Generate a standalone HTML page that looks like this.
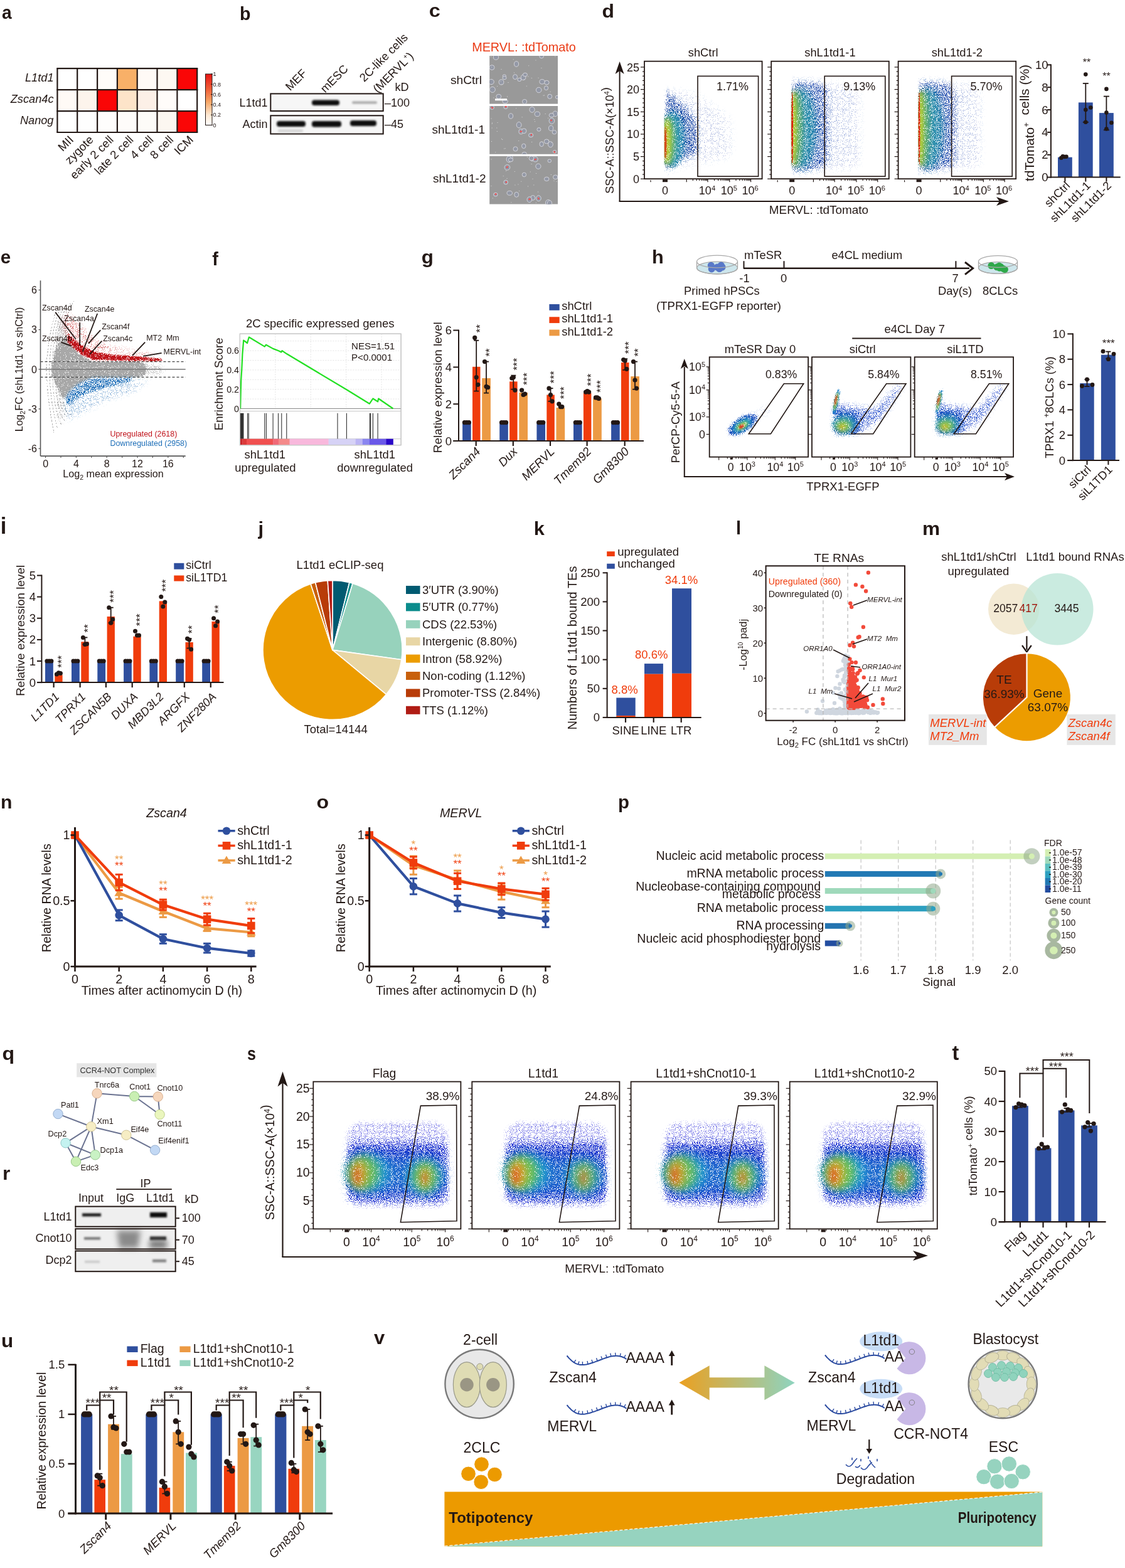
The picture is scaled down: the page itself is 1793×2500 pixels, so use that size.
<!DOCTYPE html>
<html><head><meta charset="utf-8"><title>Figure</title>
<style>html,body{margin:0;padding:0;background:#fff;}svg{display:block;}
text{font-family:'Liberation Sans', Arial, sans-serif;}</style></head>
<body><svg width="1793" height="2500" viewBox="0 0 1793 2500" fill="#231815" font-family="'Liberation Sans', Arial, sans-serif">
<rect width="1793" height="2500" fill="#fff"/>
<text x="0" y="0" font-size="29.4" font-weight="bold" transform="translate(3.1 29.7) scale(0.96 1)">a</text>
<rect x="91.4" y="109.2" width="31.8" height="33.9" fill="#ffffff" />
<rect x="123.2" y="109.2" width="31.8" height="33.9" fill="#ffffff" />
<rect x="155.1" y="109.2" width="31.8" height="33.9" fill="#fffcf9" />
<rect x="186.9" y="109.2" width="31.8" height="33.9" fill="#f8b068" />
<rect x="218.7" y="109.2" width="31.8" height="33.9" fill="#fffaf6" />
<rect x="250.5" y="109.2" width="31.8" height="33.9" fill="#fdf8f2" />
<rect x="282.4" y="109.2" width="31.8" height="33.9" fill="#fa0606" />
<rect x="91.4" y="143.1" width="31.8" height="33.9" fill="#fffaf6" />
<rect x="123.2" y="143.1" width="31.8" height="33.9" fill="#fdf4ec" />
<rect x="155.1" y="143.1" width="31.8" height="33.9" fill="#fa0606" />
<rect x="186.9" y="143.1" width="31.8" height="33.9" fill="#fde4c9" />
<rect x="218.7" y="143.1" width="31.8" height="33.9" fill="#fcf0e7" />
<rect x="250.5" y="143.1" width="31.8" height="33.9" fill="#fffcfa" />
<rect x="282.4" y="143.1" width="31.8" height="33.9" fill="#ffffff" />
<rect x="91.4" y="177.1" width="31.8" height="33.9" fill="#ffffff" />
<rect x="123.2" y="177.1" width="31.8" height="33.9" fill="#fefefe" />
<rect x="155.1" y="177.1" width="31.8" height="33.9" fill="#fefdfc" />
<rect x="186.9" y="177.1" width="31.8" height="33.9" fill="#fefcfa" />
<rect x="218.7" y="177.1" width="31.8" height="33.9" fill="#fdfbf8" />
<rect x="250.5" y="177.1" width="31.8" height="33.9" fill="#fcf7f1" />
<rect x="282.4" y="177.1" width="31.8" height="33.9" fill="#fa0606" />
<line x1="91.4" y1="109.2" x2="91.4" y2="211.0" stroke="#231815" stroke-width="2.2" />
<line x1="123.2" y1="109.2" x2="123.2" y2="211.0" stroke="#231815" stroke-width="2.2" />
<line x1="155.1" y1="109.2" x2="155.1" y2="211.0" stroke="#231815" stroke-width="2.2" />
<line x1="186.9" y1="109.2" x2="186.9" y2="211.0" stroke="#231815" stroke-width="2.2" />
<line x1="218.7" y1="109.2" x2="218.7" y2="211.0" stroke="#231815" stroke-width="2.2" />
<line x1="250.5" y1="109.2" x2="250.5" y2="211.0" stroke="#231815" stroke-width="2.2" />
<line x1="282.4" y1="109.2" x2="282.4" y2="211.0" stroke="#231815" stroke-width="2.2" />
<line x1="314.2" y1="109.2" x2="314.2" y2="211.0" stroke="#231815" stroke-width="2.2" />
<line x1="90.3" y1="109.2" x2="315.3" y2="109.2" stroke="#231815" stroke-width="2.2" />
<line x1="90.3" y1="143.1" x2="315.3" y2="143.1" stroke="#231815" stroke-width="2.2" />
<line x1="90.3" y1="177.1" x2="315.3" y2="177.1" stroke="#231815" stroke-width="2.2" />
<line x1="90.3" y1="211.0" x2="315.3" y2="211.0" stroke="#231815" stroke-width="2.2" />
<text x="85.5" y="130.4" font-size="18.2" text-anchor="end" font-style="italic">L1td1</text>
<text x="85.5" y="164.3" font-size="18.2" text-anchor="end" font-style="italic">Zscan4c</text>
<text x="85.5" y="198.2" font-size="18.2" text-anchor="end" font-style="italic">Nanog</text>
<text x="118.3" y="224.0" font-size="18.6" text-anchor="end" transform="rotate(-45 118.3 224.0)">MII</text>
<text x="150.1" y="224.0" font-size="18.6" text-anchor="end" transform="rotate(-45 150.1 224.0)">zygote</text>
<text x="182.0" y="224.0" font-size="18.6" text-anchor="end" transform="rotate(-45 182.0 224.0)">early 2 cell</text>
<text x="213.8" y="224.0" font-size="18.6" text-anchor="end" transform="rotate(-45 213.8 224.0)">late 2 cell</text>
<text x="245.6" y="224.0" font-size="18.6" text-anchor="end" transform="rotate(-45 245.6 224.0)">4 cell</text>
<text x="277.5" y="224.0" font-size="18.6" text-anchor="end" transform="rotate(-45 277.5 224.0)">8 cell</text>
<text x="309.3" y="224.0" font-size="18.6" text-anchor="end" transform="rotate(-45 309.3 224.0)">ICM</text>
<defs><linearGradient id="cbar" x1="0" y1="1" x2="0" y2="0"><stop offset="0" stop-color="#ffffff"/><stop offset="0.2" stop-color="#fde8d2"/><stop offset="0.45" stop-color="#f7a868"/><stop offset="0.7" stop-color="#f06038"/><stop offset="1" stop-color="#e81414"/></linearGradient></defs>
<rect x="327.5" y="118.0" width="10.5" height="81.5" fill="url(#cbar)" stroke="#231815" stroke-width="1" />
<line x1="336.0" y1="199.5" x2="339.0" y2="199.5" stroke="#231815" stroke-width="1" />
<text x="339.5" y="202.7" font-size="9">0</text>
<line x1="336.0" y1="183.2" x2="339.0" y2="183.2" stroke="#231815" stroke-width="1" />
<text x="339.5" y="186.4" font-size="9">0.2</text>
<line x1="336.0" y1="166.9" x2="339.0" y2="166.9" stroke="#231815" stroke-width="1" />
<text x="339.5" y="170.1" font-size="9">0.4</text>
<line x1="336.0" y1="150.6" x2="339.0" y2="150.6" stroke="#231815" stroke-width="1" />
<text x="339.5" y="153.8" font-size="9">0.6</text>
<line x1="336.0" y1="134.3" x2="339.0" y2="134.3" stroke="#231815" stroke-width="1" />
<text x="339.5" y="137.5" font-size="9">0.8</text>
<line x1="336.0" y1="118.0" x2="339.0" y2="118.0" stroke="#231815" stroke-width="1" />
<text x="339.5" y="121.2" font-size="9">1</text>
<text x="0" y="0" font-size="28.6" font-weight="bold" transform="translate(382.1 31.7) scale(1.0 1)">b</text>
<defs><filter id="blr1" x="-20%" y="-100%" width="140%" height="300%"><feGaussianBlur stdDeviation="1.6"/></filter><linearGradient id="blotbg" x1="0" y1="0" x2="1" y2="0"><stop offset="0" stop-color="#f0f0f0"/><stop offset="1" stop-color="#e6e6e6"/></linearGradient></defs>
<rect x="431.3" y="149.4" width="179.4" height="27.6" fill="#f6f6f6" stroke="#231815" stroke-width="2" />
<rect x="431.3" y="184.3" width="179.4" height="29.2" fill="#f6f6f6" stroke="#231815" stroke-width="2" />
<g filter="url(#blr1)">
<rect x="497" y="159.5" width="44" height="8.5" rx="4" fill="#0a0a0a"/>
<rect x="561" y="161.5" width="40" height="4" rx="2" fill="#a8a8a8"/>
<rect x="441" y="193" width="46" height="9" rx="4" fill="#0a0a0a"/>
<rect x="497" y="193" width="47" height="9.5" rx="4" fill="#0a0a0a"/>
<rect x="558" y="192" width="42" height="9" rx="4" fill="#0a0a0a"/>
<rect x="443" y="206" width="40" height="5" rx="2" fill="#d6d6d6"/>
</g>
<text x="426.5" y="170.4" font-size="18" text-anchor="end">L1td1</text>
<text x="426.5" y="203.6" font-size="18" text-anchor="end">Actin</text>
<text x="613.0" y="170.4" font-size="18">–100</text>
<text x="613.0" y="203.6" font-size="18">–45</text>
<text x="629.5" y="145.0" font-size="18">kD</text>
<text x="490.0" y="118.0" font-size="18.5" text-anchor="end" transform="rotate(-45 490.0 118.0)">MEF</text>
<text x="556.0" y="111.0" font-size="18.5" text-anchor="end" transform="rotate(-45 556.0 111.0)">mESC</text>
<text x="651.0" y="61.0" font-size="18.5" text-anchor="end" transform="rotate(-45 651.0 61.0)">2C-like cells</text>
<text x="660.0" y="91.0" font-size="18.5" text-anchor="end" transform="rotate(-45 660.0 91.0)">(MERVL<tspan font-size="11" dy="-7">+</tspan><tspan dy="7">)</tspan></text>
<text x="0" y="0" font-size="29.0" font-weight="bold" transform="translate(683.7 26.5) scale(1.12 1)">c</text>
<text x="835.0" y="82.4" font-size="19.8" text-anchor="middle" fill="#ea3a14">MERVL: :tdTomato</text>
<defs><filter id="mblur" x="-30%" y="-30%" width="160%" height="160%"><feGaussianBlur stdDeviation="0.45"/></filter></defs>
<rect x="780.2" y="89.0" width="108.8" height="76.6" fill="#999999" />
<defs><clipPath id="mc1"><rect x="780.2" y="89" width="108.8" height="76.6"/></clipPath></defs>
<g clip-path="url(#mc1)">
<ellipse cx="794.8" cy="153.9" rx="4.0" ry="3.6" fill="#9398a6" stroke="#d8d8de" stroke-width="0.9" filter="url(#mblur)"/>
<ellipse cx="834.1" cy="123.4" rx="3.8" ry="4.2" fill="#9398a6" stroke="#d8d8de" stroke-width="0.9" filter="url(#mblur)"/>
<ellipse cx="790.4" cy="91.2" rx="4.1" ry="4.0" fill="#9398a6" stroke="#d8d8de" stroke-width="0.9" filter="url(#mblur)"/>
<ellipse cx="863.1" cy="89.2" rx="3.4" ry="3.7" fill="#9398a6" stroke="#d8d8de" stroke-width="0.9" filter="url(#mblur)"/>
<ellipse cx="805.1" cy="161.4" rx="4.2" ry="3.4" fill="#9398a6" stroke="#d8d8de" stroke-width="0.9" filter="url(#mblur)"/>
<ellipse cx="783.0" cy="130.5" rx="4.3" ry="4.1" fill="#9398a6" stroke="#d8d8de" stroke-width="0.9" filter="url(#mblur)"/>
<ellipse cx="803.8" cy="121.3" rx="2.7" ry="2.4" fill="#9398a6" stroke="#d8d8de" stroke-width="0.9" filter="url(#mblur)"/>
<ellipse cx="827.8" cy="127.0" rx="3.0" ry="2.7" fill="#9398a6" stroke="#d8d8de" stroke-width="0.9" filter="url(#mblur)"/>
<ellipse cx="804.0" cy="124.2" rx="3.1" ry="2.5" fill="#9398a6" stroke="#d8d8de" stroke-width="0.9" filter="url(#mblur)"/>
<ellipse cx="871.3" cy="131.6" rx="3.8" ry="3.3" fill="#9398a6" stroke="#d8d8de" stroke-width="0.9" filter="url(#mblur)"/>
<ellipse cx="888.2" cy="154.9" rx="2.8" ry="2.6" fill="#9398a6" stroke="#d8d8de" stroke-width="0.9" filter="url(#mblur)"/>
<ellipse cx="858.7" cy="143.5" rx="4.3" ry="4.2" fill="#9398a6" stroke="#d8d8de" stroke-width="0.9" filter="url(#mblur)"/>
<ellipse cx="870.5" cy="140.3" rx="3.1" ry="3.3" fill="#9398a6" stroke="#d8d8de" stroke-width="0.9" filter="url(#mblur)"/>
<ellipse cx="876.2" cy="153.8" rx="3.5" ry="3.6" fill="#9398a6" stroke="#d8d8de" stroke-width="0.9" filter="url(#mblur)"/>
<ellipse cx="784.0" cy="107.6" rx="4.0" ry="3.9" fill="#9398a6" stroke="#d8d8de" stroke-width="0.9" filter="url(#mblur)"/>
<ellipse cx="799.0" cy="131.0" rx="3.9" ry="4.1" fill="#9398a6" stroke="#d8d8de" stroke-width="0.9" filter="url(#mblur)"/>
<ellipse cx="821.0" cy="122.6" rx="3.5" ry="3.9" fill="#9398a6" stroke="#d8d8de" stroke-width="0.9" filter="url(#mblur)"/>
<ellipse cx="836.9" cy="119.1" rx="3.5" ry="2.8" fill="#9398a6" stroke="#d8d8de" stroke-width="0.9" filter="url(#mblur)"/>
<ellipse cx="784.9" cy="142.9" rx="4.4" ry="4.5" fill="#9398a6" stroke="#d8d8de" stroke-width="0.9" filter="url(#mblur)"/>
<ellipse cx="823.0" cy="102.0" rx="3.5" ry="4.2" fill="#9398a6" stroke="#d8d8de" stroke-width="0.9" filter="url(#mblur)"/>
<ellipse cx="864.0" cy="130.3" rx="4.1" ry="3.7" fill="#9398a6" stroke="#d8d8de" stroke-width="0.9" filter="url(#mblur)"/>
<ellipse cx="836.1" cy="162.0" rx="3.6" ry="3.6" fill="#9398a6" stroke="#d8d8de" stroke-width="0.9" filter="url(#mblur)"/>
<path d="M809.5,131.0h1v1h-1zM884.3,89.4h1v1h-1zM865.5,151.8h1v1h-1zM876.6,145.7h1v1h-1zM868.2,128.7h1v1h-1zM841.3,121.6h1v1h-1zM786.3,155.6h1v1h-1zM842.2,104.3h1v1h-1zM835.1,126.1h1v1h-1zM819.0,115.5h1v1h-1zM838.8,136.8h1v1h-1zM846.8,124.1h1v1h-1zM783.2,106.6h1v1h-1zM799.5,133.8h1v1h-1zM873.9,150.2h1v1h-1zM866.9,151.5h1v1h-1zM808.0,153.5h1v1h-1zM853.4,95.4h1v1h-1zM782.0,90.1h1v1h-1zM862.4,108.1h1v1h-1zM792.1,136.9h1v1h-1zM817.7,94.3h1v1h-1zM797.6,129.4h1v1h-1zM798.5,109.9h1v1h-1zM857.6,123.8h1v1h-1z" fill="#d8d8d8" />
</g>
<rect x="780.2" y="169.0" width="108.8" height="76.8" fill="#999999" />
<defs><clipPath id="mc2"><rect x="780.2" y="169" width="108.8" height="76.8"/></clipPath></defs>
<g clip-path="url(#mc2)">
<ellipse cx="884.2" cy="241.8" rx="2.7" ry="2.3" fill="#9398a6" stroke="#d8d8de" stroke-width="0.9" filter="url(#mblur)"/>
<ellipse cx="871.1" cy="225.5" rx="3.8" ry="3.5" fill="#9398a6" stroke="#d8d8de" stroke-width="0.9" filter="url(#mblur)"/>
<ellipse cx="846.1" cy="215.6" rx="3.6" ry="3.1" fill="#9398a6" stroke="#d8d8de" stroke-width="0.9" filter="url(#mblur)"/>
<ellipse cx="827.1" cy="199.2" rx="3.9" ry="4.7" fill="#9398a6" stroke="#d8d8de" stroke-width="0.9" filter="url(#mblur)"/>
<ellipse cx="883.5" cy="210.8" rx="3.4" ry="3.1" fill="#9398a6" stroke="#d8d8de" stroke-width="0.9" filter="url(#mblur)"/>
<ellipse cx="784.1" cy="171.1" rx="3.4" ry="3.2" fill="#9398a6" stroke="#d8d8de" stroke-width="0.9" filter="url(#mblur)"/>
<ellipse cx="821.5" cy="237.5" rx="3.5" ry="3.6" fill="#9398a6" stroke="#d8d8de" stroke-width="0.9" filter="url(#mblur)"/>
<ellipse cx="805.9" cy="170.8" rx="3.2" ry="2.7" fill="#9398a6" stroke="#d8d8de" stroke-width="0.9" filter="url(#mblur)"/>
<ellipse cx="835.7" cy="245.7" rx="3.8" ry="3.3" fill="#9398a6" stroke="#d8d8de" stroke-width="0.9" filter="url(#mblur)"/>
<ellipse cx="877.4" cy="230.2" rx="3.9" ry="4.6" fill="#9398a6" stroke="#d8d8de" stroke-width="0.9" filter="url(#mblur)"/>
<ellipse cx="863.2" cy="229.7" rx="3.2" ry="3.9" fill="#9398a6" stroke="#d8d8de" stroke-width="0.9" filter="url(#mblur)"/>
<ellipse cx="884.9" cy="181.4" rx="4.0" ry="4.3" fill="#9398a6" stroke="#d8d8de" stroke-width="0.9" filter="url(#mblur)"/>
<ellipse cx="830.4" cy="209.7" rx="3.5" ry="4.1" fill="#9398a6" stroke="#d8d8de" stroke-width="0.9" filter="url(#mblur)"/>
<ellipse cx="834.7" cy="232.9" rx="3.2" ry="3.7" fill="#9398a6" stroke="#d8d8de" stroke-width="0.9" filter="url(#mblur)"/>
<ellipse cx="878.1" cy="204.4" rx="3.6" ry="4.2" fill="#9398a6" stroke="#d8d8de" stroke-width="0.9" filter="url(#mblur)"/>
<ellipse cx="858.9" cy="206.4" rx="3.0" ry="2.8" fill="#9398a6" stroke="#d8d8de" stroke-width="0.9" filter="url(#mblur)"/>
<ellipse cx="856.3" cy="181.8" rx="4.2" ry="3.8" fill="#9398a6" stroke="#d8d8de" stroke-width="0.9" filter="url(#mblur)"/>
<ellipse cx="879.4" cy="192.8" rx="4.3" ry="4.7" fill="#9398a6" stroke="#d8d8de" stroke-width="0.9" filter="url(#mblur)"/>
<ellipse cx="835.1" cy="208.8" rx="3.8" ry="3.9" fill="#9398a6" stroke="#d8d8de" stroke-width="0.9" filter="url(#mblur)"/>
<ellipse cx="814.1" cy="185.0" rx="3.5" ry="4.1" fill="#9398a6" stroke="#d8d8de" stroke-width="0.9" filter="url(#mblur)"/>
<ellipse cx="848.0" cy="174.8" rx="4.1" ry="4.4" fill="#9398a6" stroke="#d8d8de" stroke-width="0.9" filter="url(#mblur)"/>
<ellipse cx="879.0" cy="183.7" rx="3.9" ry="3.2" fill="#9398a6" stroke="#d8d8de" stroke-width="0.9" filter="url(#mblur)"/>
<path d="M851.2,190.0h1v1h-1zM804.9,236.2h1v1h-1zM791.8,209.1h1v1h-1zM873.1,187.8h1v1h-1zM803.1,236.6h1v1h-1zM826.2,224.1h1v1h-1zM783.7,196.8h1v1h-1zM798.9,220.7h1v1h-1zM789.2,242.3h1v1h-1zM783.0,225.0h1v1h-1zM782.5,188.6h1v1h-1zM868.7,181.1h1v1h-1zM800.2,222.1h1v1h-1zM822.1,172.3h1v1h-1zM887.9,180.6h1v1h-1zM784.1,195.4h1v1h-1zM847.1,226.0h1v1h-1zM792.5,194.9h1v1h-1zM783.6,203.5h1v1h-1zM863.5,225.8h1v1h-1zM878.3,227.0h1v1h-1zM874.0,223.2h1v1h-1zM831.6,186.3h1v1h-1zM852.1,193.3h1v1h-1zM791.3,203.4h1v1h-1z" fill="#d8d8d8" />
<circle cx="846.9" cy="214.9" r="1.3" fill="#f04848" />
<circle cx="846.4" cy="215.3" r="0.9" fill="#f06060" />
<circle cx="805.9" cy="170.1" r="1.3" fill="#f04848" />
<circle cx="807.3" cy="170.1" r="0.9" fill="#f06060" />
<circle cx="830.6" cy="209.6" r="1.3" fill="#f04848" />
<circle cx="829.0" cy="209.9" r="0.9" fill="#f06060" />
<circle cx="878.6" cy="191.9" r="1.3" fill="#f04848" />
<circle cx="878.0" cy="191.8" r="0.9" fill="#f06060" />
<circle cx="883.4" cy="242.1" r="1.3" fill="#f04848" />
<circle cx="884.2" cy="243.2" r="0.9" fill="#f06060" />
<circle cx="785.0" cy="172.1" r="1.3" fill="#f04848" />
<circle cx="783.3" cy="170.9" r="0.9" fill="#f06060" />
</g>
<rect x="780.2" y="249.0" width="108.8" height="76.5" fill="#999999" />
<defs><clipPath id="mc3"><rect x="780.2" y="249" width="108.8" height="76.5"/></clipPath></defs>
<g clip-path="url(#mc3)">
<ellipse cx="806.1" cy="290.6" rx="3.3" ry="3.4" fill="#9398a6" stroke="#d8d8de" stroke-width="0.9" filter="url(#mblur)"/>
<ellipse cx="848.3" cy="254.0" rx="2.6" ry="3.0" fill="#9398a6" stroke="#d8d8de" stroke-width="0.9" filter="url(#mblur)"/>
<ellipse cx="808.4" cy="266.9" rx="4.4" ry="4.3" fill="#9398a6" stroke="#d8d8de" stroke-width="0.9" filter="url(#mblur)"/>
<ellipse cx="871.2" cy="285.4" rx="3.8" ry="3.2" fill="#9398a6" stroke="#d8d8de" stroke-width="0.9" filter="url(#mblur)"/>
<ellipse cx="849.3" cy="315.4" rx="3.5" ry="3.9" fill="#9398a6" stroke="#d8d8de" stroke-width="0.9" filter="url(#mblur)"/>
<ellipse cx="853.2" cy="253.9" rx="4.0" ry="4.1" fill="#9398a6" stroke="#d8d8de" stroke-width="0.9" filter="url(#mblur)"/>
<ellipse cx="813.0" cy="251.4" rx="4.2" ry="4.1" fill="#9398a6" stroke="#d8d8de" stroke-width="0.9" filter="url(#mblur)"/>
<ellipse cx="858.4" cy="316.2" rx="3.9" ry="4.5" fill="#9398a6" stroke="#d8d8de" stroke-width="0.9" filter="url(#mblur)"/>
<ellipse cx="823.2" cy="310.3" rx="3.4" ry="4.0" fill="#9398a6" stroke="#d8d8de" stroke-width="0.9" filter="url(#mblur)"/>
<ellipse cx="875.8" cy="256.5" rx="2.8" ry="2.5" fill="#9398a6" stroke="#d8d8de" stroke-width="0.9" filter="url(#mblur)"/>
<ellipse cx="885.2" cy="282.4" rx="3.7" ry="3.4" fill="#9398a6" stroke="#d8d8de" stroke-width="0.9" filter="url(#mblur)"/>
<ellipse cx="835.4" cy="278.5" rx="3.2" ry="3.3" fill="#9398a6" stroke="#d8d8de" stroke-width="0.9" filter="url(#mblur)"/>
<ellipse cx="843.8" cy="318.2" rx="3.8" ry="4.5" fill="#9398a6" stroke="#d8d8de" stroke-width="0.9" filter="url(#mblur)"/>
<ellipse cx="873.4" cy="324.8" rx="3.8" ry="3.3" fill="#9398a6" stroke="#d8d8de" stroke-width="0.9" filter="url(#mblur)"/>
<ellipse cx="873.8" cy="322.8" rx="4.2" ry="4.3" fill="#9398a6" stroke="#d8d8de" stroke-width="0.9" filter="url(#mblur)"/>
<ellipse cx="857.9" cy="265.2" rx="4.1" ry="4.2" fill="#9398a6" stroke="#d8d8de" stroke-width="0.9" filter="url(#mblur)"/>
<ellipse cx="811.2" cy="253.9" rx="4.1" ry="4.9" fill="#9398a6" stroke="#d8d8de" stroke-width="0.9" filter="url(#mblur)"/>
<ellipse cx="789.8" cy="310.2" rx="3.3" ry="2.9" fill="#9398a6" stroke="#d8d8de" stroke-width="0.9" filter="url(#mblur)"/>
<ellipse cx="812.2" cy="307.8" rx="4.2" ry="3.4" fill="#9398a6" stroke="#d8d8de" stroke-width="0.9" filter="url(#mblur)"/>
<ellipse cx="847.1" cy="252.4" rx="3.9" ry="3.6" fill="#9398a6" stroke="#d8d8de" stroke-width="0.9" filter="url(#mblur)"/>
<ellipse cx="876.0" cy="324.0" rx="3.5" ry="4.2" fill="#9398a6" stroke="#d8d8de" stroke-width="0.9" filter="url(#mblur)"/>
<ellipse cx="813.9" cy="254.9" rx="3.7" ry="3.0" fill="#9398a6" stroke="#d8d8de" stroke-width="0.9" filter="url(#mblur)"/>
<path d="M801.7,280.2h1v1h-1zM846.6,260.9h1v1h-1zM784.8,315.4h1v1h-1zM814.3,322.3h1v1h-1zM877.8,277.9h1v1h-1zM830.3,288.8h1v1h-1zM850.3,294.6h1v1h-1zM841.0,296.4h1v1h-1zM882.5,287.8h1v1h-1zM827.1,304.1h1v1h-1zM806.1,272.0h1v1h-1zM886.6,288.9h1v1h-1zM839.9,249.9h1v1h-1zM825.4,293.4h1v1h-1zM782.4,296.1h1v1h-1zM849.0,253.6h1v1h-1zM848.5,284.7h1v1h-1zM854.1,276.0h1v1h-1zM857.1,305.5h1v1h-1zM782.6,253.6h1v1h-1zM853.8,322.7h1v1h-1zM807.5,283.9h1v1h-1zM844.7,273.5h1v1h-1zM819.8,272.9h1v1h-1zM820.4,294.6h1v1h-1z" fill="#d8d8d8" />
<circle cx="808.0" cy="266.7" r="1.3" fill="#f04848" />
<circle cx="809.2" cy="265.5" r="0.9" fill="#f06060" />
<circle cx="858.5" cy="316.7" r="1.3" fill="#f04848" />
<circle cx="857.8" cy="315.4" r="0.9" fill="#f06060" />
<circle cx="844.4" cy="317.6" r="1.3" fill="#f04848" />
<circle cx="842.8" cy="318.0" r="0.9" fill="#f06060" />
<circle cx="790.2" cy="309.4" r="1.3" fill="#f04848" />
<circle cx="789.3" cy="309.7" r="0.9" fill="#f06060" />
<circle cx="806.8" cy="290.5" r="1.3" fill="#f04848" />
<circle cx="807.2" cy="289.6" r="0.9" fill="#f06060" />
<circle cx="852.9" cy="254.2" r="1.3" fill="#f04848" />
<circle cx="854.4" cy="253.8" r="0.9" fill="#f06060" />
</g>
<rect x="789.0" y="157.3" width="19.0" height="3.0" fill="#ffffff" />
<text x="768.0" y="133.7" font-size="19.2" text-anchor="end">shCtrl</text>
<text x="773.0" y="213.0" font-size="19" text-anchor="end">shL1td1-1</text>
<text x="774.5" y="291.4" font-size="19" text-anchor="end">shL1td1-2</text>
<text x="0" y="0" font-size="29.5" font-weight="bold" transform="translate(959.6 28.4) scale(1.08 1)">d</text>
<defs><filter id="spk" filterUnits="userSpaceOnUse" x="0" y="0" width="1793" height="2500" color-interpolation-filters="sRGB"><feTurbulence type="fractalNoise" baseFrequency="0.9" numOctaves="1" seed="4" result="n"/><feColorMatrix in="n" type="matrix" values="0 0 0 0 0  0 0 0 0 0  0 0 0 0 0  3 0 0 0 -1" result="na"/><feComposite in="SourceAlpha" in2="na" operator="arithmetic" k1="0" k2="1" k3="-1" k4="0" result="d"/><feComponentTransfer in="d" result="m"><feFuncA type="linear" slope="30" intercept="0"/></feComponentTransfer><feComposite in="SourceGraphic" in2="m" operator="in" result="o"/><feComponentTransfer in="o"><feFuncA type="linear" slope="2.2" intercept="0"/></feComponentTransfer></filter></defs>
<defs><clipPath id="fc1"><rect x="1058.5" y="97.7" width="156.1" height="187.5"/></clipPath></defs>
<g clip-path="url(#fc1)">
<g filter="url(#spk)">
<defs><filter id="gb0" x="-60%" y="-60%" width="220%" height="220%"><feGaussianBlur stdDeviation="7"/></filter></defs>
<path d="M1060.0,140.0 L1110.0,150.0 L1165.0,190.0 L1165.0,250.0 L1110.0,262.0 L1060.0,272.0 Z" fill="#2850b0" fill-opacity="0.16" filter="url(#gb0)"/>
<defs><filter id="gb1" x="-60%" y="-60%" width="220%" height="220%"><feGaussianBlur stdDeviation="5"/></filter></defs>
<path d="M1060.0,142.0 L1080.0,158.0 L1112.0,192.0 L1112.0,245.0 L1080.0,258.0 L1060.0,276.0 Z" fill="#2048a8" fill-opacity="0.42" filter="url(#gb1)"/>
<ellipse cx="1072.0" cy="222.0" rx="18.0" ry="44.0" fill="#38a8b8" fill-opacity="0.7" filter="url(#gb1)"/>
<defs><filter id="gb2" x="-60%" y="-60%" width="220%" height="220%"><feGaussianBlur stdDeviation="4"/></filter></defs>
<ellipse cx="1066.0" cy="225.0" rx="10.0" ry="38.0" fill="#90c840" fill-opacity="0.6" filter="url(#gb2)"/>
<defs><filter id="gb3" x="-60%" y="-60%" width="220%" height="220%"><feGaussianBlur stdDeviation="3"/></filter></defs>
<ellipse cx="1063.0" cy="225.0" rx="6.0" ry="36.0" fill="#c8d030" fill-opacity="0.85" filter="url(#gb3)"/>
<defs><filter id="gb4" x="-60%" y="-60%" width="220%" height="220%"><feGaussianBlur stdDeviation="0.8"/></filter></defs>
<ellipse cx="1060.5" cy="228.0" rx="1.5" ry="26.0" fill="#e02010" fill-opacity="1" filter="url(#gb4)"/>
</g>
</g>
<rect x="1027.0" y="97.7" width="187.6" height="187.5" fill="none" stroke="#231815" stroke-width="1.8" />
<rect x="1112.0" y="121.4" width="96.6" height="159.8" fill="none" stroke="#231815" stroke-width="1.6" />
<text x="1193.0" y="143.5" font-size="18" text-anchor="end">1.71%</text>
<text x="1120.7" y="89.6" font-size="18.3" text-anchor="middle">shCtrl</text>
<line x1="1021.0" y1="285.2" x2="1027.0" y2="285.2" stroke="#231815" stroke-width="1.2" />
<line x1="1024.0" y1="278.1" x2="1027.0" y2="278.1" stroke="#231815" stroke-width="1.2" />
<line x1="1024.0" y1="270.9" x2="1027.0" y2="270.9" stroke="#231815" stroke-width="1.2" />
<line x1="1024.0" y1="263.8" x2="1027.0" y2="263.8" stroke="#231815" stroke-width="1.2" />
<line x1="1024.0" y1="256.7" x2="1027.0" y2="256.7" stroke="#231815" stroke-width="1.2" />
<line x1="1021.0" y1="249.6" x2="1027.0" y2="249.6" stroke="#231815" stroke-width="1.2" />
<line x1="1024.0" y1="242.4" x2="1027.0" y2="242.4" stroke="#231815" stroke-width="1.2" />
<line x1="1024.0" y1="235.3" x2="1027.0" y2="235.3" stroke="#231815" stroke-width="1.2" />
<line x1="1024.0" y1="228.2" x2="1027.0" y2="228.2" stroke="#231815" stroke-width="1.2" />
<line x1="1024.0" y1="221.0" x2="1027.0" y2="221.0" stroke="#231815" stroke-width="1.2" />
<line x1="1021.0" y1="213.9" x2="1027.0" y2="213.9" stroke="#231815" stroke-width="1.2" />
<line x1="1024.0" y1="206.8" x2="1027.0" y2="206.8" stroke="#231815" stroke-width="1.2" />
<line x1="1024.0" y1="199.7" x2="1027.0" y2="199.7" stroke="#231815" stroke-width="1.2" />
<line x1="1024.0" y1="192.5" x2="1027.0" y2="192.5" stroke="#231815" stroke-width="1.2" />
<line x1="1024.0" y1="185.4" x2="1027.0" y2="185.4" stroke="#231815" stroke-width="1.2" />
<line x1="1021.0" y1="178.3" x2="1027.0" y2="178.3" stroke="#231815" stroke-width="1.2" />
<line x1="1024.0" y1="171.2" x2="1027.0" y2="171.2" stroke="#231815" stroke-width="1.2" />
<line x1="1024.0" y1="164.0" x2="1027.0" y2="164.0" stroke="#231815" stroke-width="1.2" />
<line x1="1024.0" y1="156.9" x2="1027.0" y2="156.9" stroke="#231815" stroke-width="1.2" />
<line x1="1024.0" y1="149.8" x2="1027.0" y2="149.8" stroke="#231815" stroke-width="1.2" />
<line x1="1021.0" y1="142.6" x2="1027.0" y2="142.6" stroke="#231815" stroke-width="1.2" />
<line x1="1024.0" y1="135.5" x2="1027.0" y2="135.5" stroke="#231815" stroke-width="1.2" />
<line x1="1024.0" y1="128.4" x2="1027.0" y2="128.4" stroke="#231815" stroke-width="1.2" />
<line x1="1024.0" y1="121.3" x2="1027.0" y2="121.3" stroke="#231815" stroke-width="1.2" />
<line x1="1024.0" y1="114.1" x2="1027.0" y2="114.1" stroke="#231815" stroke-width="1.2" />
<line x1="1021.0" y1="107.0" x2="1027.0" y2="107.0" stroke="#231815" stroke-width="1.2" />
<path d="M1104.4,285.2v3.0M1110.3,285.2v3.0M1114.5,285.2v3.0M1117.8,285.2v3.0M1120.5,285.2v3.0M1122.8,285.2v3.0M1124.7,285.2v3.0M1126.5,285.2v3.0M1138.5,285.2v3.0M1144.6,285.2v3.0M1149.0,285.2v3.0M1152.3,285.2v3.0M1155.1,285.2v3.0M1157.4,285.2v3.0M1159.4,285.2v3.0M1161.2,285.2v3.0M1173.0,285.2v3.0M1178.9,285.2v3.0M1183.1,285.2v3.0M1186.4,285.2v3.0M1189.1,285.2v3.0M1191.4,285.2v3.0M1193.3,285.2v3.0M1195.1,285.2v3.0M1094.2,285.2v5.0M1128.0,285.2v5.0M1162.8,285.2v5.0M1196.6,285.2v5.0" fill="none" stroke="#231815" stroke-width="1.2" />
<line x1="1037.0" y1="287.2" x2="1037.0" y2="290.2" stroke="#231815" stroke-width="1.2" />
<rect x="1056.0" y="286.2" width="8.0" height="4.0" fill="#231815" />
<text x="1060.0" y="310.4" font-size="18" text-anchor="middle">0</text>
<text x="1127.0" y="310.4" font-size="18" text-anchor="middle">10<tspan font-size="11.2" dy="-6.8">4</tspan></text>
<text x="1161.8" y="310.4" font-size="18" text-anchor="middle">10<tspan font-size="11.2" dy="-6.8">5</tspan></text>
<text x="1195.6" y="310.4" font-size="18" text-anchor="middle">10<tspan font-size="11.2" dy="-6.8">6</tspan></text>
<defs><clipPath id="fc2"><rect x="1260.7" y="97.7" width="156.1" height="187.5"/></clipPath></defs>
<g clip-path="url(#fc2)">
<g filter="url(#spk)">
<path d="M1262.2,130.0 L1360.2,135.0 L1370.2,150.0 L1370.2,260.0 L1360.2,268.0 L1262.2,272.0 Z" fill="#2850b0" fill-opacity="0.18" filter="url(#gb0)"/>
<path d="M1262.2,127.0 L1307.2,130.0 L1320.2,142.0 L1320.2,262.0 L1307.2,270.0 L1262.2,277.0 Z" fill="#2048a8" fill-opacity="0.36" filter="url(#gb1)"/>
<defs><filter id="gb5" x="-60%" y="-60%" width="220%" height="220%"><feGaussianBlur stdDeviation="6"/></filter></defs>
<ellipse cx="1278.2" cy="205.0" rx="22.0" ry="64.0" fill="#38a8b0" fill-opacity="0.6" filter="url(#gb5)"/>
<ellipse cx="1269.2" cy="205.0" rx="9.0" ry="62.0" fill="#90c840" fill-opacity="0.55" filter="url(#gb2)"/>
<defs><filter id="gb6" x="-60%" y="-60%" width="220%" height="220%"><feGaussianBlur stdDeviation="2.5"/></filter></defs>
<ellipse cx="1265.2" cy="205.0" rx="4.0" ry="60.0" fill="#c0d030" fill-opacity="0.85" filter="url(#gb6)"/>
<defs><filter id="gb7" x="-60%" y="-60%" width="220%" height="220%"><feGaussianBlur stdDeviation="0.7"/></filter></defs>
<ellipse cx="1262.7" cy="205.0" rx="1.3" ry="58.0" fill="#e02010" fill-opacity="1" filter="url(#gb7)"/>
</g>
</g>
<rect x="1229.2" y="97.7" width="187.6" height="187.5" fill="none" stroke="#231815" stroke-width="1.8" />
<rect x="1314.2" y="121.4" width="96.6" height="159.8" fill="none" stroke="#231815" stroke-width="1.6" />
<text x="1395.2" y="143.5" font-size="18" text-anchor="end">9.13%</text>
<text x="1322.9" y="89.6" font-size="18.3" text-anchor="middle">shL1td1-1</text>
<line x1="1223.2" y1="285.2" x2="1229.2" y2="285.2" stroke="#231815" stroke-width="1.2" />
<line x1="1226.2" y1="278.1" x2="1229.2" y2="278.1" stroke="#231815" stroke-width="1.2" />
<line x1="1226.2" y1="270.9" x2="1229.2" y2="270.9" stroke="#231815" stroke-width="1.2" />
<line x1="1226.2" y1="263.8" x2="1229.2" y2="263.8" stroke="#231815" stroke-width="1.2" />
<line x1="1226.2" y1="256.7" x2="1229.2" y2="256.7" stroke="#231815" stroke-width="1.2" />
<line x1="1223.2" y1="249.6" x2="1229.2" y2="249.6" stroke="#231815" stroke-width="1.2" />
<line x1="1226.2" y1="242.4" x2="1229.2" y2="242.4" stroke="#231815" stroke-width="1.2" />
<line x1="1226.2" y1="235.3" x2="1229.2" y2="235.3" stroke="#231815" stroke-width="1.2" />
<line x1="1226.2" y1="228.2" x2="1229.2" y2="228.2" stroke="#231815" stroke-width="1.2" />
<line x1="1226.2" y1="221.0" x2="1229.2" y2="221.0" stroke="#231815" stroke-width="1.2" />
<line x1="1223.2" y1="213.9" x2="1229.2" y2="213.9" stroke="#231815" stroke-width="1.2" />
<line x1="1226.2" y1="206.8" x2="1229.2" y2="206.8" stroke="#231815" stroke-width="1.2" />
<line x1="1226.2" y1="199.7" x2="1229.2" y2="199.7" stroke="#231815" stroke-width="1.2" />
<line x1="1226.2" y1="192.5" x2="1229.2" y2="192.5" stroke="#231815" stroke-width="1.2" />
<line x1="1226.2" y1="185.4" x2="1229.2" y2="185.4" stroke="#231815" stroke-width="1.2" />
<line x1="1223.2" y1="178.3" x2="1229.2" y2="178.3" stroke="#231815" stroke-width="1.2" />
<line x1="1226.2" y1="171.2" x2="1229.2" y2="171.2" stroke="#231815" stroke-width="1.2" />
<line x1="1226.2" y1="164.0" x2="1229.2" y2="164.0" stroke="#231815" stroke-width="1.2" />
<line x1="1226.2" y1="156.9" x2="1229.2" y2="156.9" stroke="#231815" stroke-width="1.2" />
<line x1="1226.2" y1="149.8" x2="1229.2" y2="149.8" stroke="#231815" stroke-width="1.2" />
<line x1="1223.2" y1="142.6" x2="1229.2" y2="142.6" stroke="#231815" stroke-width="1.2" />
<line x1="1226.2" y1="135.5" x2="1229.2" y2="135.5" stroke="#231815" stroke-width="1.2" />
<line x1="1226.2" y1="128.4" x2="1229.2" y2="128.4" stroke="#231815" stroke-width="1.2" />
<line x1="1226.2" y1="121.3" x2="1229.2" y2="121.3" stroke="#231815" stroke-width="1.2" />
<line x1="1226.2" y1="114.1" x2="1229.2" y2="114.1" stroke="#231815" stroke-width="1.2" />
<line x1="1223.2" y1="107.0" x2="1229.2" y2="107.0" stroke="#231815" stroke-width="1.2" />
<path d="M1306.6,285.2v3.0M1312.5,285.2v3.0M1316.7,285.2v3.0M1320.0,285.2v3.0M1322.7,285.2v3.0M1325.0,285.2v3.0M1326.9,285.2v3.0M1328.7,285.2v3.0M1340.7,285.2v3.0M1346.8,285.2v3.0M1351.2,285.2v3.0M1354.5,285.2v3.0M1357.3,285.2v3.0M1359.6,285.2v3.0M1361.6,285.2v3.0M1363.4,285.2v3.0M1375.2,285.2v3.0M1381.1,285.2v3.0M1385.3,285.2v3.0M1388.6,285.2v3.0M1391.3,285.2v3.0M1393.6,285.2v3.0M1395.5,285.2v3.0M1397.3,285.2v3.0M1296.4,285.2v5.0M1330.2,285.2v5.0M1365.0,285.2v5.0M1398.8,285.2v5.0" fill="none" stroke="#231815" stroke-width="1.2" />
<line x1="1239.2" y1="287.2" x2="1239.2" y2="290.2" stroke="#231815" stroke-width="1.2" />
<rect x="1258.2" y="286.2" width="8.0" height="4.0" fill="#231815" />
<text x="1262.2" y="310.4" font-size="18" text-anchor="middle">0</text>
<text x="1329.2" y="310.4" font-size="18" text-anchor="middle">10<tspan font-size="11.2" dy="-6.8">4</tspan></text>
<text x="1364.0" y="310.4" font-size="18" text-anchor="middle">10<tspan font-size="11.2" dy="-6.8">5</tspan></text>
<text x="1397.8" y="310.4" font-size="18" text-anchor="middle">10<tspan font-size="11.2" dy="-6.8">6</tspan></text>
<defs><clipPath id="fc3"><rect x="1463.1" y="97.7" width="156.1" height="187.5"/></clipPath></defs>
<g clip-path="url(#fc3)">
<g filter="url(#spk)">
<path d="M1464.6,130.0 L1552.6,135.0 L1562.6,150.0 L1562.6,260.0 L1552.6,268.0 L1464.6,272.0 Z" fill="#2850b0" fill-opacity="0.18" filter="url(#gb0)"/>
<path d="M1464.6,127.0 L1509.6,130.0 L1522.6,142.0 L1522.6,262.0 L1509.6,270.0 L1464.6,277.0 Z" fill="#2048a8" fill-opacity="0.36" filter="url(#gb1)"/>
<ellipse cx="1480.6" cy="205.0" rx="22.0" ry="64.0" fill="#38a8b0" fill-opacity="0.6" filter="url(#gb5)"/>
<ellipse cx="1471.6" cy="205.0" rx="9.0" ry="62.0" fill="#90c840" fill-opacity="0.55" filter="url(#gb2)"/>
<ellipse cx="1467.6" cy="205.0" rx="4.0" ry="60.0" fill="#c0d030" fill-opacity="0.85" filter="url(#gb6)"/>
<ellipse cx="1465.1" cy="205.0" rx="1.3" ry="58.0" fill="#e02010" fill-opacity="1" filter="url(#gb7)"/>
</g>
</g>
<rect x="1431.6" y="97.7" width="187.6" height="187.5" fill="none" stroke="#231815" stroke-width="1.8" />
<rect x="1516.6" y="121.4" width="96.6" height="159.8" fill="none" stroke="#231815" stroke-width="1.6" />
<text x="1597.6" y="143.5" font-size="18" text-anchor="end">5.70%</text>
<text x="1525.3" y="89.6" font-size="18.3" text-anchor="middle">shL1td1-2</text>
<line x1="1425.6" y1="285.2" x2="1431.6" y2="285.2" stroke="#231815" stroke-width="1.2" />
<line x1="1428.6" y1="278.1" x2="1431.6" y2="278.1" stroke="#231815" stroke-width="1.2" />
<line x1="1428.6" y1="270.9" x2="1431.6" y2="270.9" stroke="#231815" stroke-width="1.2" />
<line x1="1428.6" y1="263.8" x2="1431.6" y2="263.8" stroke="#231815" stroke-width="1.2" />
<line x1="1428.6" y1="256.7" x2="1431.6" y2="256.7" stroke="#231815" stroke-width="1.2" />
<line x1="1425.6" y1="249.6" x2="1431.6" y2="249.6" stroke="#231815" stroke-width="1.2" />
<line x1="1428.6" y1="242.4" x2="1431.6" y2="242.4" stroke="#231815" stroke-width="1.2" />
<line x1="1428.6" y1="235.3" x2="1431.6" y2="235.3" stroke="#231815" stroke-width="1.2" />
<line x1="1428.6" y1="228.2" x2="1431.6" y2="228.2" stroke="#231815" stroke-width="1.2" />
<line x1="1428.6" y1="221.0" x2="1431.6" y2="221.0" stroke="#231815" stroke-width="1.2" />
<line x1="1425.6" y1="213.9" x2="1431.6" y2="213.9" stroke="#231815" stroke-width="1.2" />
<line x1="1428.6" y1="206.8" x2="1431.6" y2="206.8" stroke="#231815" stroke-width="1.2" />
<line x1="1428.6" y1="199.7" x2="1431.6" y2="199.7" stroke="#231815" stroke-width="1.2" />
<line x1="1428.6" y1="192.5" x2="1431.6" y2="192.5" stroke="#231815" stroke-width="1.2" />
<line x1="1428.6" y1="185.4" x2="1431.6" y2="185.4" stroke="#231815" stroke-width="1.2" />
<line x1="1425.6" y1="178.3" x2="1431.6" y2="178.3" stroke="#231815" stroke-width="1.2" />
<line x1="1428.6" y1="171.2" x2="1431.6" y2="171.2" stroke="#231815" stroke-width="1.2" />
<line x1="1428.6" y1="164.0" x2="1431.6" y2="164.0" stroke="#231815" stroke-width="1.2" />
<line x1="1428.6" y1="156.9" x2="1431.6" y2="156.9" stroke="#231815" stroke-width="1.2" />
<line x1="1428.6" y1="149.8" x2="1431.6" y2="149.8" stroke="#231815" stroke-width="1.2" />
<line x1="1425.6" y1="142.6" x2="1431.6" y2="142.6" stroke="#231815" stroke-width="1.2" />
<line x1="1428.6" y1="135.5" x2="1431.6" y2="135.5" stroke="#231815" stroke-width="1.2" />
<line x1="1428.6" y1="128.4" x2="1431.6" y2="128.4" stroke="#231815" stroke-width="1.2" />
<line x1="1428.6" y1="121.3" x2="1431.6" y2="121.3" stroke="#231815" stroke-width="1.2" />
<line x1="1428.6" y1="114.1" x2="1431.6" y2="114.1" stroke="#231815" stroke-width="1.2" />
<line x1="1425.6" y1="107.0" x2="1431.6" y2="107.0" stroke="#231815" stroke-width="1.2" />
<path d="M1509.0,285.2v3.0M1514.9,285.2v3.0M1519.1,285.2v3.0M1522.4,285.2v3.0M1525.1,285.2v3.0M1527.4,285.2v3.0M1529.3,285.2v3.0M1531.1,285.2v3.0M1543.1,285.2v3.0M1549.2,285.2v3.0M1553.6,285.2v3.0M1556.9,285.2v3.0M1559.7,285.2v3.0M1562.0,285.2v3.0M1564.0,285.2v3.0M1565.8,285.2v3.0M1577.6,285.2v3.0M1583.5,285.2v3.0M1587.7,285.2v3.0M1591.0,285.2v3.0M1593.7,285.2v3.0M1596.0,285.2v3.0M1597.9,285.2v3.0M1599.7,285.2v3.0M1498.8,285.2v5.0M1532.6,285.2v5.0M1567.4,285.2v5.0M1601.2,285.2v5.0" fill="none" stroke="#231815" stroke-width="1.2" />
<line x1="1441.6" y1="287.2" x2="1441.6" y2="290.2" stroke="#231815" stroke-width="1.2" />
<rect x="1460.6" y="286.2" width="8.0" height="4.0" fill="#231815" />
<text x="1464.6" y="310.4" font-size="18" text-anchor="middle">0</text>
<text x="1531.6" y="310.4" font-size="18" text-anchor="middle">10<tspan font-size="11.2" dy="-6.8">4</tspan></text>
<text x="1566.4" y="310.4" font-size="18" text-anchor="middle">10<tspan font-size="11.2" dy="-6.8">5</tspan></text>
<text x="1600.2" y="310.4" font-size="18" text-anchor="middle">10<tspan font-size="11.2" dy="-6.8">6</tspan></text>
<text x="1019.0" y="291.5" font-size="18" text-anchor="end">0</text>
<text x="1019.0" y="255.9" font-size="18" text-anchor="end">5</text>
<text x="1019.0" y="220.3" font-size="18" text-anchor="end">10</text>
<text x="1019.0" y="184.7" font-size="18" text-anchor="end">15</text>
<text x="1019.0" y="149.1" font-size="18" text-anchor="end">20</text>
<text x="1019.0" y="113.5" font-size="18" text-anchor="end">25</text>
<line x1="987.6" y1="112.0" x2="987.6" y2="321.0" stroke="#231815" stroke-width="2" />
<line x1="986.6" y1="321.0" x2="1595.0" y2="321.0" stroke="#231815" stroke-width="2" />
<path d="M987.6,98.0 L994.6,118.0 L987.6,113.0 L980.6,118.0 Z" fill="#231815" />
<path d="M1608.0,321.0 L1588.0,314.0 L1593.0,321.0 L1588.0,328.0 Z" fill="#231815" />
<text x="977.8" y="224.0" font-size="18.1" text-anchor="middle" transform="rotate(-90 977.8 224.0)">SSC-A::SSC-A(×10<tspan font-size="11.2" dy="-6.9">4</tspan>)</text>
<text x="1225.8" y="341.0" font-size="18.9">MERVL: :tdTomato</text>
<rect x="1686.0" y="250.7" width="22.8" height="31.9" fill="#2f4f9e" />
<rect x="1718.9" y="163.4" width="22.8" height="119.2" fill="#2f4f9e" />
<rect x="1752.0" y="180.1" width="22.8" height="102.5" fill="#2f4f9e" />
<circle cx="1691.4" cy="251.8" r="3.3" fill="#231815" />
<circle cx="1693.9" cy="249.4" r="3.3" fill="#231815" />
<circle cx="1696.9" cy="250.0" r="3.3" fill="#231815" />
<circle cx="1699.4" cy="249.8" r="3.3" fill="#231815" />
<line x1="1730.3" y1="194.8" x2="1730.3" y2="133.0" stroke="#231815" stroke-width="1.8" />
<line x1="1725.8" y1="194.8" x2="1734.8" y2="194.8" stroke="#231815" stroke-width="1.8" />
<line x1="1725.8" y1="133.0" x2="1734.8" y2="133.0" stroke="#231815" stroke-width="1.8" />
<circle cx="1730.3" cy="118.6" r="3.3" fill="#231815" />
<circle cx="1730.3" cy="175.1" r="3.3" fill="#231815" />
<circle cx="1738.3" cy="171.5" r="3.3" fill="#231815" />
<circle cx="1730.3" cy="194.8" r="3.3" fill="#231815" />
<line x1="1763.4" y1="207.3" x2="1763.4" y2="153.6" stroke="#231815" stroke-width="1.8" />
<line x1="1758.9" y1="207.3" x2="1767.9" y2="207.3" stroke="#231815" stroke-width="1.8" />
<line x1="1758.9" y1="153.6" x2="1767.9" y2="153.6" stroke="#231815" stroke-width="1.8" />
<circle cx="1763.4" cy="141.9" r="3.3" fill="#231815" />
<circle cx="1763.4" cy="179.6" r="3.3" fill="#231815" />
<circle cx="1771.4" cy="195.7" r="3.3" fill="#231815" />
<circle cx="1763.4" cy="205.5" r="3.3" fill="#231815" />
<line x1="1674.9" y1="102.4" x2="1674.9" y2="283.6" stroke="#231815" stroke-width="2" />
<line x1="1673.9" y1="282.6" x2="1785.7" y2="282.6" stroke="#231815" stroke-width="2" />
<line x1="1668.9" y1="282.6" x2="1674.9" y2="282.6" stroke="#231815" stroke-width="2" />
<text x="1670.5" y="289.1" font-size="18.5" text-anchor="end">0</text>
<line x1="1668.9" y1="246.8" x2="1674.9" y2="246.8" stroke="#231815" stroke-width="2" />
<text x="1670.5" y="253.3" font-size="18.5" text-anchor="end">2</text>
<line x1="1668.9" y1="210.9" x2="1674.9" y2="210.9" stroke="#231815" stroke-width="2" />
<text x="1670.5" y="217.4" font-size="18.5" text-anchor="end">4</text>
<line x1="1668.9" y1="175.1" x2="1674.9" y2="175.1" stroke="#231815" stroke-width="2" />
<text x="1670.5" y="181.6" font-size="18.5" text-anchor="end">6</text>
<line x1="1668.9" y1="139.2" x2="1674.9" y2="139.2" stroke="#231815" stroke-width="2" />
<text x="1670.5" y="145.7" font-size="18.5" text-anchor="end">8</text>
<line x1="1668.9" y1="103.4" x2="1674.9" y2="103.4" stroke="#231815" stroke-width="2" />
<text x="1670.5" y="109.9" font-size="18.5" text-anchor="end">10</text>
<line x1="1697.4" y1="282.6" x2="1697.4" y2="289.6" stroke="#231815" stroke-width="2" />
<line x1="1730.3" y1="282.6" x2="1730.3" y2="289.6" stroke="#231815" stroke-width="2" />
<line x1="1763.4" y1="282.6" x2="1763.4" y2="289.6" stroke="#231815" stroke-width="2" />
<text x="1732.0" y="105.0" font-size="16" text-anchor="middle">**</text>
<text x="1763.5" y="127.0" font-size="16" text-anchor="middle">**</text>
<text x="1647.7" y="196.0" font-size="21" text-anchor="middle" transform="rotate(-90 1647.7 196.0)" xml:space="preserve">tdTomato<tspan font-size="13.0" dy="-8.0">+</tspan>  cells (%)</text>
<text x="1706.4" y="297.0" font-size="18.5" text-anchor="end" transform="rotate(-45 1706.4 297.0)">shCtrl</text>
<text x="1739.3" y="297.0" font-size="18.5" text-anchor="end" transform="rotate(-45 1739.3 297.0)">shL1td1-1</text>
<text x="1772.4" y="297.0" font-size="18.5" text-anchor="end" transform="rotate(-45 1772.4 297.0)">shL1td1-2</text>
<text x="0" y="0" font-size="29.6" font-weight="bold" transform="translate(0.8 419.5) scale(1.0 1)">e</text>
<defs><clipPath id="fc4"><rect x="65.5" y="447.2" width="230.2" height="278.9"/></clipPath></defs>
<g clip-path="url(#fc4)">
<g filter="url(#spk)">
<path d="M74.0,588.0 Q76.0,540.0 88.0,500.0M74.0,590.0 Q76.0,640.0 86.0,690.0M78.5,588.0 Q80.5,534.0 94.0,496.0M78.5,590.0 Q80.5,646.0 92.0,684.0M83.0,588.0 Q85.0,528.0 100.0,492.0M83.0,590.0 Q85.0,652.0 98.0,678.0M87.5,588.0 Q89.5,522.0 106.0,488.0M87.5,590.0 Q89.5,658.0 104.0,672.0M92.0,588.0 Q94.0,516.0 112.0,484.0M92.0,590.0 Q94.0,664.0 110.0,666.0M96.5,588.0 Q98.5,510.0 118.0,480.0M96.5,590.0 Q98.5,670.0 116.0,660.0" fill="none" stroke="#b4b4b4" stroke-width="1.1" stroke-dasharray="3 2"/>
<defs><filter id="gb8" x="-60%" y="-60%" width="220%" height="220%"><feGaussianBlur stdDeviation="1.5"/></filter></defs>
<path d="M84.0,577.0 L87.0,560.0 L94.0,547.0 L103.0,540.0 L111.0,548.0 L125.0,564.0 L148.0,577.0 Z" fill="#a8a8a8" fill-opacity="1.0" filter="url(#gb8)"/>
<path d="M86.0,560.0 L90.0,520.0 L100.0,500.0 L108.0,525.0 L111.0,548.0 L103.0,540.0 L94.0,547.0 Z" fill="#a8a8a8" fill-opacity="0.35" filter="url(#gb3)"/>
<path d="M84.0,601.0 L148.0,601.0 L125.0,612.0 L110.0,625.0 L104.0,636.0 L98.0,632.0 L91.0,616.0 L86.0,607.0 Z" fill="#a8a8a8" fill-opacity="1.0" filter="url(#gb8)"/>
<path d="M88.0,612.0 L100.0,632.0 L104.0,645.0 L98.0,680.0 L90.0,660.0 Z" fill="#a8a8a8" fill-opacity="0.3" filter="url(#gb3)"/>
<defs><filter id="gb9" x="-60%" y="-60%" width="220%" height="220%"><feGaussianBlur stdDeviation="1.2"/></filter></defs>
<path d="M82.0,577.0 L222.0,577.0 L232.0,581.0 L232.0,597.0 L222.0,601.0 L82.0,601.0 Z" fill="#a8a8a8" fill-opacity="1.0" filter="url(#gb9)"/>
<path d="M222.0,578.0 L255.0,580.0 L265.0,589.0 L255.0,598.0 L222.0,600.0 Z" fill="#a8a8a8" fill-opacity="0.35" filter="url(#gb3)"/>
<path d="M108.0,546.0 L118.0,555.0 L130.0,565.0 L148.0,574.0 L222.0,575.5 L258.0,575.5 L258.0,572.0 L222.0,569.0 L180.0,566.0 L150.0,561.0 L130.0,551.0 L118.0,541.0 L108.0,532.0 Z" fill="#c0141c" fill-opacity="0.9" filter="url(#gb9)"/>
<path d="M100.0,505.0 L110.0,500.0 L125.0,515.0 L150.0,540.0 L190.0,555.0 L240.0,563.0 L265.0,570.0 L222.0,569.0 L150.0,561.0 L118.0,541.0 L104.0,530.0 Z" fill="#c0141c" fill-opacity="0.3" filter="url(#gb2)"/>
<defs><filter id="gb10" x="-60%" y="-60%" width="220%" height="220%"><feGaussianBlur stdDeviation="2"/></filter></defs>
<path d="M104.0,636.0 L110.0,625.0 L125.0,612.0 L148.0,602.0 L215.0,602.0 L205.0,610.0 L180.0,616.0 L150.0,624.0 L125.0,634.0 L108.0,648.0 Z" fill="#1f6fb8" fill-opacity="0.55" filter="url(#gb10)"/>
<path d="M104.0,645.0 L130.0,630.0 L170.0,620.0 L215.0,606.0 L240.0,606.0 L215.0,625.0 L170.0,640.0 L130.0,660.0 L108.0,672.0 Z" fill="#1f6fb8" fill-opacity="0.25" filter="url(#gb2)"/>
</g>
</g>
<line x1="64.5" y1="576.6" x2="295.7" y2="576.6" stroke="#444" stroke-width="1.2" stroke-dasharray="4 3"/>
<line x1="64.5" y1="601.4" x2="295.7" y2="601.4" stroke="#444" stroke-width="1.2" stroke-dasharray="4 3"/>
<line x1="64.5" y1="588.8" x2="295.7" y2="588.8" stroke="#777" stroke-width="1.6" />
<line x1="64.5" y1="447.2" x2="64.5" y2="727.1" stroke="#555" stroke-width="1.6" />
<line x1="64.5" y1="727.1" x2="295.7" y2="727.1" stroke="#555" stroke-width="1.6" />
<line x1="72.6" y1="727.1" x2="72.6" y2="730.1" stroke="#555" stroke-width="1.2" />
<line x1="97.0" y1="727.1" x2="97.0" y2="730.1" stroke="#555" stroke-width="1.2" />
<line x1="121.4" y1="727.1" x2="121.4" y2="730.1" stroke="#555" stroke-width="1.2" />
<line x1="145.8" y1="727.1" x2="145.8" y2="730.1" stroke="#555" stroke-width="1.2" />
<line x1="170.2" y1="727.1" x2="170.2" y2="730.1" stroke="#555" stroke-width="1.2" />
<line x1="194.6" y1="727.1" x2="194.6" y2="730.1" stroke="#555" stroke-width="1.2" />
<line x1="219.0" y1="727.1" x2="219.0" y2="730.1" stroke="#555" stroke-width="1.2" />
<line x1="243.4" y1="727.1" x2="243.4" y2="730.1" stroke="#555" stroke-width="1.2" />
<line x1="267.8" y1="727.1" x2="267.8" y2="730.1" stroke="#555" stroke-width="1.2" />
<line x1="292.2" y1="727.1" x2="292.2" y2="730.1" stroke="#555" stroke-width="1.2" />
<line x1="61.5" y1="462.4" x2="64.5" y2="462.4" stroke="#555" stroke-width="1.2" />
<text x="59.0" y="468.2" font-size="16" text-anchor="end">6</text>
<line x1="61.5" y1="525.6" x2="64.5" y2="525.6" stroke="#555" stroke-width="1.2" />
<text x="59.0" y="531.4" font-size="16" text-anchor="end">3</text>
<line x1="61.5" y1="588.8" x2="64.5" y2="588.8" stroke="#555" stroke-width="1.2" />
<text x="59.0" y="594.6" font-size="16" text-anchor="end">0</text>
<line x1="61.5" y1="652.0" x2="64.5" y2="652.0" stroke="#555" stroke-width="1.2" />
<text x="59.0" y="657.8" font-size="16" text-anchor="end">-3</text>
<line x1="61.5" y1="715.2" x2="64.5" y2="715.2" stroke="#555" stroke-width="1.2" />
<text x="59.0" y="721.0" font-size="16" text-anchor="end">-6</text>
<text x="72.6" y="745.4" font-size="16" text-anchor="middle">0</text>
<text x="121.4" y="745.4" font-size="16" text-anchor="middle">4</text>
<text x="170.2" y="745.4" font-size="16" text-anchor="middle">8</text>
<text x="219.0" y="745.4" font-size="16" text-anchor="middle">12</text>
<text x="267.8" y="745.4" font-size="16" text-anchor="middle">16</text>
<text x="180.5" y="761.0" font-size="16.2" text-anchor="middle">Log<tspan font-size="10.5" dy="4.0">2</tspan><tspan dy="-4.0"> mean expression</tspan></text>
<text x="35.7" y="589.0" font-size="16.5" text-anchor="middle" transform="rotate(-90 35.7 589.0)">Log<tspan font-size="10.7" dy="4.1">2</tspan><tspan dy="-4.1">FC (shL1td1 vs shCtrl)</tspan></text>
<text x="175.5" y="695.7" font-size="12.4" fill="#c0141c">Upregulated (2618)</text>
<text x="175.5" y="711.0" font-size="12.4" fill="#1f6fb8">Downregulated (2958)</text>
<text x="67.0" y="494.9" font-size="12.4" xml:space="preserve">Zscan4d</text>
<line x1="88.2" y1="497.9" x2="120.7" y2="540.5" stroke="#231815" stroke-width="1.8" />
<text x="134.9" y="497.0" font-size="12.4" xml:space="preserve">Zscan4e</text>
<line x1="155.2" y1="500.0" x2="131.8" y2="560.8" stroke="#231815" stroke-width="1.8" />
<text x="102.4" y="512.0" font-size="12.4" xml:space="preserve">Zscan4a</text>
<line x1="127.2" y1="514.2" x2="127.2" y2="550.7" stroke="#231815" stroke-width="1.8" />
<text x="162.3" y="525.3" font-size="12.4" xml:space="preserve">Zscan4f</text>
<line x1="160.2" y1="526.3" x2="141.0" y2="547.6" stroke="#231815" stroke-width="1.8" />
<text x="67.0" y="543.6" font-size="12.4" xml:space="preserve">Zscan4b</text>
<line x1="97.4" y1="545.6" x2="113.6" y2="551.7" stroke="#231815" stroke-width="1.8" />
<text x="164.3" y="543.6" font-size="12.4" xml:space="preserve">Zscan4c</text>
<line x1="162.3" y1="543.6" x2="143.0" y2="564.9" stroke="#231815" stroke-width="1.8" />
<text x="233.3" y="542.6" font-size="12.4" xml:space="preserve">MT2  Mm</text>
<line x1="231.2" y1="545.6" x2="211.0" y2="566.9" stroke="#231815" stroke-width="1.8" />
<text x="260.6" y="564.9" font-size="12.4" xml:space="preserve">MERVL-int</text>
<line x1="257.6" y1="562.8" x2="228.2" y2="567.9" stroke="#231815" stroke-width="1.8" />
<text x="0" y="0" font-size="29.0" font-weight="bold" transform="translate(338.3 423.0) scale(1.0 1)">f</text>
<rect x="382.4" y="532.2" width="256.7" height="177.5" fill="#fff" stroke="#c8c8c8" stroke-width="1.2" />
<line x1="438.8" y1="532.2" x2="438.8" y2="651.5" stroke="#ddd" stroke-width="0.8" stroke-dasharray="2 2"/>
<line x1="495.2" y1="532.2" x2="495.2" y2="651.5" stroke="#ddd" stroke-width="0.8" stroke-dasharray="2 2"/>
<line x1="551.7" y1="532.2" x2="551.7" y2="651.5" stroke="#ddd" stroke-width="0.8" stroke-dasharray="2 2"/>
<line x1="608.1" y1="532.2" x2="608.1" y2="651.5" stroke="#ddd" stroke-width="0.8" stroke-dasharray="2 2"/>
<line x1="382.4" y1="636.1" x2="639.1" y2="636.1" stroke="#ddd" stroke-width="0.8" stroke-dasharray="2 2"/>
<line x1="382.4" y1="620.7" x2="639.1" y2="620.7" stroke="#ddd" stroke-width="0.8" stroke-dasharray="2 2"/>
<line x1="382.4" y1="605.3" x2="639.1" y2="605.3" stroke="#ddd" stroke-width="0.8" stroke-dasharray="2 2"/>
<line x1="382.4" y1="589.9" x2="639.1" y2="589.9" stroke="#ddd" stroke-width="0.8" stroke-dasharray="2 2"/>
<line x1="382.4" y1="574.5" x2="639.1" y2="574.5" stroke="#ddd" stroke-width="0.8" stroke-dasharray="2 2"/>
<line x1="382.4" y1="559.1" x2="639.1" y2="559.1" stroke="#ddd" stroke-width="0.8" stroke-dasharray="2 2"/>
<line x1="382.4" y1="543.7" x2="639.1" y2="543.7" stroke="#ddd" stroke-width="0.8" stroke-dasharray="2 2"/>
<line x1="382.4" y1="651.5" x2="639.1" y2="651.5" stroke="#888" stroke-width="1.2" />
<line x1="382.4" y1="655.5" x2="639.1" y2="655.5" stroke="#c8c8c8" stroke-width="1.0" />
<line x1="382.4" y1="699.7" x2="639.1" y2="699.7" stroke="#c8c8c8" stroke-width="1.0" />
<path d="M383.1,651.5 L383.7,624.5 L384.2,606.8 L385.3,589.1 L386.4,564.7 L388.2,542.6 L394.1,547.0 L396.8,537.5 L421.8,552.6 L424.0,549.7 L435.1,555.9 L443.9,559.2 L448.3,561.4 L449.5,559.2 L457.2,564.3 L552.4,621.2 L588.9,643.7 L594.4,635.5 L602.1,640.4 L603.2,635.5 L626.5,651.5" fill="none" stroke="#22e022" stroke-width="2.2" stroke-linejoin="round"/>
<path d="M383.5,658.8V699.7M384.2,658.8V699.7M384.8,658.8V699.7M385.7,658.8V699.7M386.4,658.8V699.7M387.1,658.8V699.7M387.9,658.8V699.7M394.6,658.8V699.7M396.3,658.8V699.7M421.8,658.8V699.7M424.4,658.8V699.7M435.1,658.8V699.7M443.5,658.8V699.7M448.8,658.8V699.7M456.8,658.8V699.7M538.0,658.8V699.7M552.4,658.8V699.7M589.5,658.8V699.7M590.4,658.8V699.7M594.4,658.8V699.7M602.1,658.8V699.7" fill="none" stroke="#333" stroke-width="1.1" />
<rect x="382.4" y="699.7" width="4.3" height="10.0" fill="#c8282c" />
<rect x="386.4" y="699.7" width="6.9" height="10.0" fill="#dc3a3a" />
<rect x="393.0" y="699.7" width="42.3" height="10.0" fill="#f05050" />
<rect x="435.1" y="699.7" width="9.2" height="10.0" fill="#f06a78" />
<rect x="443.9" y="699.7" width="18.0" height="10.0" fill="#f48a8a" />
<rect x="461.6" y="699.7" width="62.3" height="10.0" fill="#f8b8dc" />
<rect x="523.6" y="699.7" width="43.5" height="10.0" fill="#d6d2f6" />
<rect x="566.7" y="699.7" width="11.4" height="10.0" fill="#bcb6f4" />
<rect x="577.8" y="699.7" width="11.4" height="10.0" fill="#8a86f0" />
<rect x="588.9" y="699.7" width="26.9" height="10.0" fill="#6a58e8" />
<rect x="615.4" y="699.7" width="11.4" height="10.0" fill="#2a08c8" />
<rect x="382.4" y="532.2" width="256.7" height="177.5" fill="none" stroke="#c8c8c8" stroke-width="1.2" />
<text x="381.0" y="656.5" font-size="14.3" text-anchor="end">0</text>
<text x="381.0" y="625.7" font-size="14.3" text-anchor="end">0.2</text>
<text x="381.0" y="594.9" font-size="14.3" text-anchor="end">0.4</text>
<text x="381.0" y="564.1" font-size="14.3" text-anchor="end">0.6</text>
<text x="510.3" y="521.6" font-size="18.5" text-anchor="middle">2C specific expressed genes</text>
<text x="560.0" y="557.0" font-size="15.1">NES=1.51</text>
<text x="560.0" y="574.7" font-size="15.1">P&lt;0.0001</text>
<text x="355.5" y="612.3" font-size="18.6" text-anchor="middle" transform="rotate(-90 355.5 612.3)">Enrichment Score</text>
<text x="422.2" y="730.7" font-size="18.4" text-anchor="middle">shL1td1</text>
<text x="422.9" y="751.7" font-size="18.4" text-anchor="middle">upregulated</text>
<text x="597.3" y="730.7" font-size="18.4" text-anchor="middle">shL1td1</text>
<text x="597.7" y="751.7" font-size="18.4" text-anchor="middle">downregulated</text>
<text x="0" y="0" font-size="29.3" font-weight="bold" transform="translate(671.7 419.8) scale(1.07 1)">g</text>
<rect x="737.1" y="673.6" width="13.6" height="29.4" fill="#2f4f9e" />
<rect x="753.0" y="584.8" width="12.5" height="118.2" fill="#f03c0c" />
<rect x="768.2" y="603.0" width="13.7" height="100.0" fill="#ec9a44" />
<rect x="796.2" y="673.6" width="13.6" height="29.4" fill="#2f4f9e" />
<rect x="812.1" y="608.3" width="12.5" height="94.7" fill="#f03c0c" />
<rect x="827.3" y="626.0" width="13.7" height="77.0" fill="#ec9a44" />
<rect x="855.4" y="673.6" width="13.6" height="29.4" fill="#2f4f9e" />
<rect x="871.3" y="629.5" width="12.5" height="73.5" fill="#f03c0c" />
<rect x="886.5" y="650.1" width="13.7" height="52.9" fill="#ec9a44" />
<rect x="914.0" y="673.6" width="13.6" height="29.4" fill="#2f4f9e" />
<rect x="929.9" y="626.6" width="12.5" height="76.4" fill="#f03c0c" />
<rect x="945.1" y="635.4" width="13.7" height="67.6" fill="#ec9a44" />
<rect x="974.1" y="673.6" width="13.6" height="29.4" fill="#2f4f9e" />
<rect x="990.0" y="578.0" width="12.5" height="124.9" fill="#f03c0c" />
<rect x="1005.2" y="600.1" width="13.7" height="102.9" fill="#ec9a44" />
<circle cx="740.4" cy="673.6" r="3.6" fill="#231815" />
<circle cx="743.9" cy="673.6" r="3.6" fill="#231815" />
<circle cx="747.4" cy="673.6" r="3.6" fill="#231815" />
<line x1="759.2" y1="623.6" x2="759.2" y2="542.8" stroke="#231815" stroke-width="1.8" />
<line x1="755.2" y1="623.6" x2="763.2" y2="623.6" stroke="#231815" stroke-width="1.8" />
<line x1="755.2" y1="542.8" x2="763.2" y2="542.8" stroke="#231815" stroke-width="1.8" />
<circle cx="756.7" cy="538.4" r="3.6" fill="#231815" />
<circle cx="759.2" cy="601.6" r="3.6" fill="#231815" />
<circle cx="761.7" cy="613.3" r="3.6" fill="#231815" />
<line x1="775.0" y1="626.6" x2="775.0" y2="576.6" stroke="#231815" stroke-width="1.8" />
<line x1="771.0" y1="626.6" x2="779.0" y2="626.6" stroke="#231815" stroke-width="1.8" />
<line x1="771.0" y1="576.6" x2="779.0" y2="576.6" stroke="#231815" stroke-width="1.8" />
<circle cx="772.5" cy="576.6" r="3.6" fill="#231815" />
<circle cx="775.0" cy="616.3" r="3.6" fill="#231815" />
<circle cx="777.5" cy="617.7" r="3.6" fill="#231815" />
<circle cx="799.5" cy="673.6" r="3.6" fill="#231815" />
<circle cx="803.0" cy="673.6" r="3.6" fill="#231815" />
<circle cx="806.5" cy="673.6" r="3.6" fill="#231815" />
<line x1="818.3" y1="620.7" x2="818.3" y2="598.6" stroke="#231815" stroke-width="1.8" />
<line x1="814.3" y1="620.7" x2="822.3" y2="620.7" stroke="#231815" stroke-width="1.8" />
<line x1="814.3" y1="598.6" x2="822.3" y2="598.6" stroke="#231815" stroke-width="1.8" />
<circle cx="815.8" cy="603.0" r="3.6" fill="#231815" />
<circle cx="818.3" cy="601.6" r="3.6" fill="#231815" />
<circle cx="820.8" cy="622.1" r="3.6" fill="#231815" />
<circle cx="831.6" cy="622.1" r="3.6" fill="#231815" />
<circle cx="834.1" cy="629.5" r="3.6" fill="#231815" />
<circle cx="836.6" cy="628.0" r="3.6" fill="#231815" />
<circle cx="858.7" cy="673.6" r="3.6" fill="#231815" />
<circle cx="862.2" cy="673.6" r="3.6" fill="#231815" />
<circle cx="865.7" cy="673.6" r="3.6" fill="#231815" />
<line x1="877.5" y1="639.8" x2="877.5" y2="619.2" stroke="#231815" stroke-width="1.8" />
<line x1="873.5" y1="639.8" x2="881.5" y2="639.8" stroke="#231815" stroke-width="1.8" />
<line x1="873.5" y1="619.2" x2="881.5" y2="619.2" stroke="#231815" stroke-width="1.8" />
<circle cx="875.0" cy="619.2" r="3.6" fill="#231815" />
<circle cx="877.5" cy="629.5" r="3.6" fill="#231815" />
<circle cx="880.0" cy="639.8" r="3.6" fill="#231815" />
<circle cx="890.8" cy="644.2" r="3.6" fill="#231815" />
<circle cx="893.3" cy="648.6" r="3.6" fill="#231815" />
<circle cx="895.8" cy="648.6" r="3.6" fill="#231815" />
<circle cx="917.3" cy="673.6" r="3.6" fill="#231815" />
<circle cx="920.8" cy="673.6" r="3.6" fill="#231815" />
<circle cx="924.3" cy="673.6" r="3.6" fill="#231815" />
<circle cx="933.6" cy="625.1" r="3.6" fill="#231815" />
<circle cx="936.1" cy="623.6" r="3.6" fill="#231815" />
<circle cx="938.6" cy="625.1" r="3.6" fill="#231815" />
<circle cx="949.4" cy="633.9" r="3.6" fill="#231815" />
<circle cx="951.9" cy="633.9" r="3.6" fill="#231815" />
<circle cx="954.4" cy="635.4" r="3.6" fill="#231815" />
<circle cx="977.4" cy="673.6" r="3.6" fill="#231815" />
<circle cx="980.9" cy="673.6" r="3.6" fill="#231815" />
<circle cx="984.4" cy="673.6" r="3.6" fill="#231815" />
<line x1="996.2" y1="589.8" x2="996.2" y2="572.2" stroke="#231815" stroke-width="1.8" />
<line x1="992.2" y1="589.8" x2="1000.2" y2="589.8" stroke="#231815" stroke-width="1.8" />
<line x1="992.2" y1="572.2" x2="1000.2" y2="572.2" stroke="#231815" stroke-width="1.8" />
<circle cx="993.7" cy="573.6" r="3.6" fill="#231815" />
<circle cx="996.2" cy="575.1" r="3.6" fill="#231815" />
<circle cx="998.7" cy="588.3" r="3.6" fill="#231815" />
<line x1="1012.0" y1="620.7" x2="1012.0" y2="576.6" stroke="#231815" stroke-width="1.8" />
<line x1="1008.0" y1="620.7" x2="1016.0" y2="620.7" stroke="#231815" stroke-width="1.8" />
<line x1="1008.0" y1="576.6" x2="1016.0" y2="576.6" stroke="#231815" stroke-width="1.8" />
<circle cx="1009.5" cy="576.6" r="3.6" fill="#231815" />
<circle cx="1012.0" cy="606.0" r="3.6" fill="#231815" />
<circle cx="1014.5" cy="619.2" r="3.6" fill="#231815" />
<line x1="731.0" y1="525.7" x2="731.0" y2="704.0" stroke="#231815" stroke-width="2" />
<line x1="722.3" y1="703.0" x2="1026.0" y2="703.0" stroke="#231815" stroke-width="2" />
<line x1="722.3" y1="703.0" x2="731.0" y2="703.0" stroke="#231815" stroke-width="2" />
<text x="720.0" y="709.5" font-size="18.5" text-anchor="end">0</text>
<line x1="722.3" y1="644.2" x2="731.0" y2="644.2" stroke="#231815" stroke-width="2" />
<text x="720.0" y="650.7" font-size="18.5" text-anchor="end">2</text>
<line x1="722.3" y1="585.4" x2="731.0" y2="585.4" stroke="#231815" stroke-width="2" />
<text x="720.0" y="591.9" font-size="18.5" text-anchor="end">4</text>
<line x1="722.3" y1="526.6" x2="731.0" y2="526.6" stroke="#231815" stroke-width="2" />
<text x="720.0" y="533.1" font-size="18.5" text-anchor="end">6</text>
<line x1="758.7" y1="703.0" x2="758.7" y2="711.0" stroke="#231815" stroke-width="2.2" />
<text x="770.7" y="530.4" font-size="17" transform="rotate(-90 770.7 530.4)">**</text>
<text x="786.5" y="568.6" font-size="17" transform="rotate(-90 786.5 568.6)">**</text>
<line x1="817.8" y1="703.0" x2="817.8" y2="711.0" stroke="#231815" stroke-width="2.2" />
<text x="829.8" y="590.6" font-size="17" transform="rotate(-90 829.8 590.6)">***</text>
<text x="845.6" y="614.1" font-size="17" transform="rotate(-90 845.6 614.1)">***</text>
<line x1="877.0" y1="703.0" x2="877.0" y2="711.0" stroke="#231815" stroke-width="2.2" />
<text x="889.0" y="611.2" font-size="17" transform="rotate(-90 889.0 611.2)">***</text>
<text x="904.8" y="636.2" font-size="17" transform="rotate(-90 904.8 636.2)">***</text>
<line x1="935.6" y1="703.0" x2="935.6" y2="711.0" stroke="#231815" stroke-width="2.2" />
<text x="947.6" y="615.6" font-size="17" transform="rotate(-90 947.6 615.6)">***</text>
<text x="963.4" y="625.9" font-size="17" transform="rotate(-90 963.4 625.9)">***</text>
<line x1="995.7" y1="703.0" x2="995.7" y2="711.0" stroke="#231815" stroke-width="2.2" />
<text x="1007.7" y="564.2" font-size="17" transform="rotate(-90 1007.7 564.2)">***</text>
<text x="1023.5" y="568.6" font-size="17" transform="rotate(-90 1023.5 568.6)">**</text>
<text x="704.5" y="617.7" font-size="18.9" text-anchor="middle" transform="rotate(-90 704.5 617.7)">Relative expression level</text>
<text x="766.7" y="721.0" font-size="19" text-anchor="end" font-style="italic" transform="rotate(-45 766.7 721.0)">Zscan4</text>
<text x="825.8" y="721.0" font-size="19" text-anchor="end" font-style="italic" transform="rotate(-45 825.8 721.0)">Dux</text>
<text x="885.0" y="721.0" font-size="19" text-anchor="end" font-style="italic" transform="rotate(-45 885.0 721.0)">MERVL</text>
<text x="943.6" y="721.0" font-size="19" text-anchor="end" font-style="italic" transform="rotate(-45 943.6 721.0)">Tmem92</text>
<text x="1003.7" y="721.0" font-size="19" text-anchor="end" font-style="italic" transform="rotate(-45 1003.7 721.0)">Gm8300</text>
<rect x="875.4" y="485.0" width="16.3" height="9.8" fill="#2f4f9e" />
<text x="895.2" y="493.7" font-size="18.4">shCtrl</text>
<rect x="875.4" y="505.3" width="16.3" height="9.8" fill="#f03c0c" />
<text x="895.2" y="514.2" font-size="18.4">shL1td1-1</text>
<rect x="875.4" y="525.6" width="16.3" height="9.8" fill="#ec9a44" />
<text x="895.2" y="534.7" font-size="18.4">shL1td1-2</text>
<text x="0" y="0" font-size="30.1" font-weight="bold" transform="translate(1039.0 419.9) scale(1.02 1)">h</text>
<ellipse cx="1143.0" cy="427.0" rx="32.5" ry="9.8" fill="#cde6ec" stroke="#a9a9a9" stroke-width="1.3"/>
<path d="M1110.5,417.0 V427.0 M1175.5,417.0 V427.0" stroke="#a9a9a9" stroke-width="1.3"/>
<circle cx="1134.2" cy="428.9" r="5.5" fill="#5878c8" />
<circle cx="1149.3" cy="424.8" r="5.5" fill="#5878c8" />
<circle cx="1142.9" cy="426.1" r="5.5" fill="#5878c8" />
<circle cx="1146.6" cy="428.5" r="5.5" fill="#5878c8" />
<circle cx="1133.3" cy="423.2" r="5.5" fill="#5878c8" />
<circle cx="1151.1" cy="426.0" r="5.5" fill="#5878c8" />
<circle cx="1149.3" cy="423.0" r="5.5" fill="#5878c8" />
<path d="M1110.5,427.0 A32.5,9.8 0 0 0 1175.5,427.0" fill="none" stroke="#a9a9a9" stroke-width="1.3"/>
<ellipse cx="1143.0" cy="417.0" rx="32.5" ry="9.8" fill="none" stroke="#a9a9a9" stroke-width="1.3"/>
<ellipse cx="1590.5" cy="427.0" rx="31.0" ry="9.3" fill="#cde6ec" stroke="#a9a9a9" stroke-width="1.3"/>
<path d="M1559.5,417.0 V427.0 M1621.5,417.0 V427.0" stroke="#a9a9a9" stroke-width="1.3"/>
<circle cx="1601.4" cy="429.6" r="5.5" fill="#2ea84a" />
<circle cx="1579.9" cy="423.6" r="5.5" fill="#2ea84a" />
<circle cx="1598.6" cy="428.2" r="5.5" fill="#2ea84a" />
<circle cx="1594.6" cy="425.2" r="5.5" fill="#2ea84a" />
<circle cx="1593.0" cy="427.2" r="5.5" fill="#2ea84a" />
<circle cx="1592.4" cy="424.1" r="5.5" fill="#2ea84a" />
<circle cx="1588.8" cy="425.8" r="5.5" fill="#2ea84a" />
<path d="M1559.5,427.0 A31.0,9.3 0 0 0 1621.5,427.0" fill="none" stroke="#a9a9a9" stroke-width="1.3"/>
<ellipse cx="1590.5" cy="417.0" rx="31.0" ry="9.3" fill="none" stroke="#a9a9a9" stroke-width="1.3"/>
<line x1="1184.9" y1="427.8" x2="1545.0" y2="427.8" stroke="#231815" stroke-width="2.4" />
<path d="M1538,418 L1550.6,427.8 L1538,437.6" fill="none" stroke="#231815" stroke-width="3" />
<line x1="1185.5" y1="416.2" x2="1185.5" y2="427.8" stroke="#231815" stroke-width="2" />
<line x1="1249.5" y1="416.2" x2="1249.5" y2="427.8" stroke="#231815" stroke-width="2" />
<line x1="1523.4" y1="416.2" x2="1523.4" y2="427.8" stroke="#231815" stroke-width="2" />
<text x="1186.0" y="413.0" font-size="18.4">mTeSR</text>
<text x="1325.5" y="413.0" font-size="18.2">e4CL medium</text>
<text x="1186.5" y="449.9" font-size="18.4" text-anchor="middle">-1</text>
<text x="1249.0" y="449.9" font-size="18.4" text-anchor="middle">0</text>
<text x="1522.5" y="449.7" font-size="18.4" text-anchor="middle">7</text>
<text x="1150.4" y="469.6" font-size="18.4" text-anchor="middle">Primed hPSCs</text>
<text x="1145.5" y="494.2" font-size="18.6" text-anchor="middle">(TPRX1-EGFP reporter)</text>
<text x="1522.0" y="470.0" font-size="18.4" text-anchor="middle">Day(s)</text>
<text x="1594.2" y="470.0" font-size="18.4" text-anchor="middle">8CLCs</text>
<defs><clipPath id="fc5"><rect x="1130.7" y="569.3" width="157.4" height="159.3"/></clipPath></defs>
<g clip-path="url(#fc5)">
<g filter="url(#spk)">
<ellipse cx="1183.7" cy="677.0" rx="26.0" ry="11.0" fill="#2050c0" fill-opacity="0.9" filter="url(#gb3)" transform="rotate(-32 1183.7 677.0)"/>
<ellipse cx="1182.7" cy="678.0" rx="17.0" ry="7.5" fill="#30b8c0" fill-opacity="0.85" filter="url(#gb3)" transform="rotate(-32 1182.7 678.0)"/>
<ellipse cx="1182.7" cy="679.0" rx="10.0" ry="4.5" fill="#a8d040" fill-opacity="0.9" filter="url(#gb10)" transform="rotate(-32 1182.7 679.0)"/>
<ellipse cx="1181.7" cy="680.0" rx="4.5" ry="2.5" fill="#e03020" fill-opacity="1" filter="url(#gb9)" transform="rotate(-32 1181.7 680.0)"/>
<ellipse cx="1216.7" cy="657.0" rx="14.0" ry="6.0" fill="#3060c0" fill-opacity="0.22" filter="url(#gb2)" transform="rotate(-35 1216.7 657.0)"/>
</g>
</g>
<rect x="1130.7" y="569.3" width="157.4" height="159.3" fill="none" stroke="#231815" stroke-width="1.8" />
<path d="M1193.3,691.7 L1228.4,691.7 L1280.7,611.7 L1249.4,611.7 Z" fill="none" stroke="#231815" stroke-width="1.6" />
<text x="1270.4" y="603.2" font-size="17.8" text-anchor="end">0.83%</text>
<text x="1211.4" y="563.4" font-size="18.4" text-anchor="middle">mTeSR Day 0</text>
<line x1="1125.7" y1="584.8" x2="1130.7" y2="584.8" stroke="#231815" stroke-width="1.2" />
<line x1="1125.7" y1="621.7" x2="1130.7" y2="621.7" stroke="#231815" stroke-width="1.2" />
<line x1="1125.7" y1="664.8" x2="1130.7" y2="664.8" stroke="#231815" stroke-width="1.2" />
<line x1="1125.7" y1="692.5" x2="1130.7" y2="692.5" stroke="#231815" stroke-width="1.2" />
<path d="M1127.7,610.6h3M1127.7,604.1h3M1127.7,599.5h3M1127.7,595.9h3M1127.7,593.0h3M1127.7,590.5h3M1127.7,588.4h3M1127.7,586.5h3M1127.7,651.8h3M1127.7,644.2h3M1127.7,638.9h3M1127.7,634.7h3M1127.7,631.3h3M1127.7,628.4h3M1127.7,625.9h3M1127.7,623.7h3" fill="none" stroke="#231815" stroke-width="1" />
<path d="M1159.3,728.6v3.0M1167.3,728.6v3.0M1173.0,728.6v3.0M1177.4,728.6v3.0M1181.0,728.6v3.0M1184.0,728.6v3.0M1186.6,728.6v3.0M1188.9,728.6v3.0M1204.4,728.6v3.0M1212.2,728.6v3.0M1217.7,728.6v3.0M1222.0,728.6v3.0M1225.5,728.6v3.0M1228.5,728.6v3.0M1231.1,728.6v3.0M1233.4,728.6v3.0M1245.2,728.6v3.0M1250.9,728.6v3.0M1254.9,728.6v3.0M1258.0,728.6v3.0M1260.6,728.6v3.0M1262.8,728.6v3.0M1264.7,728.6v3.0M1266.3,728.6v3.0M1145.7,728.6v5.0M1191.0,728.6v5.0M1235.4,728.6v5.0M1267.8,728.6v5.0" fill="none" stroke="#231815" stroke-width="1.1" />
<rect x="1163.7" y="729.6" width="4.0" height="3.0" fill="#231815" />
<text x="1164.6" y="750.7" font-size="17.8" text-anchor="middle">0</text>
<text x="1191.0" y="750.7" font-size="17.8" text-anchor="middle">10<tspan font-size="11.0" dy="-6.8">3</tspan></text>
<text x="1235.4" y="750.7" font-size="17.8" text-anchor="middle">10<tspan font-size="11.0" dy="-6.8">4</tspan></text>
<text x="1267.8" y="750.7" font-size="17.8" text-anchor="middle">10<tspan font-size="11.0" dy="-6.8">5</tspan></text>
<defs><clipPath id="fc6"><rect x="1294.0" y="569.3" width="157.4" height="159.3"/></clipPath></defs>
<g clip-path="url(#fc6)">
<g filter="url(#spk)">
<path d="M1330.0,692.0 L1330.0,640.0 L1354.0,645.0 L1394.0,650.0 L1432.0,612.0 L1440.0,616.0 L1406.0,668.0 L1374.0,690.0 Z" fill="#2040c8" fill-opacity="0.42" filter="url(#gb1)"/>
<path d="M1332.0,690.0 L1332.0,655.0 L1364.0,660.0 L1369.0,690.0 Z" fill="#2050c0" fill-opacity="0.8" filter="url(#gb2)"/>
<ellipse cx="1346.0" cy="676.0" rx="18.0" ry="14.0" fill="#30b0b8" fill-opacity="0.75" filter="url(#gb1)"/>
<ellipse cx="1344.0" cy="679.0" rx="12.0" ry="9.0" fill="#a0d040" fill-opacity="0.85" filter="url(#gb2)"/>
<ellipse cx="1342.0" cy="681.0" rx="5.0" ry="4.0" fill="#e8b020" fill-opacity="0.8" filter="url(#gb3)"/>
<defs><filter id="gb11" x="-60%" y="-60%" width="220%" height="220%"><feGaussianBlur stdDeviation="1.8"/></filter></defs>
<ellipse cx="1333.0" cy="640.0" rx="3.2" ry="21.0" fill="#2a8ad0" fill-opacity="0.9" filter="url(#gb11)" transform="rotate(12 1333.0 640.0)"/>
<defs><filter id="gb12" x="-60%" y="-60%" width="220%" height="220%"><feGaussianBlur stdDeviation="1.4"/></filter></defs>
<ellipse cx="1332.5" cy="640.0" rx="2.2" ry="15.0" fill="#a0d040" fill-opacity="0.9" filter="url(#gb12)" transform="rotate(12 1332.5 640.0)"/>
<defs><filter id="gb13" x="-60%" y="-60%" width="220%" height="220%"><feGaussianBlur stdDeviation="1.0"/></filter></defs>
<ellipse cx="1332.0" cy="638.0" rx="1.3" ry="9.0" fill="#e84020" fill-opacity="1" filter="url(#gb13)" transform="rotate(12 1332.0 638.0)"/>
</g>
</g>
<rect x="1294.0" y="569.3" width="157.4" height="159.3" fill="none" stroke="#231815" stroke-width="1.8" />
<path d="M1356.6,691.7 L1391.7,691.7 L1444.0,611.7 L1412.7,611.7 Z" fill="none" stroke="#231815" stroke-width="1.6" />
<text x="1433.7" y="603.2" font-size="17.8" text-anchor="end">5.84%</text>
<text x="1374.7" y="563.4" font-size="18.4" text-anchor="middle">siCtrl</text>
<line x1="1289.0" y1="584.8" x2="1294.0" y2="584.8" stroke="#231815" stroke-width="1.2" />
<line x1="1289.0" y1="621.7" x2="1294.0" y2="621.7" stroke="#231815" stroke-width="1.2" />
<line x1="1289.0" y1="664.8" x2="1294.0" y2="664.8" stroke="#231815" stroke-width="1.2" />
<line x1="1289.0" y1="692.5" x2="1294.0" y2="692.5" stroke="#231815" stroke-width="1.2" />
<path d="M1291.0,610.6h3M1291.0,604.1h3M1291.0,599.5h3M1291.0,595.9h3M1291.0,593.0h3M1291.0,590.5h3M1291.0,588.4h3M1291.0,586.5h3M1291.0,651.8h3M1291.0,644.2h3M1291.0,638.9h3M1291.0,634.7h3M1291.0,631.3h3M1291.0,628.4h3M1291.0,625.9h3M1291.0,623.7h3" fill="none" stroke="#231815" stroke-width="1" />
<path d="M1322.6,728.6v3.0M1330.6,728.6v3.0M1336.3,728.6v3.0M1340.7,728.6v3.0M1344.3,728.6v3.0M1347.3,728.6v3.0M1349.9,728.6v3.0M1352.2,728.6v3.0M1367.7,728.6v3.0M1375.5,728.6v3.0M1381.0,728.6v3.0M1385.3,728.6v3.0M1388.8,728.6v3.0M1391.8,728.6v3.0M1394.4,728.6v3.0M1396.7,728.6v3.0M1408.5,728.6v3.0M1414.2,728.6v3.0M1418.2,728.6v3.0M1421.3,728.6v3.0M1423.9,728.6v3.0M1426.1,728.6v3.0M1428.0,728.6v3.0M1429.6,728.6v3.0M1309.0,728.6v5.0M1354.3,728.6v5.0M1398.7,728.6v5.0M1431.1,728.6v5.0" fill="none" stroke="#231815" stroke-width="1.1" />
<rect x="1327.0" y="729.6" width="4.0" height="3.0" fill="#231815" />
<text x="1327.9" y="750.7" font-size="17.8" text-anchor="middle">0</text>
<text x="1354.3" y="750.7" font-size="17.8" text-anchor="middle">10<tspan font-size="11.0" dy="-6.8">3</tspan></text>
<text x="1398.7" y="750.7" font-size="17.8" text-anchor="middle">10<tspan font-size="11.0" dy="-6.8">4</tspan></text>
<text x="1431.1" y="750.7" font-size="17.8" text-anchor="middle">10<tspan font-size="11.0" dy="-6.8">5</tspan></text>
<defs><clipPath id="fc7"><rect x="1457.7" y="569.3" width="157.4" height="159.3"/></clipPath></defs>
<g clip-path="url(#fc7)">
<g filter="url(#spk)">
<path d="M1493.7,692.0 L1493.7,640.0 L1517.7,645.0 L1557.7,650.0 L1595.7,612.0 L1603.7,616.0 L1569.7,668.0 L1537.7,690.0 Z" fill="#2040c8" fill-opacity="0.42" filter="url(#gb1)"/>
<path d="M1495.7,690.0 L1495.7,655.0 L1527.7,660.0 L1532.7,690.0 Z" fill="#2050c0" fill-opacity="0.8" filter="url(#gb2)"/>
<ellipse cx="1509.7" cy="676.0" rx="18.0" ry="14.0" fill="#30b0b8" fill-opacity="0.75" filter="url(#gb1)"/>
<ellipse cx="1507.7" cy="679.0" rx="12.0" ry="9.0" fill="#a0d040" fill-opacity="0.85" filter="url(#gb2)"/>
<ellipse cx="1505.7" cy="681.0" rx="5.0" ry="4.0" fill="#e8b020" fill-opacity="0.8" filter="url(#gb3)"/>
<ellipse cx="1496.7" cy="640.0" rx="3.2" ry="21.0" fill="#2a8ad0" fill-opacity="0.9" filter="url(#gb11)" transform="rotate(12 1496.7 640.0)"/>
<ellipse cx="1496.2" cy="640.0" rx="2.2" ry="15.0" fill="#a0d040" fill-opacity="0.9" filter="url(#gb12)" transform="rotate(12 1496.2 640.0)"/>
<ellipse cx="1495.7" cy="638.0" rx="1.3" ry="9.0" fill="#e84020" fill-opacity="1" filter="url(#gb13)" transform="rotate(12 1495.7 638.0)"/>
</g>
</g>
<rect x="1457.7" y="569.3" width="157.4" height="159.3" fill="none" stroke="#231815" stroke-width="1.8" />
<path d="M1520.3,691.7 L1555.4,691.7 L1607.7,611.7 L1576.4,611.7 Z" fill="none" stroke="#231815" stroke-width="1.6" />
<text x="1597.4" y="603.2" font-size="17.8" text-anchor="end">8.51%</text>
<text x="1538.4" y="563.4" font-size="18.4" text-anchor="middle">siL1TD</text>
<line x1="1452.7" y1="584.8" x2="1457.7" y2="584.8" stroke="#231815" stroke-width="1.2" />
<line x1="1452.7" y1="621.7" x2="1457.7" y2="621.7" stroke="#231815" stroke-width="1.2" />
<line x1="1452.7" y1="664.8" x2="1457.7" y2="664.8" stroke="#231815" stroke-width="1.2" />
<line x1="1452.7" y1="692.5" x2="1457.7" y2="692.5" stroke="#231815" stroke-width="1.2" />
<path d="M1454.7,610.6h3M1454.7,604.1h3M1454.7,599.5h3M1454.7,595.9h3M1454.7,593.0h3M1454.7,590.5h3M1454.7,588.4h3M1454.7,586.5h3M1454.7,651.8h3M1454.7,644.2h3M1454.7,638.9h3M1454.7,634.7h3M1454.7,631.3h3M1454.7,628.4h3M1454.7,625.9h3M1454.7,623.7h3" fill="none" stroke="#231815" stroke-width="1" />
<path d="M1486.3,728.6v3.0M1494.3,728.6v3.0M1500.0,728.6v3.0M1504.4,728.6v3.0M1508.0,728.6v3.0M1511.0,728.6v3.0M1513.6,728.6v3.0M1515.9,728.6v3.0M1531.4,728.6v3.0M1539.2,728.6v3.0M1544.7,728.6v3.0M1549.0,728.6v3.0M1552.5,728.6v3.0M1555.5,728.6v3.0M1558.1,728.6v3.0M1560.4,728.6v3.0M1572.2,728.6v3.0M1577.9,728.6v3.0M1581.9,728.6v3.0M1585.0,728.6v3.0M1587.6,728.6v3.0M1589.8,728.6v3.0M1591.7,728.6v3.0M1593.3,728.6v3.0M1472.7,728.6v5.0M1518.0,728.6v5.0M1562.4,728.6v5.0M1594.8,728.6v5.0" fill="none" stroke="#231815" stroke-width="1.1" />
<rect x="1490.7" y="729.6" width="4.0" height="3.0" fill="#231815" />
<text x="1491.6" y="750.7" font-size="17.8" text-anchor="middle">0</text>
<text x="1518.0" y="750.7" font-size="17.8" text-anchor="middle">10<tspan font-size="11.0" dy="-6.8">3</tspan></text>
<text x="1562.4" y="750.7" font-size="17.8" text-anchor="middle">10<tspan font-size="11.0" dy="-6.8">4</tspan></text>
<text x="1594.8" y="750.7" font-size="17.8" text-anchor="middle">10<tspan font-size="11.0" dy="-6.8">5</tspan></text>
<text x="1457.7" y="531.3" font-size="18.4" text-anchor="middle">e4CL Day 7</text>
<line x1="1358.2" y1="539.5" x2="1563.5" y2="539.5" stroke="#231815" stroke-width="1.8" />
<text x="1124.0" y="591.3" font-size="17.8" text-anchor="end">10<tspan font-size="11.0" dy="-6.8">5</tspan></text>
<text x="1124.0" y="628.2" font-size="17.8" text-anchor="end">10<tspan font-size="11.0" dy="-6.8">4</tspan></text>
<text x="1124.0" y="671.3" font-size="17.8" text-anchor="end">10<tspan font-size="11.0" dy="-6.8">3</tspan></text>
<text x="1124.0" y="699.0" font-size="17.8" text-anchor="end">0</text>
<line x1="1090.8" y1="585.0" x2="1090.8" y2="760.0" stroke="#231815" stroke-width="2" />
<line x1="1089.8" y1="760.0" x2="1605.0" y2="760.0" stroke="#231815" stroke-width="2" />
<path d="M1090.8,572.0 L1096.8,588.0 L1090.8,584.0 L1084.8,588.0 Z" fill="#231815" />
<path d="M1617.0,760.0 L1601.0,754.0 L1605.0,760.0 L1601.0,766.0 Z" fill="#231815" />
<text x="1083.0" y="673.3" font-size="18.7" text-anchor="middle" transform="rotate(-90 1083.0 673.3)">PerCP-Cy5-5-A</text>
<text x="1343.4" y="782.0" font-size="18.5" text-anchor="middle">TPRX1-EGFP</text>
<rect x="1721.2" y="611.1" width="22.5" height="123.0" fill="#2f4f9e" />
<rect x="1754.9" y="565.7" width="22.9" height="168.4" fill="#2f4f9e" />
<line x1="1732.5" y1="616.1" x2="1732.5" y2="605.0" stroke="#231815" stroke-width="1.8" />
<line x1="1728.5" y1="616.1" x2="1736.5" y2="616.1" stroke="#231815" stroke-width="1.8" />
<line x1="1728.5" y1="605.0" x2="1736.5" y2="605.0" stroke="#231815" stroke-width="1.8" />
<line x1="1766.4" y1="571.7" x2="1766.4" y2="560.6" stroke="#231815" stroke-width="1.8" />
<line x1="1762.4" y1="571.7" x2="1770.4" y2="571.7" stroke="#231815" stroke-width="1.8" />
<line x1="1762.4" y1="560.6" x2="1770.4" y2="560.6" stroke="#231815" stroke-width="1.8" />
<circle cx="1724.5" cy="615.5" r="3.4" fill="#231815" />
<circle cx="1732.5" cy="605.0" r="3.4" fill="#231815" />
<circle cx="1741.0" cy="613.5" r="3.4" fill="#231815" />
<circle cx="1758.0" cy="560.2" r="3.4" fill="#231815" />
<circle cx="1766.5" cy="572.7" r="3.4" fill="#231815" />
<circle cx="1775.0" cy="564.3" r="3.4" fill="#231815" />
<line x1="1709.9" y1="531.4" x2="1709.9" y2="735.1" stroke="#231815" stroke-width="2" />
<line x1="1701.3" y1="734.1" x2="1784.0" y2="734.1" stroke="#231815" stroke-width="2" />
<line x1="1701.3" y1="734.1" x2="1709.9" y2="734.1" stroke="#231815" stroke-width="2" />
<text x="1698.0" y="740.6" font-size="18.5" text-anchor="end">0</text>
<line x1="1701.3" y1="693.8" x2="1709.9" y2="693.8" stroke="#231815" stroke-width="2" />
<text x="1698.0" y="700.3" font-size="18.5" text-anchor="end">2</text>
<line x1="1701.3" y1="653.4" x2="1709.9" y2="653.4" stroke="#231815" stroke-width="2" />
<text x="1698.0" y="659.9" font-size="18.5" text-anchor="end">4</text>
<line x1="1701.3" y1="613.1" x2="1709.9" y2="613.1" stroke="#231815" stroke-width="2" />
<text x="1698.0" y="619.6" font-size="18.5" text-anchor="end">6</text>
<line x1="1701.3" y1="572.7" x2="1709.9" y2="572.7" stroke="#231815" stroke-width="2" />
<text x="1698.0" y="579.2" font-size="18.5" text-anchor="end">8</text>
<line x1="1701.3" y1="532.4" x2="1709.9" y2="532.4" stroke="#231815" stroke-width="2" />
<text x="1698.0" y="538.9" font-size="18.5" text-anchor="end">10</text>
<line x1="1732.5" y1="734.1" x2="1732.5" y2="741.1" stroke="#231815" stroke-width="2" />
<line x1="1766.4" y1="734.1" x2="1766.4" y2="741.1" stroke="#231815" stroke-width="2" />
<text x="1766.8" y="553.0" font-size="17" text-anchor="middle">***</text>
<text x="1679.4" y="649.5" font-size="18.5" text-anchor="middle" transform="rotate(-90 1679.4 649.5)">TPRX1 <tspan font-size="12" dy="-7">+</tspan><tspan dy="7">8CLCs (%)</tspan></text>
<text x="1740.0" y="750.0" font-size="18.5" text-anchor="end" transform="rotate(-45 1740.0 750.0)">siCtrl</text>
<text x="1774.0" y="750.0" font-size="18.5" text-anchor="end" transform="rotate(-45 1774.0 750.0)">siL1TD1</text>
<text x="0" y="0" font-size="36.7" font-weight="bold" transform="translate(0.7 850.8) scale(0.94 1)">i</text>
<rect x="72.0" y="1054.0" width="12.8" height="34.1" fill="#2f4f9e" />
<rect x="87.3" y="1076.2" width="12.3" height="11.9" fill="#f03c0c" />
<rect x="114.0" y="1054.0" width="12.8" height="34.1" fill="#2f4f9e" />
<rect x="129.3" y="1023.3" width="12.3" height="64.8" fill="#f03c0c" />
<rect x="155.3" y="1054.0" width="12.8" height="34.1" fill="#2f4f9e" />
<rect x="170.6" y="983.0" width="12.3" height="105.1" fill="#f03c0c" />
<rect x="197.1" y="1054.0" width="12.8" height="34.1" fill="#2f4f9e" />
<rect x="212.4" y="1014.7" width="12.3" height="73.4" fill="#f03c0c" />
<rect x="238.4" y="1054.0" width="12.8" height="34.1" fill="#2f4f9e" />
<rect x="253.7" y="958.4" width="12.3" height="129.7" fill="#f03c0c" />
<rect x="280.2" y="1054.0" width="12.8" height="34.1" fill="#2f4f9e" />
<rect x="295.5" y="1024.0" width="12.3" height="64.1" fill="#f03c0c" />
<rect x="322.2" y="1054.0" width="12.8" height="34.1" fill="#2f4f9e" />
<rect x="337.5" y="990.9" width="12.3" height="97.2" fill="#f03c0c" />
<circle cx="74.9" cy="1054.0" r="3.5" fill="#231815" />
<circle cx="78.4" cy="1054.0" r="3.5" fill="#231815" />
<circle cx="81.9" cy="1054.0" r="3.5" fill="#231815" />
<circle cx="90.4" cy="1075.1" r="3.5" fill="#231815" />
<circle cx="93.4" cy="1072.7" r="3.5" fill="#231815" />
<circle cx="96.4" cy="1073.4" r="3.5" fill="#231815" />
<text x="103.9" y="1064.7" font-size="17" transform="rotate(-90 103.9 1064.7)">***</text>
<circle cx="116.9" cy="1054.0" r="3.5" fill="#231815" />
<circle cx="120.4" cy="1054.0" r="3.5" fill="#231815" />
<circle cx="123.9" cy="1054.0" r="3.5" fill="#231815" />
<line x1="135.4" y1="1027.4" x2="135.4" y2="1016.4" stroke="#231815" stroke-width="1.8" />
<line x1="131.4" y1="1027.4" x2="139.4" y2="1027.4" stroke="#231815" stroke-width="1.8" />
<line x1="131.4" y1="1016.4" x2="139.4" y2="1016.4" stroke="#231815" stroke-width="1.8" />
<circle cx="132.4" cy="1016.4" r="3.5" fill="#231815" />
<circle cx="135.4" cy="1027.4" r="3.5" fill="#231815" />
<circle cx="138.4" cy="1026.7" r="3.5" fill="#231815" />
<text x="145.9" y="1008.4" font-size="17" transform="rotate(-90 145.9 1008.4)">**</text>
<circle cx="158.2" cy="1054.0" r="3.5" fill="#231815" />
<circle cx="161.7" cy="1054.0" r="3.5" fill="#231815" />
<circle cx="165.2" cy="1054.0" r="3.5" fill="#231815" />
<line x1="176.7" y1="993.2" x2="176.7" y2="968.7" stroke="#231815" stroke-width="1.8" />
<line x1="172.7" y1="993.2" x2="180.7" y2="993.2" stroke="#231815" stroke-width="1.8" />
<line x1="172.7" y1="968.7" x2="180.7" y2="968.7" stroke="#231815" stroke-width="1.8" />
<circle cx="173.7" cy="968.7" r="3.5" fill="#231815" />
<circle cx="176.7" cy="993.2" r="3.5" fill="#231815" />
<circle cx="179.7" cy="987.4" r="3.5" fill="#231815" />
<text x="187.2" y="960.7" font-size="17" transform="rotate(-90 187.2 960.7)">***</text>
<circle cx="200.0" cy="1054.0" r="3.5" fill="#231815" />
<circle cx="203.5" cy="1054.0" r="3.5" fill="#231815" />
<circle cx="207.0" cy="1054.0" r="3.5" fill="#231815" />
<circle cx="215.5" cy="1006.2" r="3.5" fill="#231815" />
<circle cx="218.5" cy="1013.0" r="3.5" fill="#231815" />
<circle cx="221.5" cy="1013.0" r="3.5" fill="#231815" />
<text x="229.0" y="998.2" font-size="17" transform="rotate(-90 229.0 998.2)">***</text>
<circle cx="241.3" cy="1054.0" r="3.5" fill="#231815" />
<circle cx="244.8" cy="1054.0" r="3.5" fill="#231815" />
<circle cx="248.3" cy="1054.0" r="3.5" fill="#231815" />
<circle cx="256.8" cy="951.6" r="3.5" fill="#231815" />
<circle cx="259.8" cy="967.0" r="3.5" fill="#231815" />
<circle cx="262.8" cy="960.1" r="3.5" fill="#231815" />
<text x="270.3" y="943.6" font-size="17" transform="rotate(-90 270.3 943.6)">***</text>
<circle cx="283.1" cy="1054.0" r="3.5" fill="#231815" />
<circle cx="286.6" cy="1054.0" r="3.5" fill="#231815" />
<circle cx="290.1" cy="1054.0" r="3.5" fill="#231815" />
<line x1="301.6" y1="1033.5" x2="301.6" y2="1018.2" stroke="#231815" stroke-width="1.8" />
<line x1="297.6" y1="1033.5" x2="305.6" y2="1033.5" stroke="#231815" stroke-width="1.8" />
<line x1="297.6" y1="1018.2" x2="305.6" y2="1018.2" stroke="#231815" stroke-width="1.8" />
<circle cx="298.6" cy="1018.2" r="3.5" fill="#231815" />
<circle cx="301.6" cy="1019.9" r="3.5" fill="#231815" />
<circle cx="304.6" cy="1035.2" r="3.5" fill="#231815" />
<text x="312.1" y="1010.2" font-size="17" transform="rotate(-90 312.1 1010.2)">**</text>
<circle cx="325.1" cy="1054.0" r="3.5" fill="#231815" />
<circle cx="328.6" cy="1054.0" r="3.5" fill="#231815" />
<circle cx="332.1" cy="1054.0" r="3.5" fill="#231815" />
<circle cx="340.6" cy="985.7" r="3.5" fill="#231815" />
<circle cx="343.6" cy="997.7" r="3.5" fill="#231815" />
<circle cx="346.6" cy="990.9" r="3.5" fill="#231815" />
<text x="354.1" y="977.7" font-size="17" transform="rotate(-90 354.1 977.7)">**</text>
<line x1="66.4" y1="916.5" x2="66.4" y2="1089.1" stroke="#231815" stroke-width="2" />
<line x1="59.0" y1="1088.1" x2="356.5" y2="1088.1" stroke="#231815" stroke-width="2" />
<line x1="59.0" y1="1088.1" x2="66.4" y2="1088.1" stroke="#231815" stroke-width="2" />
<text x="57.0" y="1094.6" font-size="18.5" text-anchor="end">0</text>
<line x1="59.0" y1="1054.0" x2="66.4" y2="1054.0" stroke="#231815" stroke-width="2" />
<text x="57.0" y="1060.5" font-size="18.5" text-anchor="end">1</text>
<line x1="59.0" y1="1019.9" x2="66.4" y2="1019.9" stroke="#231815" stroke-width="2" />
<text x="57.0" y="1026.4" font-size="18.5" text-anchor="end">2</text>
<line x1="59.0" y1="985.7" x2="66.4" y2="985.7" stroke="#231815" stroke-width="2" />
<text x="57.0" y="992.2" font-size="18.5" text-anchor="end">3</text>
<line x1="59.0" y1="951.6" x2="66.4" y2="951.6" stroke="#231815" stroke-width="2" />
<text x="57.0" y="958.1" font-size="18.5" text-anchor="end">4</text>
<line x1="59.0" y1="917.5" x2="66.4" y2="917.5" stroke="#231815" stroke-width="2" />
<text x="57.0" y="924.0" font-size="18.5" text-anchor="end">5</text>
<line x1="85.6" y1="1088.1" x2="85.6" y2="1096.1" stroke="#231815" stroke-width="2.2" />
<line x1="127.6" y1="1088.1" x2="127.6" y2="1096.1" stroke="#231815" stroke-width="2.2" />
<line x1="168.9" y1="1088.1" x2="168.9" y2="1096.1" stroke="#231815" stroke-width="2.2" />
<line x1="210.7" y1="1088.1" x2="210.7" y2="1096.1" stroke="#231815" stroke-width="2.2" />
<line x1="252.0" y1="1088.1" x2="252.0" y2="1096.1" stroke="#231815" stroke-width="2.2" />
<line x1="293.8" y1="1088.1" x2="293.8" y2="1096.1" stroke="#231815" stroke-width="2.2" />
<line x1="335.8" y1="1088.1" x2="335.8" y2="1096.1" stroke="#231815" stroke-width="2.2" />
<text x="95.6" y="1112.0" font-size="18.5" text-anchor="end" font-style="italic" transform="rotate(-45 95.6 1112.0)">L1TD1</text>
<text x="137.6" y="1112.0" font-size="18.5" text-anchor="end" font-style="italic" transform="rotate(-45 137.6 1112.0)">TPRX1</text>
<text x="178.9" y="1112.0" font-size="18.5" text-anchor="end" font-style="italic" transform="rotate(-45 178.9 1112.0)">ZSCAN5B</text>
<text x="220.7" y="1112.0" font-size="18.5" text-anchor="end" font-style="italic" transform="rotate(-45 220.7 1112.0)">DUXA</text>
<text x="262.0" y="1112.0" font-size="18.5" text-anchor="end" font-style="italic" transform="rotate(-45 262.0 1112.0)">MBD3L2</text>
<text x="303.8" y="1112.0" font-size="18.5" text-anchor="end" font-style="italic" transform="rotate(-45 303.8 1112.0)">ARGFX</text>
<text x="345.8" y="1112.0" font-size="18.5" text-anchor="end" font-style="italic" transform="rotate(-45 345.8 1112.0)">ZNF280A</text>
<text x="39.0" y="1005.3" font-size="18.9" text-anchor="middle" transform="rotate(-90 39.0 1005.3)">Relative expression level</text>
<rect x="277.3" y="897.8" width="16.0" height="9.9" fill="#2f4f9e" />
<rect x="277.3" y="917.5" width="16.0" height="9.1" fill="#f03c0c" />
<text x="296.2" y="907.0" font-size="17.8">siCtrl</text>
<text x="296.2" y="926.6" font-size="17.8">siL1TD1</text>
<text x="0" y="0" font-size="30.2" font-weight="bold" transform="translate(411.4 852.8) scale(1.03 1)">j</text>
<path d="M530.00,1036.40 L530.00,925.40 A111.0,111.0 0 0 1 556.93,928.72 Z" fill="#005a71" stroke="#fff" stroke-width="1.6" stroke-linejoin="round"/>
<path d="M530.00,1036.40 L556.93,928.72 A111.0,111.0 0 0 1 562.10,930.14 Z" fill="#0b8c8c" stroke="#fff" stroke-width="1.6" stroke-linejoin="round"/>
<path d="M530.00,1036.40 L562.10,930.14 A111.0,111.0 0 0 1 639.94,1051.69 Z" fill="#97d2bc" stroke="#fff" stroke-width="1.6" stroke-linejoin="round"/>
<path d="M530.00,1036.40 L639.94,1051.69 A111.0,111.0 0 0 1 615.53,1107.15 Z" fill="#e8d6a5" stroke="#fff" stroke-width="1.6" stroke-linejoin="round"/>
<path d="M530.00,1036.40 L615.53,1107.15 A111.0,111.0 0 1 1 495.17,931.01 Z" fill="#ec9c00" stroke="#fff" stroke-width="1.6" stroke-linejoin="round"/>
<path d="M530.00,1036.40 L495.17,931.01 A111.0,111.0 0 0 1 502.67,928.82 Z" fill="#c8600c" stroke="#fff" stroke-width="1.6" stroke-linejoin="round"/>
<path d="M530.00,1036.40 L502.67,928.82 A111.0,111.0 0 0 1 522.20,925.67 Z" fill="#b83c08" stroke="#fff" stroke-width="1.6" stroke-linejoin="round"/>
<path d="M530.00,1036.40 L522.20,925.67 A111.0,111.0 0 0 1 530.00,925.40 Z" fill="#b01c14" stroke="#fff" stroke-width="1.6" stroke-linejoin="round"/>
<text x="542.0" y="907.0" font-size="18.5" text-anchor="middle">L1td1 eCLIP-seq</text>
<text x="535.2" y="1169.0" font-size="18.5" text-anchor="middle">Total=14144</text>
<rect x="647.0" y="934.0" width="22.5" height="13.0" fill="#005a71" />
<text x="673.0" y="947.0" font-size="18.5">3′UTR (3.90%)</text>
<rect x="647.0" y="961.4" width="22.5" height="13.0" fill="#0b8c8c" />
<text x="673.0" y="974.4" font-size="18.5">5′UTR (0.77%)</text>
<rect x="647.0" y="988.8" width="22.5" height="13.0" fill="#97d2bc" />
<text x="673.0" y="1001.8" font-size="18.5">CDS (22.53%)</text>
<rect x="647.0" y="1016.2" width="22.5" height="13.0" fill="#e8d6a5" />
<text x="673.0" y="1029.2" font-size="18.5">Intergenic (8.80%)</text>
<rect x="647.0" y="1043.6" width="22.5" height="13.0" fill="#ec9c00" />
<text x="673.0" y="1056.6" font-size="18.5">Intron (58.92%)</text>
<rect x="647.0" y="1071.0" width="22.5" height="13.0" fill="#c8600c" />
<text x="673.0" y="1084.0" font-size="18.5">Non-coding (1.12%)</text>
<rect x="647.0" y="1098.4" width="22.5" height="13.0" fill="#b83c08" />
<text x="673.0" y="1111.4" font-size="18.5">Promoter-TSS (2.84%)</text>
<rect x="647.0" y="1125.8" width="22.5" height="13.0" fill="#b01c14" />
<text x="673.0" y="1138.8" font-size="18.5">TTS (1.12%)</text>
<text x="0" y="0" font-size="30.2" font-weight="bold" transform="translate(850.8 852.8) scale(1.02 1)">k</text>
<rect x="982.3" y="1112.5" width="30.4" height="28.6" fill="#2f4f9e" />
<rect x="982.3" y="1141.1" width="30.4" height="2.8" fill="#f03c0c" />
<rect x="1027.0" y="1058.1" width="29.9" height="16.6" fill="#2f4f9e" />
<rect x="1027.0" y="1074.7" width="29.9" height="69.2" fill="#f03c0c" />
<rect x="1071.0" y="938.2" width="31.0" height="135.6" fill="#2f4f9e" />
<rect x="1071.0" y="1073.8" width="31.0" height="70.1" fill="#f03c0c" />
<line x1="967.6" y1="912.3" x2="967.6" y2="1144.9" stroke="#231815" stroke-width="2" />
<line x1="966.6" y1="1143.9" x2="1117.7" y2="1143.9" stroke="#231815" stroke-width="2" />
<line x1="960.6" y1="1143.9" x2="967.6" y2="1143.9" stroke="#231815" stroke-width="2" />
<text x="956.0" y="1150.4" font-size="18.5" text-anchor="end">0</text>
<line x1="960.6" y1="1097.8" x2="967.6" y2="1097.8" stroke="#231815" stroke-width="2" />
<text x="956.0" y="1104.3" font-size="18.5" text-anchor="end">50</text>
<line x1="960.6" y1="1051.7" x2="967.6" y2="1051.7" stroke="#231815" stroke-width="2" />
<text x="956.0" y="1058.2" font-size="18.5" text-anchor="end">100</text>
<line x1="960.6" y1="1005.5" x2="967.6" y2="1005.5" stroke="#231815" stroke-width="2" />
<text x="956.0" y="1012.0" font-size="18.5" text-anchor="end">150</text>
<line x1="960.6" y1="959.4" x2="967.6" y2="959.4" stroke="#231815" stroke-width="2" />
<text x="956.0" y="965.9" font-size="18.5" text-anchor="end">200</text>
<line x1="960.6" y1="913.3" x2="967.6" y2="913.3" stroke="#231815" stroke-width="2" />
<text x="956.0" y="919.8" font-size="18.5" text-anchor="end">250</text>
<line x1="997.0" y1="1143.9" x2="997.0" y2="1151.9" stroke="#231815" stroke-width="2.2" />
<text x="997.0" y="1171.0" font-size="18.5" text-anchor="middle">SINE</text>
<line x1="1041.7" y1="1143.9" x2="1041.7" y2="1151.9" stroke="#231815" stroke-width="2.2" />
<text x="1041.7" y="1171.0" font-size="18.5" text-anchor="middle">LINE</text>
<line x1="1085.7" y1="1143.9" x2="1085.7" y2="1151.9" stroke="#231815" stroke-width="2.2" />
<text x="1085.7" y="1171.0" font-size="18.5" text-anchor="middle">LTR</text>
<text x="995.6" y="1105.6" font-size="18.5" text-anchor="middle" fill="#f03c0c">8.8%</text>
<text x="1038.2" y="1049.6" font-size="18.5" text-anchor="middle" fill="#f03c0c">80.6%</text>
<text x="1086.0" y="930.5" font-size="18.5" text-anchor="middle" fill="#f03c0c">34.1%</text>
<rect x="967.2" y="879.2" width="12.6" height="7.8" fill="#f03c0c" />
<rect x="967.2" y="898.7" width="12.6" height="8.1" fill="#2f4f9e" />
<text x="984.3" y="886.0" font-size="18.5">upregulated</text>
<text x="984.3" y="905.2" font-size="18.5">unchanged</text>
<text x="919.4" y="1033.0" font-size="20" text-anchor="middle" transform="rotate(-90 919.4 1033.0)">Numbers of L1td1 bound TEs</text>
<text x="0" y="0" font-size="29.0" font-weight="bold" transform="translate(1172.9 852.4) scale(1.0 1)">l</text>
<defs><clipPath id="fc8"><rect x="1220.6" y="902.3" width="221.4" height="246.4"/></clipPath></defs>
<g clip-path="url(#fc8)">
<path d="M1312.9,1136.7a3.2,3.2 0 1,0 6.4,0a3.2,3.2 0 1,0 -6.4,0M1339.3,1136.7a3.2,3.2 0 1,0 6.4,0a3.2,3.2 0 1,0 -6.4,0M1346.0,1134.4a3.2,3.2 0 1,0 6.4,0a3.2,3.2 0 1,0 -6.4,0M1306.9,1136.6a3.2,3.2 0 1,0 6.4,0a3.2,3.2 0 1,0 -6.4,0M1380.8,1135.9a3.2,3.2 0 1,0 6.4,0a3.2,3.2 0 1,0 -6.4,0M1348.8,1133.8a3.2,3.2 0 1,0 6.4,0a3.2,3.2 0 1,0 -6.4,0M1395.9,1136.1a3.2,3.2 0 1,0 6.4,0a3.2,3.2 0 1,0 -6.4,0M1384.0,1136.9a3.2,3.2 0 1,0 6.4,0a3.2,3.2 0 1,0 -6.4,0M1328.8,1135.8a3.2,3.2 0 1,0 6.4,0a3.2,3.2 0 1,0 -6.4,0M1349.5,1133.9a3.2,3.2 0 1,0 6.4,0a3.2,3.2 0 1,0 -6.4,0M1332.7,1134.8a3.2,3.2 0 1,0 6.4,0a3.2,3.2 0 1,0 -6.4,0M1303.7,1136.1a3.2,3.2 0 1,0 6.4,0a3.2,3.2 0 1,0 -6.4,0M1329.3,1133.2a3.2,3.2 0 1,0 6.4,0a3.2,3.2 0 1,0 -6.4,0M1333.5,1136.6a3.2,3.2 0 1,0 6.4,0a3.2,3.2 0 1,0 -6.4,0M1340.2,1135.3a3.2,3.2 0 1,0 6.4,0a3.2,3.2 0 1,0 -6.4,0M1319.4,1136.4a3.2,3.2 0 1,0 6.4,0a3.2,3.2 0 1,0 -6.4,0M1335.2,1129.7a3.2,3.2 0 1,0 6.4,0a3.2,3.2 0 1,0 -6.4,0M1339.8,1137.2a3.2,3.2 0 1,0 6.4,0a3.2,3.2 0 1,0 -6.4,0M1301.7,1135.7a3.2,3.2 0 1,0 6.4,0a3.2,3.2 0 1,0 -6.4,0M1344.4,1133.7a3.2,3.2 0 1,0 6.4,0a3.2,3.2 0 1,0 -6.4,0M1335.9,1133.3a3.2,3.2 0 1,0 6.4,0a3.2,3.2 0 1,0 -6.4,0M1331.6,1135.8a3.2,3.2 0 1,0 6.4,0a3.2,3.2 0 1,0 -6.4,0M1355.5,1136.2a3.2,3.2 0 1,0 6.4,0a3.2,3.2 0 1,0 -6.4,0M1359.9,1135.7a3.2,3.2 0 1,0 6.4,0a3.2,3.2 0 1,0 -6.4,0M1364.7,1137.1a3.2,3.2 0 1,0 6.4,0a3.2,3.2 0 1,0 -6.4,0M1336.5,1137.0a3.2,3.2 0 1,0 6.4,0a3.2,3.2 0 1,0 -6.4,0M1314.6,1136.8a3.2,3.2 0 1,0 6.4,0a3.2,3.2 0 1,0 -6.4,0M1303.7,1137.1a3.2,3.2 0 1,0 6.4,0a3.2,3.2 0 1,0 -6.4,0M1337.0,1135.8a3.2,3.2 0 1,0 6.4,0a3.2,3.2 0 1,0 -6.4,0M1354.2,1135.8a3.2,3.2 0 1,0 6.4,0a3.2,3.2 0 1,0 -6.4,0M1359.1,1133.8a3.2,3.2 0 1,0 6.4,0a3.2,3.2 0 1,0 -6.4,0M1340.8,1134.4a3.2,3.2 0 1,0 6.4,0a3.2,3.2 0 1,0 -6.4,0M1386.6,1135.8a3.2,3.2 0 1,0 6.4,0a3.2,3.2 0 1,0 -6.4,0M1321.1,1136.9a3.2,3.2 0 1,0 6.4,0a3.2,3.2 0 1,0 -6.4,0M1346.5,1135.4a3.2,3.2 0 1,0 6.4,0a3.2,3.2 0 1,0 -6.4,0M1339.9,1136.1a3.2,3.2 0 1,0 6.4,0a3.2,3.2 0 1,0 -6.4,0M1354.7,1133.2a3.2,3.2 0 1,0 6.4,0a3.2,3.2 0 1,0 -6.4,0M1337.8,1134.2a3.2,3.2 0 1,0 6.4,0a3.2,3.2 0 1,0 -6.4,0M1388.2,1134.5a3.2,3.2 0 1,0 6.4,0a3.2,3.2 0 1,0 -6.4,0M1357.8,1133.7a3.2,3.2 0 1,0 6.4,0a3.2,3.2 0 1,0 -6.4,0M1337.8,1134.1a3.2,3.2 0 1,0 6.4,0a3.2,3.2 0 1,0 -6.4,0M1304.5,1134.9a3.2,3.2 0 1,0 6.4,0a3.2,3.2 0 1,0 -6.4,0M1314.1,1136.8a3.2,3.2 0 1,0 6.4,0a3.2,3.2 0 1,0 -6.4,0M1313.0,1136.5a3.2,3.2 0 1,0 6.4,0a3.2,3.2 0 1,0 -6.4,0M1334.3,1131.7a3.2,3.2 0 1,0 6.4,0a3.2,3.2 0 1,0 -6.4,0M1346.8,1136.0a3.2,3.2 0 1,0 6.4,0a3.2,3.2 0 1,0 -6.4,0M1334.3,1135.6a3.2,3.2 0 1,0 6.4,0a3.2,3.2 0 1,0 -6.4,0M1383.1,1134.2a3.2,3.2 0 1,0 6.4,0a3.2,3.2 0 1,0 -6.4,0M1306.4,1137.2a3.2,3.2 0 1,0 6.4,0a3.2,3.2 0 1,0 -6.4,0M1332.2,1136.8a3.2,3.2 0 1,0 6.4,0a3.2,3.2 0 1,0 -6.4,0M1300.1,1132.1a3.2,3.2 0 1,0 6.4,0a3.2,3.2 0 1,0 -6.4,0M1336.5,1137.0a3.2,3.2 0 1,0 6.4,0a3.2,3.2 0 1,0 -6.4,0M1357.1,1136.7a3.2,3.2 0 1,0 6.4,0a3.2,3.2 0 1,0 -6.4,0M1354.8,1134.0a3.2,3.2 0 1,0 6.4,0a3.2,3.2 0 1,0 -6.4,0M1334.6,1134.9a3.2,3.2 0 1,0 6.4,0a3.2,3.2 0 1,0 -6.4,0M1360.5,1136.8a3.2,3.2 0 1,0 6.4,0a3.2,3.2 0 1,0 -6.4,0M1379.3,1134.8a3.2,3.2 0 1,0 6.4,0a3.2,3.2 0 1,0 -6.4,0M1355.7,1133.2a3.2,3.2 0 1,0 6.4,0a3.2,3.2 0 1,0 -6.4,0M1342.4,1135.3a3.2,3.2 0 1,0 6.4,0a3.2,3.2 0 1,0 -6.4,0M1341.2,1136.8a3.2,3.2 0 1,0 6.4,0a3.2,3.2 0 1,0 -6.4,0M1325.8,1137.1a3.2,3.2 0 1,0 6.4,0a3.2,3.2 0 1,0 -6.4,0M1361.0,1131.1a3.2,3.2 0 1,0 6.4,0a3.2,3.2 0 1,0 -6.4,0M1352.0,1134.7a3.2,3.2 0 1,0 6.4,0a3.2,3.2 0 1,0 -6.4,0M1320.5,1136.6a3.2,3.2 0 1,0 6.4,0a3.2,3.2 0 1,0 -6.4,0M1318.3,1133.0a3.2,3.2 0 1,0 6.4,0a3.2,3.2 0 1,0 -6.4,0M1325.3,1133.3a3.2,3.2 0 1,0 6.4,0a3.2,3.2 0 1,0 -6.4,0M1345.2,1133.8a3.2,3.2 0 1,0 6.4,0a3.2,3.2 0 1,0 -6.4,0M1351.7,1136.4a3.2,3.2 0 1,0 6.4,0a3.2,3.2 0 1,0 -6.4,0M1315.7,1132.7a3.2,3.2 0 1,0 6.4,0a3.2,3.2 0 1,0 -6.4,0M1332.5,1132.9a3.2,3.2 0 1,0 6.4,0a3.2,3.2 0 1,0 -6.4,0M1333.6,1135.6a3.2,3.2 0 1,0 6.4,0a3.2,3.2 0 1,0 -6.4,0M1341.8,1135.6a3.2,3.2 0 1,0 6.4,0a3.2,3.2 0 1,0 -6.4,0M1312.9,1133.1a3.2,3.2 0 1,0 6.4,0a3.2,3.2 0 1,0 -6.4,0M1380.8,1134.4a3.2,3.2 0 1,0 6.4,0a3.2,3.2 0 1,0 -6.4,0M1337.0,1135.1a3.2,3.2 0 1,0 6.4,0a3.2,3.2 0 1,0 -6.4,0M1344.3,1137.0a3.2,3.2 0 1,0 6.4,0a3.2,3.2 0 1,0 -6.4,0M1334.5,1134.5a3.2,3.2 0 1,0 6.4,0a3.2,3.2 0 1,0 -6.4,0M1321.2,1135.0a3.2,3.2 0 1,0 6.4,0a3.2,3.2 0 1,0 -6.4,0M1345.1,1135.2a3.2,3.2 0 1,0 6.4,0a3.2,3.2 0 1,0 -6.4,0M1321.9,1135.4a3.2,3.2 0 1,0 6.4,0a3.2,3.2 0 1,0 -6.4,0M1310.9,1136.2a3.2,3.2 0 1,0 6.4,0a3.2,3.2 0 1,0 -6.4,0M1335.1,1134.8a3.2,3.2 0 1,0 6.4,0a3.2,3.2 0 1,0 -6.4,0M1353.1,1135.6a3.2,3.2 0 1,0 6.4,0a3.2,3.2 0 1,0 -6.4,0M1328.5,1137.3a3.2,3.2 0 1,0 6.4,0a3.2,3.2 0 1,0 -6.4,0M1355.5,1136.9a3.2,3.2 0 1,0 6.4,0a3.2,3.2 0 1,0 -6.4,0M1298.1,1136.8a3.2,3.2 0 1,0 6.4,0a3.2,3.2 0 1,0 -6.4,0M1370.6,1135.7a3.2,3.2 0 1,0 6.4,0a3.2,3.2 0 1,0 -6.4,0M1336.5,1134.3a3.2,3.2 0 1,0 6.4,0a3.2,3.2 0 1,0 -6.4,0M1344.2,1136.0a3.2,3.2 0 1,0 6.4,0a3.2,3.2 0 1,0 -6.4,0M1343.1,1135.0a3.2,3.2 0 1,0 6.4,0a3.2,3.2 0 1,0 -6.4,0M1327.9,1137.1a3.2,3.2 0 1,0 6.4,0a3.2,3.2 0 1,0 -6.4,0M1353.8,1135.7a3.2,3.2 0 1,0 6.4,0a3.2,3.2 0 1,0 -6.4,0M1328.9,1137.2a3.2,3.2 0 1,0 6.4,0a3.2,3.2 0 1,0 -6.4,0M1329.1,1136.3a3.2,3.2 0 1,0 6.4,0a3.2,3.2 0 1,0 -6.4,0M1392.4,1135.5a3.2,3.2 0 1,0 6.4,0a3.2,3.2 0 1,0 -6.4,0M1320.2,1137.1a3.2,3.2 0 1,0 6.4,0a3.2,3.2 0 1,0 -6.4,0M1358.0,1136.5a3.2,3.2 0 1,0 6.4,0a3.2,3.2 0 1,0 -6.4,0M1342.2,1136.0a3.2,3.2 0 1,0 6.4,0a3.2,3.2 0 1,0 -6.4,0M1321.9,1133.6a3.2,3.2 0 1,0 6.4,0a3.2,3.2 0 1,0 -6.4,0M1350.7,1136.0a3.2,3.2 0 1,0 6.4,0a3.2,3.2 0 1,0 -6.4,0M1338.9,1136.5a3.2,3.2 0 1,0 6.4,0a3.2,3.2 0 1,0 -6.4,0M1337.5,1135.4a3.2,3.2 0 1,0 6.4,0a3.2,3.2 0 1,0 -6.4,0M1341.3,1134.7a3.2,3.2 0 1,0 6.4,0a3.2,3.2 0 1,0 -6.4,0M1351.1,1136.5a3.2,3.2 0 1,0 6.4,0a3.2,3.2 0 1,0 -6.4,0M1349.6,1135.9a3.2,3.2 0 1,0 6.4,0a3.2,3.2 0 1,0 -6.4,0M1317.4,1135.4a3.2,3.2 0 1,0 6.4,0a3.2,3.2 0 1,0 -6.4,0M1353.4,1133.2a3.2,3.2 0 1,0 6.4,0a3.2,3.2 0 1,0 -6.4,0M1299.6,1135.4a3.2,3.2 0 1,0 6.4,0a3.2,3.2 0 1,0 -6.4,0M1357.3,1129.8a3.2,3.2 0 1,0 6.4,0a3.2,3.2 0 1,0 -6.4,0M1356.3,1136.0a3.2,3.2 0 1,0 6.4,0a3.2,3.2 0 1,0 -6.4,0M1301.7,1137.1a3.2,3.2 0 1,0 6.4,0a3.2,3.2 0 1,0 -6.4,0M1342.2,1135.8a3.2,3.2 0 1,0 6.4,0a3.2,3.2 0 1,0 -6.4,0M1389.3,1136.4a3.2,3.2 0 1,0 6.4,0a3.2,3.2 0 1,0 -6.4,0M1390.1,1135.3a3.2,3.2 0 1,0 6.4,0a3.2,3.2 0 1,0 -6.4,0M1341.4,1136.1a3.2,3.2 0 1,0 6.4,0a3.2,3.2 0 1,0 -6.4,0M1366.9,1136.3a3.2,3.2 0 1,0 6.4,0a3.2,3.2 0 1,0 -6.4,0M1345.0,1134.0a3.2,3.2 0 1,0 6.4,0a3.2,3.2 0 1,0 -6.4,0M1383.8,1133.5a3.2,3.2 0 1,0 6.4,0a3.2,3.2 0 1,0 -6.4,0M1384.5,1134.9a3.2,3.2 0 1,0 6.4,0a3.2,3.2 0 1,0 -6.4,0M1346.0,1135.3a3.2,3.2 0 1,0 6.4,0a3.2,3.2 0 1,0 -6.4,0M1350.7,1136.3a3.2,3.2 0 1,0 6.4,0a3.2,3.2 0 1,0 -6.4,0M1308.7,1136.8a3.2,3.2 0 1,0 6.4,0a3.2,3.2 0 1,0 -6.4,0M1329.1,1136.5a3.2,3.2 0 1,0 6.4,0a3.2,3.2 0 1,0 -6.4,0M1374.1,1136.5a3.2,3.2 0 1,0 6.4,0a3.2,3.2 0 1,0 -6.4,0M1332.6,1134.1a3.2,3.2 0 1,0 6.4,0a3.2,3.2 0 1,0 -6.4,0M1322.9,1132.8a3.2,3.2 0 1,0 6.4,0a3.2,3.2 0 1,0 -6.4,0M1344.8,1136.1a3.2,3.2 0 1,0 6.4,0a3.2,3.2 0 1,0 -6.4,0M1355.3,1133.2a3.2,3.2 0 1,0 6.4,0a3.2,3.2 0 1,0 -6.4,0M1347.5,1134.1a3.2,3.2 0 1,0 6.4,0a3.2,3.2 0 1,0 -6.4,0M1332.1,1135.2a3.2,3.2 0 1,0 6.4,0a3.2,3.2 0 1,0 -6.4,0M1353.7,1137.0a3.2,3.2 0 1,0 6.4,0a3.2,3.2 0 1,0 -6.4,0M1338.5,1133.5a3.2,3.2 0 1,0 6.4,0a3.2,3.2 0 1,0 -6.4,0M1332.7,1135.9a3.2,3.2 0 1,0 6.4,0a3.2,3.2 0 1,0 -6.4,0M1372.2,1136.8a3.2,3.2 0 1,0 6.4,0a3.2,3.2 0 1,0 -6.4,0M1314.2,1132.7a3.2,3.2 0 1,0 6.4,0a3.2,3.2 0 1,0 -6.4,0M1354.4,1136.2a3.2,3.2 0 1,0 6.4,0a3.2,3.2 0 1,0 -6.4,0M1327.2,1135.3a3.2,3.2 0 1,0 6.4,0a3.2,3.2 0 1,0 -6.4,0M1313.6,1135.2a3.2,3.2 0 1,0 6.4,0a3.2,3.2 0 1,0 -6.4,0M1346.0,1133.8a3.2,3.2 0 1,0 6.4,0a3.2,3.2 0 1,0 -6.4,0M1394.8,1136.7a3.2,3.2 0 1,0 6.4,0a3.2,3.2 0 1,0 -6.4,0M1333.6,1134.6a3.2,3.2 0 1,0 6.4,0a3.2,3.2 0 1,0 -6.4,0M1348.3,1137.3a3.2,3.2 0 1,0 6.4,0a3.2,3.2 0 1,0 -6.4,0M1348.5,1135.1a3.2,3.2 0 1,0 6.4,0a3.2,3.2 0 1,0 -6.4,0M1337.9,1137.2a3.2,3.2 0 1,0 6.4,0a3.2,3.2 0 1,0 -6.4,0M1300.0,1136.6a3.2,3.2 0 1,0 6.4,0a3.2,3.2 0 1,0 -6.4,0M1351.0,1132.7a3.2,3.2 0 1,0 6.4,0a3.2,3.2 0 1,0 -6.4,0M1339.4,1136.1a3.2,3.2 0 1,0 6.4,0a3.2,3.2 0 1,0 -6.4,0M1330.5,1131.7a3.2,3.2 0 1,0 6.4,0a3.2,3.2 0 1,0 -6.4,0M1354.1,1133.7a3.2,3.2 0 1,0 6.4,0a3.2,3.2 0 1,0 -6.4,0M1364.4,1135.9a3.2,3.2 0 1,0 6.4,0a3.2,3.2 0 1,0 -6.4,0M1329.7,1134.0a3.2,3.2 0 1,0 6.4,0a3.2,3.2 0 1,0 -6.4,0M1352.1,1134.7a3.2,3.2 0 1,0 6.4,0a3.2,3.2 0 1,0 -6.4,0M1353.8,1132.9a3.2,3.2 0 1,0 6.4,0a3.2,3.2 0 1,0 -6.4,0M1321.6,1134.3a3.2,3.2 0 1,0 6.4,0a3.2,3.2 0 1,0 -6.4,0M1340.0,1135.4a3.2,3.2 0 1,0 6.4,0a3.2,3.2 0 1,0 -6.4,0M1311.1,1136.5a3.2,3.2 0 1,0 6.4,0a3.2,3.2 0 1,0 -6.4,0M1347.2,1133.6a3.2,3.2 0 1,0 6.4,0a3.2,3.2 0 1,0 -6.4,0M1337.0,1135.9a3.2,3.2 0 1,0 6.4,0a3.2,3.2 0 1,0 -6.4,0M1377.9,1134.4a3.2,3.2 0 1,0 6.4,0a3.2,3.2 0 1,0 -6.4,0M1328.5,1137.2a3.2,3.2 0 1,0 6.4,0a3.2,3.2 0 1,0 -6.4,0M1360.5,1135.5a3.2,3.2 0 1,0 6.4,0a3.2,3.2 0 1,0 -6.4,0M1305.2,1136.9a3.2,3.2 0 1,0 6.4,0a3.2,3.2 0 1,0 -6.4,0M1372.1,1132.8a3.2,3.2 0 1,0 6.4,0a3.2,3.2 0 1,0 -6.4,0M1331.5,1137.2a3.2,3.2 0 1,0 6.4,0a3.2,3.2 0 1,0 -6.4,0M1366.5,1136.9a3.2,3.2 0 1,0 6.4,0a3.2,3.2 0 1,0 -6.4,0M1326.8,1135.9a3.2,3.2 0 1,0 6.4,0a3.2,3.2 0 1,0 -6.4,0M1372.4,1136.6a3.2,3.2 0 1,0 6.4,0a3.2,3.2 0 1,0 -6.4,0M1354.8,1136.3a3.2,3.2 0 1,0 6.4,0a3.2,3.2 0 1,0 -6.4,0M1365.3,1137.2a3.2,3.2 0 1,0 6.4,0a3.2,3.2 0 1,0 -6.4,0M1338.6,1135.2a3.2,3.2 0 1,0 6.4,0a3.2,3.2 0 1,0 -6.4,0M1330.2,1136.6a3.2,3.2 0 1,0 6.4,0a3.2,3.2 0 1,0 -6.4,0M1387.6,1134.9a3.2,3.2 0 1,0 6.4,0a3.2,3.2 0 1,0 -6.4,0M1373.8,1134.2a3.2,3.2 0 1,0 6.4,0a3.2,3.2 0 1,0 -6.4,0M1344.4,1134.3a3.2,3.2 0 1,0 6.4,0a3.2,3.2 0 1,0 -6.4,0M1318.8,1136.7a3.2,3.2 0 1,0 6.4,0a3.2,3.2 0 1,0 -6.4,0M1346.8,1133.7a3.2,3.2 0 1,0 6.4,0a3.2,3.2 0 1,0 -6.4,0M1350.4,1135.9a3.2,3.2 0 1,0 6.4,0a3.2,3.2 0 1,0 -6.4,0M1341.1,1131.5a3.2,3.2 0 1,0 6.4,0a3.2,3.2 0 1,0 -6.4,0M1341.6,1136.6a3.2,3.2 0 1,0 6.4,0a3.2,3.2 0 1,0 -6.4,0M1300.2,1131.4a3.2,3.2 0 1,0 6.4,0a3.2,3.2 0 1,0 -6.4,0M1347.2,1135.0a3.2,3.2 0 1,0 6.4,0a3.2,3.2 0 1,0 -6.4,0M1332.3,1136.6a3.2,3.2 0 1,0 6.4,0a3.2,3.2 0 1,0 -6.4,0M1382.2,1132.6a3.2,3.2 0 1,0 6.4,0a3.2,3.2 0 1,0 -6.4,0M1343.2,1132.6a3.2,3.2 0 1,0 6.4,0a3.2,3.2 0 1,0 -6.4,0M1361.3,1135.4a3.2,3.2 0 1,0 6.4,0a3.2,3.2 0 1,0 -6.4,0M1337.2,1136.0a3.2,3.2 0 1,0 6.4,0a3.2,3.2 0 1,0 -6.4,0M1333.6,1135.9a3.2,3.2 0 1,0 6.4,0a3.2,3.2 0 1,0 -6.4,0M1325.4,1136.1a3.2,3.2 0 1,0 6.4,0a3.2,3.2 0 1,0 -6.4,0M1344.6,1135.8a3.2,3.2 0 1,0 6.4,0a3.2,3.2 0 1,0 -6.4,0M1324.5,1130.9a3.2,3.2 0 1,0 6.4,0a3.2,3.2 0 1,0 -6.4,0M1347.2,1134.8a3.2,3.2 0 1,0 6.4,0a3.2,3.2 0 1,0 -6.4,0M1359.0,1133.9a3.2,3.2 0 1,0 6.4,0a3.2,3.2 0 1,0 -6.4,0M1366.8,1133.9a3.2,3.2 0 1,0 6.4,0a3.2,3.2 0 1,0 -6.4,0M1342.3,1136.4a3.2,3.2 0 1,0 6.4,0a3.2,3.2 0 1,0 -6.4,0M1324.3,1135.9a3.2,3.2 0 1,0 6.4,0a3.2,3.2 0 1,0 -6.4,0M1342.1,1136.4a3.2,3.2 0 1,0 6.4,0a3.2,3.2 0 1,0 -6.4,0M1352.2,1135.0a3.2,3.2 0 1,0 6.4,0a3.2,3.2 0 1,0 -6.4,0M1327.7,1136.8a3.2,3.2 0 1,0 6.4,0a3.2,3.2 0 1,0 -6.4,0M1363.7,1129.7a3.2,3.2 0 1,0 6.4,0a3.2,3.2 0 1,0 -6.4,0M1353.8,1136.0a3.2,3.2 0 1,0 6.4,0a3.2,3.2 0 1,0 -6.4,0M1344.7,1117.7a3.2,3.2 0 1,0 6.4,0a3.2,3.2 0 1,0 -6.4,0M1338.7,1113.7a3.2,3.2 0 1,0 6.4,0a3.2,3.2 0 1,0 -6.4,0M1342.0,1112.6a3.2,3.2 0 1,0 6.4,0a3.2,3.2 0 1,0 -6.4,0M1343.5,1053.0a3.2,3.2 0 1,0 6.4,0a3.2,3.2 0 1,0 -6.4,0M1348.4,1119.6a3.2,3.2 0 1,0 6.4,0a3.2,3.2 0 1,0 -6.4,0M1340.7,1115.0a3.2,3.2 0 1,0 6.4,0a3.2,3.2 0 1,0 -6.4,0M1343.2,1123.8a3.2,3.2 0 1,0 6.4,0a3.2,3.2 0 1,0 -6.4,0M1348.0,1110.9a3.2,3.2 0 1,0 6.4,0a3.2,3.2 0 1,0 -6.4,0M1342.3,1054.7a3.2,3.2 0 1,0 6.4,0a3.2,3.2 0 1,0 -6.4,0M1343.4,1066.6a3.2,3.2 0 1,0 6.4,0a3.2,3.2 0 1,0 -6.4,0M1344.5,1086.2a3.2,3.2 0 1,0 6.4,0a3.2,3.2 0 1,0 -6.4,0M1347.0,1099.0a3.2,3.2 0 1,0 6.4,0a3.2,3.2 0 1,0 -6.4,0M1345.7,1107.6a3.2,3.2 0 1,0 6.4,0a3.2,3.2 0 1,0 -6.4,0M1345.1,1047.7a3.2,3.2 0 1,0 6.4,0a3.2,3.2 0 1,0 -6.4,0M1342.8,1077.0a3.2,3.2 0 1,0 6.4,0a3.2,3.2 0 1,0 -6.4,0M1347.8,1056.8a3.2,3.2 0 1,0 6.4,0a3.2,3.2 0 1,0 -6.4,0M1341.0,1110.1a3.2,3.2 0 1,0 6.4,0a3.2,3.2 0 1,0 -6.4,0M1328.2,1097.0a3.2,3.2 0 1,0 6.4,0a3.2,3.2 0 1,0 -6.4,0M1344.4,1058.0a3.2,3.2 0 1,0 6.4,0a3.2,3.2 0 1,0 -6.4,0M1347.4,1055.9a3.2,3.2 0 1,0 6.4,0a3.2,3.2 0 1,0 -6.4,0M1348.4,1070.1a3.2,3.2 0 1,0 6.4,0a3.2,3.2 0 1,0 -6.4,0M1342.3,1054.0a3.2,3.2 0 1,0 6.4,0a3.2,3.2 0 1,0 -6.4,0M1346.0,1131.7a3.2,3.2 0 1,0 6.4,0a3.2,3.2 0 1,0 -6.4,0M1333.9,1097.7a3.2,3.2 0 1,0 6.4,0a3.2,3.2 0 1,0 -6.4,0M1344.4,1057.4a3.2,3.2 0 1,0 6.4,0a3.2,3.2 0 1,0 -6.4,0M1348.7,1047.3a3.2,3.2 0 1,0 6.4,0a3.2,3.2 0 1,0 -6.4,0M1343.5,1118.3a3.2,3.2 0 1,0 6.4,0a3.2,3.2 0 1,0 -6.4,0M1341.0,1086.4a3.2,3.2 0 1,0 6.4,0a3.2,3.2 0 1,0 -6.4,0M1335.2,1069.1a3.2,3.2 0 1,0 6.4,0a3.2,3.2 0 1,0 -6.4,0M1348.0,1075.5a3.2,3.2 0 1,0 6.4,0a3.2,3.2 0 1,0 -6.4,0M1340.4,1083.8a3.2,3.2 0 1,0 6.4,0a3.2,3.2 0 1,0 -6.4,0M1347.0,1128.3a3.2,3.2 0 1,0 6.4,0a3.2,3.2 0 1,0 -6.4,0M1345.4,1051.9a3.2,3.2 0 1,0 6.4,0a3.2,3.2 0 1,0 -6.4,0M1347.5,1075.7a3.2,3.2 0 1,0 6.4,0a3.2,3.2 0 1,0 -6.4,0M1343.8,1109.8a3.2,3.2 0 1,0 6.4,0a3.2,3.2 0 1,0 -6.4,0M1347.6,1076.5a3.2,3.2 0 1,0 6.4,0a3.2,3.2 0 1,0 -6.4,0M1343.4,1125.6a3.2,3.2 0 1,0 6.4,0a3.2,3.2 0 1,0 -6.4,0M1342.0,1086.2a3.2,3.2 0 1,0 6.4,0a3.2,3.2 0 1,0 -6.4,0M1343.7,1112.3a3.2,3.2 0 1,0 6.4,0a3.2,3.2 0 1,0 -6.4,0M1342.6,1079.5a3.2,3.2 0 1,0 6.4,0a3.2,3.2 0 1,0 -6.4,0M1348.2,1091.7a3.2,3.2 0 1,0 6.4,0a3.2,3.2 0 1,0 -6.4,0M1343.1,1048.5a3.2,3.2 0 1,0 6.4,0a3.2,3.2 0 1,0 -6.4,0M1335.3,1090.4a3.2,3.2 0 1,0 6.4,0a3.2,3.2 0 1,0 -6.4,0M1348.2,1111.3a3.2,3.2 0 1,0 6.4,0a3.2,3.2 0 1,0 -6.4,0M1332.5,1070.5a3.2,3.2 0 1,0 6.4,0a3.2,3.2 0 1,0 -6.4,0M1337.7,1105.0a3.2,3.2 0 1,0 6.4,0a3.2,3.2 0 1,0 -6.4,0M1347.6,1073.2a3.2,3.2 0 1,0 6.4,0a3.2,3.2 0 1,0 -6.4,0M1348.1,1095.2a3.2,3.2 0 1,0 6.4,0a3.2,3.2 0 1,0 -6.4,0M1341.8,1051.4a3.2,3.2 0 1,0 6.4,0a3.2,3.2 0 1,0 -6.4,0M1339.7,1112.0a3.2,3.2 0 1,0 6.4,0a3.2,3.2 0 1,0 -6.4,0M1347.0,1095.2a3.2,3.2 0 1,0 6.4,0a3.2,3.2 0 1,0 -6.4,0M1344.9,1072.5a3.2,3.2 0 1,0 6.4,0a3.2,3.2 0 1,0 -6.4,0M1338.4,1067.5a3.2,3.2 0 1,0 6.4,0a3.2,3.2 0 1,0 -6.4,0M1342.9,1087.9a3.2,3.2 0 1,0 6.4,0a3.2,3.2 0 1,0 -6.4,0M1324.7,1104.6a3.2,3.2 0 1,0 6.4,0a3.2,3.2 0 1,0 -6.4,0M1348.2,1060.5a3.2,3.2 0 1,0 6.4,0a3.2,3.2 0 1,0 -6.4,0M1344.5,1065.7a3.2,3.2 0 1,0 6.4,0a3.2,3.2 0 1,0 -6.4,0M1338.0,1106.1a3.2,3.2 0 1,0 6.4,0a3.2,3.2 0 1,0 -6.4,0M1345.0,1115.4a3.2,3.2 0 1,0 6.4,0a3.2,3.2 0 1,0 -6.4,0M1335.7,1112.3a3.2,3.2 0 1,0 6.4,0a3.2,3.2 0 1,0 -6.4,0M1345.4,1049.3a3.2,3.2 0 1,0 6.4,0a3.2,3.2 0 1,0 -6.4,0M1342.8,1119.0a3.2,3.2 0 1,0 6.4,0a3.2,3.2 0 1,0 -6.4,0M1346.9,1047.1a3.2,3.2 0 1,0 6.4,0a3.2,3.2 0 1,0 -6.4,0M1345.1,1119.4a3.2,3.2 0 1,0 6.4,0a3.2,3.2 0 1,0 -6.4,0M1347.7,1097.6a3.2,3.2 0 1,0 6.4,0a3.2,3.2 0 1,0 -6.4,0M1342.8,1053.7a3.2,3.2 0 1,0 6.4,0a3.2,3.2 0 1,0 -6.4,0M1344.3,1045.1a3.2,3.2 0 1,0 6.4,0a3.2,3.2 0 1,0 -6.4,0M1347.3,1050.8a3.2,3.2 0 1,0 6.4,0a3.2,3.2 0 1,0 -6.4,0M1346.1,1050.5a3.2,3.2 0 1,0 6.4,0a3.2,3.2 0 1,0 -6.4,0M1340.0,1066.9a3.2,3.2 0 1,0 6.4,0a3.2,3.2 0 1,0 -6.4,0M1346.0,1098.8a3.2,3.2 0 1,0 6.4,0a3.2,3.2 0 1,0 -6.4,0M1346.0,1099.2a3.2,3.2 0 1,0 6.4,0a3.2,3.2 0 1,0 -6.4,0M1342.4,1131.5a3.2,3.2 0 1,0 6.4,0a3.2,3.2 0 1,0 -6.4,0M1334.3,1107.4a3.2,3.2 0 1,0 6.4,0a3.2,3.2 0 1,0 -6.4,0M1326.8,1121.0a3.2,3.2 0 1,0 6.4,0a3.2,3.2 0 1,0 -6.4,0M1347.6,1048.0a3.2,3.2 0 1,0 6.4,0a3.2,3.2 0 1,0 -6.4,0M1343.8,1060.4a3.2,3.2 0 1,0 6.4,0a3.2,3.2 0 1,0 -6.4,0M1347.1,1060.3a3.2,3.2 0 1,0 6.4,0a3.2,3.2 0 1,0 -6.4,0M1347.6,1090.6a3.2,3.2 0 1,0 6.4,0a3.2,3.2 0 1,0 -6.4,0M1343.5,1099.3a3.2,3.2 0 1,0 6.4,0a3.2,3.2 0 1,0 -6.4,0M1345.8,1100.1a3.2,3.2 0 1,0 6.4,0a3.2,3.2 0 1,0 -6.4,0M1343.8,1053.8a3.2,3.2 0 1,0 6.4,0a3.2,3.2 0 1,0 -6.4,0M1347.6,1061.2a3.2,3.2 0 1,0 6.4,0a3.2,3.2 0 1,0 -6.4,0M1347.2,1065.2a3.2,3.2 0 1,0 6.4,0a3.2,3.2 0 1,0 -6.4,0M1347.9,1126.3a3.2,3.2 0 1,0 6.4,0a3.2,3.2 0 1,0 -6.4,0M1348.3,1051.8a3.2,3.2 0 1,0 6.4,0a3.2,3.2 0 1,0 -6.4,0M1340.7,1053.7a3.2,3.2 0 1,0 6.4,0a3.2,3.2 0 1,0 -6.4,0M1345.4,1102.3a3.2,3.2 0 1,0 6.4,0a3.2,3.2 0 1,0 -6.4,0M1331.2,1078.1a3.2,3.2 0 1,0 6.4,0a3.2,3.2 0 1,0 -6.4,0M1346.9,1108.9a3.2,3.2 0 1,0 6.4,0a3.2,3.2 0 1,0 -6.4,0" fill="#cfd6df" />
<path d="M1282.7,1134.5a3.2,3.2 0 1,0 6.4,0a3.2,3.2 0 1,0 -6.4,0M1307.8,1117.7a3.2,3.2 0 1,0 6.4,0a3.2,3.2 0 1,0 -6.4,0" fill="#cfd6df" />
<path d="M1354.2,1128.5a3.2,3.2 0 1,0 6.4,0a3.2,3.2 0 1,0 -6.4,0M1349.5,1126.7a3.2,3.2 0 1,0 6.4,0a3.2,3.2 0 1,0 -6.4,0M1362.4,1084.2a3.2,3.2 0 1,0 6.4,0a3.2,3.2 0 1,0 -6.4,0M1359.8,1108.7a3.2,3.2 0 1,0 6.4,0a3.2,3.2 0 1,0 -6.4,0M1349.7,1059.6a3.2,3.2 0 1,0 6.4,0a3.2,3.2 0 1,0 -6.4,0M1351.4,1102.4a3.2,3.2 0 1,0 6.4,0a3.2,3.2 0 1,0 -6.4,0M1350.7,1128.7a3.2,3.2 0 1,0 6.4,0a3.2,3.2 0 1,0 -6.4,0M1355.4,1064.7a3.2,3.2 0 1,0 6.4,0a3.2,3.2 0 1,0 -6.4,0M1349.6,1108.3a3.2,3.2 0 1,0 6.4,0a3.2,3.2 0 1,0 -6.4,0M1358.9,1125.1a3.2,3.2 0 1,0 6.4,0a3.2,3.2 0 1,0 -6.4,0M1360.2,1123.4a3.2,3.2 0 1,0 6.4,0a3.2,3.2 0 1,0 -6.4,0M1357.2,1117.4a3.2,3.2 0 1,0 6.4,0a3.2,3.2 0 1,0 -6.4,0M1353.7,1097.3a3.2,3.2 0 1,0 6.4,0a3.2,3.2 0 1,0 -6.4,0M1357.0,1112.6a3.2,3.2 0 1,0 6.4,0a3.2,3.2 0 1,0 -6.4,0M1350.9,1128.5a3.2,3.2 0 1,0 6.4,0a3.2,3.2 0 1,0 -6.4,0M1353.5,1122.1a3.2,3.2 0 1,0 6.4,0a3.2,3.2 0 1,0 -6.4,0M1349.6,1105.4a3.2,3.2 0 1,0 6.4,0a3.2,3.2 0 1,0 -6.4,0M1350.7,1071.3a3.2,3.2 0 1,0 6.4,0a3.2,3.2 0 1,0 -6.4,0M1350.6,1107.0a3.2,3.2 0 1,0 6.4,0a3.2,3.2 0 1,0 -6.4,0M1349.4,1118.0a3.2,3.2 0 1,0 6.4,0a3.2,3.2 0 1,0 -6.4,0M1350.4,1084.9a3.2,3.2 0 1,0 6.4,0a3.2,3.2 0 1,0 -6.4,0M1349.1,1109.6a3.2,3.2 0 1,0 6.4,0a3.2,3.2 0 1,0 -6.4,0M1350.4,1095.1a3.2,3.2 0 1,0 6.4,0a3.2,3.2 0 1,0 -6.4,0M1353.2,1107.6a3.2,3.2 0 1,0 6.4,0a3.2,3.2 0 1,0 -6.4,0M1357.9,1105.2a3.2,3.2 0 1,0 6.4,0a3.2,3.2 0 1,0 -6.4,0M1356.3,1090.0a3.2,3.2 0 1,0 6.4,0a3.2,3.2 0 1,0 -6.4,0M1357.0,1119.1a3.2,3.2 0 1,0 6.4,0a3.2,3.2 0 1,0 -6.4,0M1356.5,1096.9a3.2,3.2 0 1,0 6.4,0a3.2,3.2 0 1,0 -6.4,0M1356.1,1122.3a3.2,3.2 0 1,0 6.4,0a3.2,3.2 0 1,0 -6.4,0M1353.3,1128.4a3.2,3.2 0 1,0 6.4,0a3.2,3.2 0 1,0 -6.4,0M1352.5,1101.4a3.2,3.2 0 1,0 6.4,0a3.2,3.2 0 1,0 -6.4,0M1354.3,1115.9a3.2,3.2 0 1,0 6.4,0a3.2,3.2 0 1,0 -6.4,0M1354.4,1095.6a3.2,3.2 0 1,0 6.4,0a3.2,3.2 0 1,0 -6.4,0M1349.3,1123.0a3.2,3.2 0 1,0 6.4,0a3.2,3.2 0 1,0 -6.4,0M1359.9,1079.9a3.2,3.2 0 1,0 6.4,0a3.2,3.2 0 1,0 -6.4,0M1364.2,1103.5a3.2,3.2 0 1,0 6.4,0a3.2,3.2 0 1,0 -6.4,0M1353.1,1106.3a3.2,3.2 0 1,0 6.4,0a3.2,3.2 0 1,0 -6.4,0M1359.5,1122.0a3.2,3.2 0 1,0 6.4,0a3.2,3.2 0 1,0 -6.4,0M1349.9,1125.1a3.2,3.2 0 1,0 6.4,0a3.2,3.2 0 1,0 -6.4,0M1351.9,1101.0a3.2,3.2 0 1,0 6.4,0a3.2,3.2 0 1,0 -6.4,0M1364.1,1072.9a3.2,3.2 0 1,0 6.4,0a3.2,3.2 0 1,0 -6.4,0M1356.0,1089.9a3.2,3.2 0 1,0 6.4,0a3.2,3.2 0 1,0 -6.4,0M1357.7,1108.3a3.2,3.2 0 1,0 6.4,0a3.2,3.2 0 1,0 -6.4,0M1350.5,1117.2a3.2,3.2 0 1,0 6.4,0a3.2,3.2 0 1,0 -6.4,0M1363.3,1099.2a3.2,3.2 0 1,0 6.4,0a3.2,3.2 0 1,0 -6.4,0M1354.0,1114.6a3.2,3.2 0 1,0 6.4,0a3.2,3.2 0 1,0 -6.4,0M1351.9,1118.4a3.2,3.2 0 1,0 6.4,0a3.2,3.2 0 1,0 -6.4,0M1351.5,1122.8a3.2,3.2 0 1,0 6.4,0a3.2,3.2 0 1,0 -6.4,0M1353.4,1095.9a3.2,3.2 0 1,0 6.4,0a3.2,3.2 0 1,0 -6.4,0M1354.1,1127.7a3.2,3.2 0 1,0 6.4,0a3.2,3.2 0 1,0 -6.4,0M1349.9,1109.2a3.2,3.2 0 1,0 6.4,0a3.2,3.2 0 1,0 -6.4,0M1357.0,1119.3a3.2,3.2 0 1,0 6.4,0a3.2,3.2 0 1,0 -6.4,0M1353.8,1114.5a3.2,3.2 0 1,0 6.4,0a3.2,3.2 0 1,0 -6.4,0M1359.3,1119.2a3.2,3.2 0 1,0 6.4,0a3.2,3.2 0 1,0 -6.4,0M1349.7,1106.3a3.2,3.2 0 1,0 6.4,0a3.2,3.2 0 1,0 -6.4,0M1352.6,1090.9a3.2,3.2 0 1,0 6.4,0a3.2,3.2 0 1,0 -6.4,0M1351.7,1114.8a3.2,3.2 0 1,0 6.4,0a3.2,3.2 0 1,0 -6.4,0M1351.0,1119.2a3.2,3.2 0 1,0 6.4,0a3.2,3.2 0 1,0 -6.4,0M1354.8,1123.9a3.2,3.2 0 1,0 6.4,0a3.2,3.2 0 1,0 -6.4,0M1354.1,1105.7a3.2,3.2 0 1,0 6.4,0a3.2,3.2 0 1,0 -6.4,0M1350.5,1104.8a3.2,3.2 0 1,0 6.4,0a3.2,3.2 0 1,0 -6.4,0M1351.3,1080.5a3.2,3.2 0 1,0 6.4,0a3.2,3.2 0 1,0 -6.4,0M1355.0,1102.3a3.2,3.2 0 1,0 6.4,0a3.2,3.2 0 1,0 -6.4,0M1349.1,1114.2a3.2,3.2 0 1,0 6.4,0a3.2,3.2 0 1,0 -6.4,0M1358.2,1128.0a3.2,3.2 0 1,0 6.4,0a3.2,3.2 0 1,0 -6.4,0M1349.6,1104.9a3.2,3.2 0 1,0 6.4,0a3.2,3.2 0 1,0 -6.4,0M1352.7,1116.7a3.2,3.2 0 1,0 6.4,0a3.2,3.2 0 1,0 -6.4,0M1354.6,1105.8a3.2,3.2 0 1,0 6.4,0a3.2,3.2 0 1,0 -6.4,0M1353.5,1126.4a3.2,3.2 0 1,0 6.4,0a3.2,3.2 0 1,0 -6.4,0M1349.9,1090.9a3.2,3.2 0 1,0 6.4,0a3.2,3.2 0 1,0 -6.4,0M1351.8,1118.7a3.2,3.2 0 1,0 6.4,0a3.2,3.2 0 1,0 -6.4,0M1350.4,1109.5a3.2,3.2 0 1,0 6.4,0a3.2,3.2 0 1,0 -6.4,0M1353.0,1113.2a3.2,3.2 0 1,0 6.4,0a3.2,3.2 0 1,0 -6.4,0M1349.1,1121.8a3.2,3.2 0 1,0 6.4,0a3.2,3.2 0 1,0 -6.4,0M1356.2,1116.9a3.2,3.2 0 1,0 6.4,0a3.2,3.2 0 1,0 -6.4,0M1350.3,1078.4a3.2,3.2 0 1,0 6.4,0a3.2,3.2 0 1,0 -6.4,0M1349.7,1110.7a3.2,3.2 0 1,0 6.4,0a3.2,3.2 0 1,0 -6.4,0M1349.8,1082.0a3.2,3.2 0 1,0 6.4,0a3.2,3.2 0 1,0 -6.4,0M1359.3,1097.1a3.2,3.2 0 1,0 6.4,0a3.2,3.2 0 1,0 -6.4,0M1350.1,1068.5a3.2,3.2 0 1,0 6.4,0a3.2,3.2 0 1,0 -6.4,0M1353.5,1082.7a3.2,3.2 0 1,0 6.4,0a3.2,3.2 0 1,0 -6.4,0M1357.5,1090.9a3.2,3.2 0 1,0 6.4,0a3.2,3.2 0 1,0 -6.4,0M1356.7,1102.6a3.2,3.2 0 1,0 6.4,0a3.2,3.2 0 1,0 -6.4,0M1358.0,1123.9a3.2,3.2 0 1,0 6.4,0a3.2,3.2 0 1,0 -6.4,0M1355.1,1098.9a3.2,3.2 0 1,0 6.4,0a3.2,3.2 0 1,0 -6.4,0M1358.3,1120.9a3.2,3.2 0 1,0 6.4,0a3.2,3.2 0 1,0 -6.4,0M1352.9,1101.6a3.2,3.2 0 1,0 6.4,0a3.2,3.2 0 1,0 -6.4,0M1353.3,1118.2a3.2,3.2 0 1,0 6.4,0a3.2,3.2 0 1,0 -6.4,0M1351.1,1128.1a3.2,3.2 0 1,0 6.4,0a3.2,3.2 0 1,0 -6.4,0M1358.7,1122.4a3.2,3.2 0 1,0 6.4,0a3.2,3.2 0 1,0 -6.4,0M1350.1,1085.3a3.2,3.2 0 1,0 6.4,0a3.2,3.2 0 1,0 -6.4,0M1352.9,1077.0a3.2,3.2 0 1,0 6.4,0a3.2,3.2 0 1,0 -6.4,0M1351.7,1100.9a3.2,3.2 0 1,0 6.4,0a3.2,3.2 0 1,0 -6.4,0M1354.5,1091.5a3.2,3.2 0 1,0 6.4,0a3.2,3.2 0 1,0 -6.4,0M1351.6,1118.8a3.2,3.2 0 1,0 6.4,0a3.2,3.2 0 1,0 -6.4,0M1354.9,1103.3a3.2,3.2 0 1,0 6.4,0a3.2,3.2 0 1,0 -6.4,0M1352.2,1112.4a3.2,3.2 0 1,0 6.4,0a3.2,3.2 0 1,0 -6.4,0M1354.5,1123.3a3.2,3.2 0 1,0 6.4,0a3.2,3.2 0 1,0 -6.4,0M1349.5,1105.1a3.2,3.2 0 1,0 6.4,0a3.2,3.2 0 1,0 -6.4,0M1353.8,1124.5a3.2,3.2 0 1,0 6.4,0a3.2,3.2 0 1,0 -6.4,0M1359.2,1123.1a3.2,3.2 0 1,0 6.4,0a3.2,3.2 0 1,0 -6.4,0M1355.6,1115.3a3.2,3.2 0 1,0 6.4,0a3.2,3.2 0 1,0 -6.4,0M1355.2,1117.4a3.2,3.2 0 1,0 6.4,0a3.2,3.2 0 1,0 -6.4,0M1351.0,1117.8a3.2,3.2 0 1,0 6.4,0a3.2,3.2 0 1,0 -6.4,0M1350.1,1097.6a3.2,3.2 0 1,0 6.4,0a3.2,3.2 0 1,0 -6.4,0M1351.6,1090.4a3.2,3.2 0 1,0 6.4,0a3.2,3.2 0 1,0 -6.4,0M1351.2,1089.3a3.2,3.2 0 1,0 6.4,0a3.2,3.2 0 1,0 -6.4,0M1353.8,1123.1a3.2,3.2 0 1,0 6.4,0a3.2,3.2 0 1,0 -6.4,0M1356.1,1097.7a3.2,3.2 0 1,0 6.4,0a3.2,3.2 0 1,0 -6.4,0M1351.4,1079.4a3.2,3.2 0 1,0 6.4,0a3.2,3.2 0 1,0 -6.4,0M1359.3,1092.7a3.2,3.2 0 1,0 6.4,0a3.2,3.2 0 1,0 -6.4,0M1358.0,1083.5a3.2,3.2 0 1,0 6.4,0a3.2,3.2 0 1,0 -6.4,0M1349.2,1121.6a3.2,3.2 0 1,0 6.4,0a3.2,3.2 0 1,0 -6.4,0M1352.6,1096.5a3.2,3.2 0 1,0 6.4,0a3.2,3.2 0 1,0 -6.4,0M1349.8,1068.9a3.2,3.2 0 1,0 6.4,0a3.2,3.2 0 1,0 -6.4,0M1352.6,1103.8a3.2,3.2 0 1,0 6.4,0a3.2,3.2 0 1,0 -6.4,0M1358.2,1119.6a3.2,3.2 0 1,0 6.4,0a3.2,3.2 0 1,0 -6.4,0M1349.9,1101.0a3.2,3.2 0 1,0 6.4,0a3.2,3.2 0 1,0 -6.4,0M1357.2,1096.6a3.2,3.2 0 1,0 6.4,0a3.2,3.2 0 1,0 -6.4,0M1359.8,1120.8a3.2,3.2 0 1,0 6.4,0a3.2,3.2 0 1,0 -6.4,0M1360.0,1108.4a3.2,3.2 0 1,0 6.4,0a3.2,3.2 0 1,0 -6.4,0M1354.6,1112.1a3.2,3.2 0 1,0 6.4,0a3.2,3.2 0 1,0 -6.4,0M1351.0,1126.2a3.2,3.2 0 1,0 6.4,0a3.2,3.2 0 1,0 -6.4,0M1356.1,1125.7a3.2,3.2 0 1,0 6.4,0a3.2,3.2 0 1,0 -6.4,0M1350.5,1122.0a3.2,3.2 0 1,0 6.4,0a3.2,3.2 0 1,0 -6.4,0M1352.3,1090.0a3.2,3.2 0 1,0 6.4,0a3.2,3.2 0 1,0 -6.4,0M1352.5,1115.4a3.2,3.2 0 1,0 6.4,0a3.2,3.2 0 1,0 -6.4,0M1351.2,1125.9a3.2,3.2 0 1,0 6.4,0a3.2,3.2 0 1,0 -6.4,0M1351.9,1089.8a3.2,3.2 0 1,0 6.4,0a3.2,3.2 0 1,0 -6.4,0M1350.7,1092.7a3.2,3.2 0 1,0 6.4,0a3.2,3.2 0 1,0 -6.4,0M1358.5,1094.2a3.2,3.2 0 1,0 6.4,0a3.2,3.2 0 1,0 -6.4,0M1351.7,1119.2a3.2,3.2 0 1,0 6.4,0a3.2,3.2 0 1,0 -6.4,0M1350.9,1089.5a3.2,3.2 0 1,0 6.4,0a3.2,3.2 0 1,0 -6.4,0M1349.4,1089.5a3.2,3.2 0 1,0 6.4,0a3.2,3.2 0 1,0 -6.4,0M1355.7,1121.0a3.2,3.2 0 1,0 6.4,0a3.2,3.2 0 1,0 -6.4,0M1367.3,1105.5a3.2,3.2 0 1,0 6.4,0a3.2,3.2 0 1,0 -6.4,0M1351.7,1126.1a3.2,3.2 0 1,0 6.4,0a3.2,3.2 0 1,0 -6.4,0M1355.5,1108.4a3.2,3.2 0 1,0 6.4,0a3.2,3.2 0 1,0 -6.4,0M1357.9,1079.4a3.2,3.2 0 1,0 6.4,0a3.2,3.2 0 1,0 -6.4,0M1352.3,1128.0a3.2,3.2 0 1,0 6.4,0a3.2,3.2 0 1,0 -6.4,0M1357.6,1091.9a3.2,3.2 0 1,0 6.4,0a3.2,3.2 0 1,0 -6.4,0M1349.8,1116.4a3.2,3.2 0 1,0 6.4,0a3.2,3.2 0 1,0 -6.4,0M1353.5,1121.6a3.2,3.2 0 1,0 6.4,0a3.2,3.2 0 1,0 -6.4,0M1349.0,1106.0a3.2,3.2 0 1,0 6.4,0a3.2,3.2 0 1,0 -6.4,0M1355.7,1098.3a3.2,3.2 0 1,0 6.4,0a3.2,3.2 0 1,0 -6.4,0M1352.0,1117.1a3.2,3.2 0 1,0 6.4,0a3.2,3.2 0 1,0 -6.4,0M1351.0,1123.1a3.2,3.2 0 1,0 6.4,0a3.2,3.2 0 1,0 -6.4,0M1357.7,1126.9a3.2,3.2 0 1,0 6.4,0a3.2,3.2 0 1,0 -6.4,0M1349.1,1120.8a3.2,3.2 0 1,0 6.4,0a3.2,3.2 0 1,0 -6.4,0M1351.3,1116.5a3.2,3.2 0 1,0 6.4,0a3.2,3.2 0 1,0 -6.4,0M1352.4,1096.6a3.2,3.2 0 1,0 6.4,0a3.2,3.2 0 1,0 -6.4,0M1353.0,1117.8a3.2,3.2 0 1,0 6.4,0a3.2,3.2 0 1,0 -6.4,0M1357.1,1114.0a3.2,3.2 0 1,0 6.4,0a3.2,3.2 0 1,0 -6.4,0M1349.5,1109.6a3.2,3.2 0 1,0 6.4,0a3.2,3.2 0 1,0 -6.4,0M1350.8,1121.5a3.2,3.2 0 1,0 6.4,0a3.2,3.2 0 1,0 -6.4,0M1351.2,1092.3a3.2,3.2 0 1,0 6.4,0a3.2,3.2 0 1,0 -6.4,0M1358.3,1123.2a3.2,3.2 0 1,0 6.4,0a3.2,3.2 0 1,0 -6.4,0M1355.0,1128.5a3.2,3.2 0 1,0 6.4,0a3.2,3.2 0 1,0 -6.4,0M1349.9,1106.8a3.2,3.2 0 1,0 6.4,0a3.2,3.2 0 1,0 -6.4,0M1355.1,1105.1a3.2,3.2 0 1,0 6.4,0a3.2,3.2 0 1,0 -6.4,0M1356.0,1067.1a3.2,3.2 0 1,0 6.4,0a3.2,3.2 0 1,0 -6.4,0M1353.9,1126.7a3.2,3.2 0 1,0 6.4,0a3.2,3.2 0 1,0 -6.4,0M1353.5,1122.0a3.2,3.2 0 1,0 6.4,0a3.2,3.2 0 1,0 -6.4,0M1350.0,1100.9a3.2,3.2 0 1,0 6.4,0a3.2,3.2 0 1,0 -6.4,0M1350.2,1128.1a3.2,3.2 0 1,0 6.4,0a3.2,3.2 0 1,0 -6.4,0M1351.1,1128.1a3.2,3.2 0 1,0 6.4,0a3.2,3.2 0 1,0 -6.4,0M1349.9,1065.7a3.2,3.2 0 1,0 6.4,0a3.2,3.2 0 1,0 -6.4,0M1353.5,1117.2a3.2,3.2 0 1,0 6.4,0a3.2,3.2 0 1,0 -6.4,0M1352.1,1103.0a3.2,3.2 0 1,0 6.4,0a3.2,3.2 0 1,0 -6.4,0M1353.5,1096.6a3.2,3.2 0 1,0 6.4,0a3.2,3.2 0 1,0 -6.4,0M1357.6,1117.9a3.2,3.2 0 1,0 6.4,0a3.2,3.2 0 1,0 -6.4,0M1353.6,1126.2a3.2,3.2 0 1,0 6.4,0a3.2,3.2 0 1,0 -6.4,0M1350.8,1091.3a3.2,3.2 0 1,0 6.4,0a3.2,3.2 0 1,0 -6.4,0M1355.8,1128.2a3.2,3.2 0 1,0 6.4,0a3.2,3.2 0 1,0 -6.4,0M1349.7,1103.0a3.2,3.2 0 1,0 6.4,0a3.2,3.2 0 1,0 -6.4,0M1357.3,1083.9a3.2,3.2 0 1,0 6.4,0a3.2,3.2 0 1,0 -6.4,0M1351.2,1109.7a3.2,3.2 0 1,0 6.4,0a3.2,3.2 0 1,0 -6.4,0M1350.3,1112.8a3.2,3.2 0 1,0 6.4,0a3.2,3.2 0 1,0 -6.4,0M1351.7,1104.3a3.2,3.2 0 1,0 6.4,0a3.2,3.2 0 1,0 -6.4,0M1350.3,1128.8a3.2,3.2 0 1,0 6.4,0a3.2,3.2 0 1,0 -6.4,0M1358.3,1104.0a3.2,3.2 0 1,0 6.4,0a3.2,3.2 0 1,0 -6.4,0M1356.9,1125.3a3.2,3.2 0 1,0 6.4,0a3.2,3.2 0 1,0 -6.4,0M1356.6,1083.5a3.2,3.2 0 1,0 6.4,0a3.2,3.2 0 1,0 -6.4,0M1353.2,1107.1a3.2,3.2 0 1,0 6.4,0a3.2,3.2 0 1,0 -6.4,0M1349.7,1083.4a3.2,3.2 0 1,0 6.4,0a3.2,3.2 0 1,0 -6.4,0M1361.2,1117.0a3.2,3.2 0 1,0 6.4,0a3.2,3.2 0 1,0 -6.4,0M1361.2,1107.3a3.2,3.2 0 1,0 6.4,0a3.2,3.2 0 1,0 -6.4,0M1349.5,1124.9a3.2,3.2 0 1,0 6.4,0a3.2,3.2 0 1,0 -6.4,0M1358.9,1085.3a3.2,3.2 0 1,0 6.4,0a3.2,3.2 0 1,0 -6.4,0M1352.4,1102.1a3.2,3.2 0 1,0 6.4,0a3.2,3.2 0 1,0 -6.4,0M1360.0,1119.1a3.2,3.2 0 1,0 6.4,0a3.2,3.2 0 1,0 -6.4,0M1352.9,1095.9a3.2,3.2 0 1,0 6.4,0a3.2,3.2 0 1,0 -6.4,0M1353.7,1114.3a3.2,3.2 0 1,0 6.4,0a3.2,3.2 0 1,0 -6.4,0M1357.4,1097.6a3.2,3.2 0 1,0 6.4,0a3.2,3.2 0 1,0 -6.4,0M1349.9,1105.8a3.2,3.2 0 1,0 6.4,0a3.2,3.2 0 1,0 -6.4,0M1356.9,1110.1a3.2,3.2 0 1,0 6.4,0a3.2,3.2 0 1,0 -6.4,0M1354.1,1123.1a3.2,3.2 0 1,0 6.4,0a3.2,3.2 0 1,0 -6.4,0M1356.7,1122.0a3.2,3.2 0 1,0 6.4,0a3.2,3.2 0 1,0 -6.4,0M1352.9,1120.8a3.2,3.2 0 1,0 6.4,0a3.2,3.2 0 1,0 -6.4,0M1350.7,1115.6a3.2,3.2 0 1,0 6.4,0a3.2,3.2 0 1,0 -6.4,0M1350.8,1115.8a3.2,3.2 0 1,0 6.4,0a3.2,3.2 0 1,0 -6.4,0M1349.5,1105.7a3.2,3.2 0 1,0 6.4,0a3.2,3.2 0 1,0 -6.4,0M1351.4,1124.7a3.2,3.2 0 1,0 6.4,0a3.2,3.2 0 1,0 -6.4,0M1350.1,1087.4a3.2,3.2 0 1,0 6.4,0a3.2,3.2 0 1,0 -6.4,0M1351.4,1100.1a3.2,3.2 0 1,0 6.4,0a3.2,3.2 0 1,0 -6.4,0M1356.0,1128.0a3.2,3.2 0 1,0 6.4,0a3.2,3.2 0 1,0 -6.4,0M1351.2,1106.5a3.2,3.2 0 1,0 6.4,0a3.2,3.2 0 1,0 -6.4,0M1352.1,1107.6a3.2,3.2 0 1,0 6.4,0a3.2,3.2 0 1,0 -6.4,0M1359.2,1120.9a3.2,3.2 0 1,0 6.4,0a3.2,3.2 0 1,0 -6.4,0M1350.4,1087.0a3.2,3.2 0 1,0 6.4,0a3.2,3.2 0 1,0 -6.4,0M1358.9,1116.4a3.2,3.2 0 1,0 6.4,0a3.2,3.2 0 1,0 -6.4,0M1350.0,1125.2a3.2,3.2 0 1,0 6.4,0a3.2,3.2 0 1,0 -6.4,0M1351.8,1075.8a3.2,3.2 0 1,0 6.4,0a3.2,3.2 0 1,0 -6.4,0M1351.5,1113.8a3.2,3.2 0 1,0 6.4,0a3.2,3.2 0 1,0 -6.4,0M1356.9,1110.9a3.2,3.2 0 1,0 6.4,0a3.2,3.2 0 1,0 -6.4,0M1356.6,1125.9a3.2,3.2 0 1,0 6.4,0a3.2,3.2 0 1,0 -6.4,0M1351.7,1090.4a3.2,3.2 0 1,0 6.4,0a3.2,3.2 0 1,0 -6.4,0M1354.9,1122.0a3.2,3.2 0 1,0 6.4,0a3.2,3.2 0 1,0 -6.4,0M1354.1,1123.8a3.2,3.2 0 1,0 6.4,0a3.2,3.2 0 1,0 -6.4,0M1349.6,1127.9a3.2,3.2 0 1,0 6.4,0a3.2,3.2 0 1,0 -6.4,0M1353.9,1123.2a3.2,3.2 0 1,0 6.4,0a3.2,3.2 0 1,0 -6.4,0M1354.6,1097.8a3.2,3.2 0 1,0 6.4,0a3.2,3.2 0 1,0 -6.4,0M1363.0,1074.2a3.2,3.2 0 1,0 6.4,0a3.2,3.2 0 1,0 -6.4,0M1349.3,1123.7a3.2,3.2 0 1,0 6.4,0a3.2,3.2 0 1,0 -6.4,0M1350.0,1103.3a3.2,3.2 0 1,0 6.4,0a3.2,3.2 0 1,0 -6.4,0M1352.4,1125.2a3.2,3.2 0 1,0 6.4,0a3.2,3.2 0 1,0 -6.4,0M1354.5,1119.1a3.2,3.2 0 1,0 6.4,0a3.2,3.2 0 1,0 -6.4,0M1356.2,1117.3a3.2,3.2 0 1,0 6.4,0a3.2,3.2 0 1,0 -6.4,0M1360.7,1085.3a3.2,3.2 0 1,0 6.4,0a3.2,3.2 0 1,0 -6.4,0M1355.0,1128.2a3.2,3.2 0 1,0 6.4,0a3.2,3.2 0 1,0 -6.4,0M1349.3,1114.8a3.2,3.2 0 1,0 6.4,0a3.2,3.2 0 1,0 -6.4,0M1358.8,1126.3a3.2,3.2 0 1,0 6.4,0a3.2,3.2 0 1,0 -6.4,0M1349.1,1096.4a3.2,3.2 0 1,0 6.4,0a3.2,3.2 0 1,0 -6.4,0M1349.4,1123.7a3.2,3.2 0 1,0 6.4,0a3.2,3.2 0 1,0 -6.4,0M1352.7,1103.1a3.2,3.2 0 1,0 6.4,0a3.2,3.2 0 1,0 -6.4,0M1349.2,1118.2a3.2,3.2 0 1,0 6.4,0a3.2,3.2 0 1,0 -6.4,0M1353.1,1107.4a3.2,3.2 0 1,0 6.4,0a3.2,3.2 0 1,0 -6.4,0M1350.7,1119.4a3.2,3.2 0 1,0 6.4,0a3.2,3.2 0 1,0 -6.4,0M1358.1,1115.4a3.2,3.2 0 1,0 6.4,0a3.2,3.2 0 1,0 -6.4,0M1349.0,1121.4a3.2,3.2 0 1,0 6.4,0a3.2,3.2 0 1,0 -6.4,0M1350.9,1118.7a3.2,3.2 0 1,0 6.4,0a3.2,3.2 0 1,0 -6.4,0M1358.1,1119.8a3.2,3.2 0 1,0 6.4,0a3.2,3.2 0 1,0 -6.4,0M1357.3,1111.4a3.2,3.2 0 1,0 6.4,0a3.2,3.2 0 1,0 -6.4,0M1353.8,1082.5a3.2,3.2 0 1,0 6.4,0a3.2,3.2 0 1,0 -6.4,0M1356.8,1078.6a3.2,3.2 0 1,0 6.4,0a3.2,3.2 0 1,0 -6.4,0M1355.5,1110.1a3.2,3.2 0 1,0 6.4,0a3.2,3.2 0 1,0 -6.4,0M1349.7,1123.9a3.2,3.2 0 1,0 6.4,0a3.2,3.2 0 1,0 -6.4,0M1361.9,1101.6a3.2,3.2 0 1,0 6.4,0a3.2,3.2 0 1,0 -6.4,0M1349.0,1113.7a3.2,3.2 0 1,0 6.4,0a3.2,3.2 0 1,0 -6.4,0M1351.9,1095.5a3.2,3.2 0 1,0 6.4,0a3.2,3.2 0 1,0 -6.4,0M1350.8,1127.6a3.2,3.2 0 1,0 6.4,0a3.2,3.2 0 1,0 -6.4,0M1359.1,1113.2a3.2,3.2 0 1,0 6.4,0a3.2,3.2 0 1,0 -6.4,0M1353.4,1121.4a3.2,3.2 0 1,0 6.4,0a3.2,3.2 0 1,0 -6.4,0M1352.1,1106.1a3.2,3.2 0 1,0 6.4,0a3.2,3.2 0 1,0 -6.4,0M1356.4,1128.0a3.2,3.2 0 1,0 6.4,0a3.2,3.2 0 1,0 -6.4,0M1352.7,1084.2a3.2,3.2 0 1,0 6.4,0a3.2,3.2 0 1,0 -6.4,0M1352.9,1116.1a3.2,3.2 0 1,0 6.4,0a3.2,3.2 0 1,0 -6.4,0M1350.5,1072.3a3.2,3.2 0 1,0 6.4,0a3.2,3.2 0 1,0 -6.4,0M1352.0,1127.5a3.2,3.2 0 1,0 6.4,0a3.2,3.2 0 1,0 -6.4,0M1352.9,1115.0a3.2,3.2 0 1,0 6.4,0a3.2,3.2 0 1,0 -6.4,0M1357.9,1119.9a3.2,3.2 0 1,0 6.4,0a3.2,3.2 0 1,0 -6.4,0M1351.9,1117.1a3.2,3.2 0 1,0 6.4,0a3.2,3.2 0 1,0 -6.4,0M1352.8,1113.2a3.2,3.2 0 1,0 6.4,0a3.2,3.2 0 1,0 -6.4,0M1355.5,1115.6a3.2,3.2 0 1,0 6.4,0a3.2,3.2 0 1,0 -6.4,0M1353.6,1100.6a3.2,3.2 0 1,0 6.4,0a3.2,3.2 0 1,0 -6.4,0M1364.2,1127.2a3.2,3.2 0 1,0 6.4,0a3.2,3.2 0 1,0 -6.4,0M1351.8,1116.3a3.2,3.2 0 1,0 6.4,0a3.2,3.2 0 1,0 -6.4,0M1349.7,1068.8a3.2,3.2 0 1,0 6.4,0a3.2,3.2 0 1,0 -6.4,0M1360.5,1116.2a3.2,3.2 0 1,0 6.4,0a3.2,3.2 0 1,0 -6.4,0M1358.4,1111.9a3.2,3.2 0 1,0 6.4,0a3.2,3.2 0 1,0 -6.4,0M1350.6,1120.3a3.2,3.2 0 1,0 6.4,0a3.2,3.2 0 1,0 -6.4,0M1351.2,1121.4a3.2,3.2 0 1,0 6.4,0a3.2,3.2 0 1,0 -6.4,0M1354.8,1101.3a3.2,3.2 0 1,0 6.4,0a3.2,3.2 0 1,0 -6.4,0M1350.3,1117.9a3.2,3.2 0 1,0 6.4,0a3.2,3.2 0 1,0 -6.4,0M1358.0,1089.3a3.2,3.2 0 1,0 6.4,0a3.2,3.2 0 1,0 -6.4,0M1349.0,1113.8a3.2,3.2 0 1,0 6.4,0a3.2,3.2 0 1,0 -6.4,0M1349.8,1106.2a3.2,3.2 0 1,0 6.4,0a3.2,3.2 0 1,0 -6.4,0M1352.7,1125.4a3.2,3.2 0 1,0 6.4,0a3.2,3.2 0 1,0 -6.4,0M1362.2,1095.8a3.2,3.2 0 1,0 6.4,0a3.2,3.2 0 1,0 -6.4,0M1352.4,1128.7a3.2,3.2 0 1,0 6.4,0a3.2,3.2 0 1,0 -6.4,0M1355.3,1122.9a3.2,3.2 0 1,0 6.4,0a3.2,3.2 0 1,0 -6.4,0M1358.6,1093.7a3.2,3.2 0 1,0 6.4,0a3.2,3.2 0 1,0 -6.4,0M1356.1,1112.0a3.2,3.2 0 1,0 6.4,0a3.2,3.2 0 1,0 -6.4,0M1360.2,1111.7a3.2,3.2 0 1,0 6.4,0a3.2,3.2 0 1,0 -6.4,0M1356.8,1105.6a3.2,3.2 0 1,0 6.4,0a3.2,3.2 0 1,0 -6.4,0M1350.5,1120.1a3.2,3.2 0 1,0 6.4,0a3.2,3.2 0 1,0 -6.4,0M1351.0,1086.1a3.2,3.2 0 1,0 6.4,0a3.2,3.2 0 1,0 -6.4,0M1354.1,1119.8a3.2,3.2 0 1,0 6.4,0a3.2,3.2 0 1,0 -6.4,0M1357.3,1128.9a3.2,3.2 0 1,0 6.4,0a3.2,3.2 0 1,0 -6.4,0M1355.3,1091.4a3.2,3.2 0 1,0 6.4,0a3.2,3.2 0 1,0 -6.4,0M1351.3,1093.5a3.2,3.2 0 1,0 6.4,0a3.2,3.2 0 1,0 -6.4,0M1353.9,1112.8a3.2,3.2 0 1,0 6.4,0a3.2,3.2 0 1,0 -6.4,0M1350.6,1101.5a3.2,3.2 0 1,0 6.4,0a3.2,3.2 0 1,0 -6.4,0M1357.6,1104.0a3.2,3.2 0 1,0 6.4,0a3.2,3.2 0 1,0 -6.4,0M1353.5,1121.2a3.2,3.2 0 1,0 6.4,0a3.2,3.2 0 1,0 -6.4,0M1349.3,1112.9a3.2,3.2 0 1,0 6.4,0a3.2,3.2 0 1,0 -6.4,0M1350.0,1115.7a3.2,3.2 0 1,0 6.4,0a3.2,3.2 0 1,0 -6.4,0M1363.0,1116.1a3.2,3.2 0 1,0 6.4,0a3.2,3.2 0 1,0 -6.4,0M1349.3,1097.7a3.2,3.2 0 1,0 6.4,0a3.2,3.2 0 1,0 -6.4,0M1352.4,1122.1a3.2,3.2 0 1,0 6.4,0a3.2,3.2 0 1,0 -6.4,0M1356.1,1095.2a3.2,3.2 0 1,0 6.4,0a3.2,3.2 0 1,0 -6.4,0M1357.7,1100.4a3.2,3.2 0 1,0 6.4,0a3.2,3.2 0 1,0 -6.4,0M1349.8,1110.7a3.2,3.2 0 1,0 6.4,0a3.2,3.2 0 1,0 -6.4,0M1350.3,1117.7a3.2,3.2 0 1,0 6.4,0a3.2,3.2 0 1,0 -6.4,0M1354.5,1127.8a3.2,3.2 0 1,0 6.4,0a3.2,3.2 0 1,0 -6.4,0M1352.1,1102.8a3.2,3.2 0 1,0 6.4,0a3.2,3.2 0 1,0 -6.4,0M1349.6,1107.9a3.2,3.2 0 1,0 6.4,0a3.2,3.2 0 1,0 -6.4,0M1350.7,1125.2a3.2,3.2 0 1,0 6.4,0a3.2,3.2 0 1,0 -6.4,0M1349.6,1103.4a3.2,3.2 0 1,0 6.4,0a3.2,3.2 0 1,0 -6.4,0M1352.1,1120.6a3.2,3.2 0 1,0 6.4,0a3.2,3.2 0 1,0 -6.4,0M1354.3,1127.0a3.2,3.2 0 1,0 6.4,0a3.2,3.2 0 1,0 -6.4,0M1353.3,1125.3a3.2,3.2 0 1,0 6.4,0a3.2,3.2 0 1,0 -6.4,0M1363.3,1109.5a3.2,3.2 0 1,0 6.4,0a3.2,3.2 0 1,0 -6.4,0M1349.7,1120.0a3.2,3.2 0 1,0 6.4,0a3.2,3.2 0 1,0 -6.4,0M1354.7,1125.4a3.2,3.2 0 1,0 6.4,0a3.2,3.2 0 1,0 -6.4,0M1352.1,1120.4a3.2,3.2 0 1,0 6.4,0a3.2,3.2 0 1,0 -6.4,0M1359.8,1108.0a3.2,3.2 0 1,0 6.4,0a3.2,3.2 0 1,0 -6.4,0M1354.1,1110.4a3.2,3.2 0 1,0 6.4,0a3.2,3.2 0 1,0 -6.4,0M1350.6,1103.4a3.2,3.2 0 1,0 6.4,0a3.2,3.2 0 1,0 -6.4,0M1350.3,1095.6a3.2,3.2 0 1,0 6.4,0a3.2,3.2 0 1,0 -6.4,0M1357.5,1116.2a3.2,3.2 0 1,0 6.4,0a3.2,3.2 0 1,0 -6.4,0M1355.2,1119.2a3.2,3.2 0 1,0 6.4,0a3.2,3.2 0 1,0 -6.4,0M1356.3,1091.4a3.2,3.2 0 1,0 6.4,0a3.2,3.2 0 1,0 -6.4,0M1357.1,1095.5a3.2,3.2 0 1,0 6.4,0a3.2,3.2 0 1,0 -6.4,0M1358.3,1125.9a3.2,3.2 0 1,0 6.4,0a3.2,3.2 0 1,0 -6.4,0M1354.8,1128.2a3.2,3.2 0 1,0 6.4,0a3.2,3.2 0 1,0 -6.4,0M1355.4,1128.1a3.2,3.2 0 1,0 6.4,0a3.2,3.2 0 1,0 -6.4,0M1349.4,1124.9a3.2,3.2 0 1,0 6.4,0a3.2,3.2 0 1,0 -6.4,0M1353.8,1128.1a3.2,3.2 0 1,0 6.4,0a3.2,3.2 0 1,0 -6.4,0M1354.1,1099.5a3.2,3.2 0 1,0 6.4,0a3.2,3.2 0 1,0 -6.4,0M1349.8,1102.2a3.2,3.2 0 1,0 6.4,0a3.2,3.2 0 1,0 -6.4,0M1355.7,1087.1a3.2,3.2 0 1,0 6.4,0a3.2,3.2 0 1,0 -6.4,0M1359.5,1123.0a3.2,3.2 0 1,0 6.4,0a3.2,3.2 0 1,0 -6.4,0M1350.6,1100.3a3.2,3.2 0 1,0 6.4,0a3.2,3.2 0 1,0 -6.4,0M1360.6,1125.6a3.2,3.2 0 1,0 6.4,0a3.2,3.2 0 1,0 -6.4,0M1352.2,1109.5a3.2,3.2 0 1,0 6.4,0a3.2,3.2 0 1,0 -6.4,0M1356.5,1124.7a3.2,3.2 0 1,0 6.4,0a3.2,3.2 0 1,0 -6.4,0M1349.1,1089.9a3.2,3.2 0 1,0 6.4,0a3.2,3.2 0 1,0 -6.4,0M1351.6,1128.9a3.2,3.2 0 1,0 6.4,0a3.2,3.2 0 1,0 -6.4,0M1351.8,1116.2a3.2,3.2 0 1,0 6.4,0a3.2,3.2 0 1,0 -6.4,0M1352.4,1124.7a3.2,3.2 0 1,0 6.4,0a3.2,3.2 0 1,0 -6.4,0M1354.5,1094.1a3.2,3.2 0 1,0 6.4,0a3.2,3.2 0 1,0 -6.4,0M1359.7,1124.5a3.2,3.2 0 1,0 6.4,0a3.2,3.2 0 1,0 -6.4,0M1352.5,1099.2a3.2,3.2 0 1,0 6.4,0a3.2,3.2 0 1,0 -6.4,0M1354.2,1120.8a3.2,3.2 0 1,0 6.4,0a3.2,3.2 0 1,0 -6.4,0M1357.8,1090.1a3.2,3.2 0 1,0 6.4,0a3.2,3.2 0 1,0 -6.4,0M1355.6,1119.1a3.2,3.2 0 1,0 6.4,0a3.2,3.2 0 1,0 -6.4,0M1352.4,1116.8a3.2,3.2 0 1,0 6.4,0a3.2,3.2 0 1,0 -6.4,0M1355.9,1127.4a3.2,3.2 0 1,0 6.4,0a3.2,3.2 0 1,0 -6.4,0M1355.5,1102.5a3.2,3.2 0 1,0 6.4,0a3.2,3.2 0 1,0 -6.4,0M1354.2,1127.0a3.2,3.2 0 1,0 6.4,0a3.2,3.2 0 1,0 -6.4,0M1353.4,1108.0a3.2,3.2 0 1,0 6.4,0a3.2,3.2 0 1,0 -6.4,0M1354.4,1099.6a3.2,3.2 0 1,0 6.4,0a3.2,3.2 0 1,0 -6.4,0M1351.4,1108.9a3.2,3.2 0 1,0 6.4,0a3.2,3.2 0 1,0 -6.4,0M1354.5,1094.0a3.2,3.2 0 1,0 6.4,0a3.2,3.2 0 1,0 -6.4,0M1349.1,1126.8a3.2,3.2 0 1,0 6.4,0a3.2,3.2 0 1,0 -6.4,0M1349.5,1111.9a3.2,3.2 0 1,0 6.4,0a3.2,3.2 0 1,0 -6.4,0M1354.7,1090.6a3.2,3.2 0 1,0 6.4,0a3.2,3.2 0 1,0 -6.4,0M1352.4,1114.3a3.2,3.2 0 1,0 6.4,0a3.2,3.2 0 1,0 -6.4,0M1353.9,1066.8a3.2,3.2 0 1,0 6.4,0a3.2,3.2 0 1,0 -6.4,0M1356.5,1093.4a3.2,3.2 0 1,0 6.4,0a3.2,3.2 0 1,0 -6.4,0M1352.9,1124.5a3.2,3.2 0 1,0 6.4,0a3.2,3.2 0 1,0 -6.4,0M1350.1,1096.2a3.2,3.2 0 1,0 6.4,0a3.2,3.2 0 1,0 -6.4,0M1354.8,1106.1a3.2,3.2 0 1,0 6.4,0a3.2,3.2 0 1,0 -6.4,0M1351.3,1095.6a3.2,3.2 0 1,0 6.4,0a3.2,3.2 0 1,0 -6.4,0M1349.8,1069.4a3.2,3.2 0 1,0 6.4,0a3.2,3.2 0 1,0 -6.4,0M1350.2,1085.3a3.2,3.2 0 1,0 6.4,0a3.2,3.2 0 1,0 -6.4,0M1351.0,1110.9a3.2,3.2 0 1,0 6.4,0a3.2,3.2 0 1,0 -6.4,0M1352.9,1111.6a3.2,3.2 0 1,0 6.4,0a3.2,3.2 0 1,0 -6.4,0M1353.4,1095.1a3.2,3.2 0 1,0 6.4,0a3.2,3.2 0 1,0 -6.4,0M1350.2,1126.4a3.2,3.2 0 1,0 6.4,0a3.2,3.2 0 1,0 -6.4,0M1353.1,1102.0a3.2,3.2 0 1,0 6.4,0a3.2,3.2 0 1,0 -6.4,0M1351.5,1079.5a3.2,3.2 0 1,0 6.4,0a3.2,3.2 0 1,0 -6.4,0M1352.8,1114.9a3.2,3.2 0 1,0 6.4,0a3.2,3.2 0 1,0 -6.4,0M1359.9,1101.6a3.2,3.2 0 1,0 6.4,0a3.2,3.2 0 1,0 -6.4,0M1353.1,1124.4a3.2,3.2 0 1,0 6.4,0a3.2,3.2 0 1,0 -6.4,0M1356.1,1088.6a3.2,3.2 0 1,0 6.4,0a3.2,3.2 0 1,0 -6.4,0M1350.4,1122.4a3.2,3.2 0 1,0 6.4,0a3.2,3.2 0 1,0 -6.4,0M1354.2,1119.2a3.2,3.2 0 1,0 6.4,0a3.2,3.2 0 1,0 -6.4,0M1353.6,1094.9a3.2,3.2 0 1,0 6.4,0a3.2,3.2 0 1,0 -6.4,0M1353.4,1127.2a3.2,3.2 0 1,0 6.4,0a3.2,3.2 0 1,0 -6.4,0M1350.7,1118.9a3.2,3.2 0 1,0 6.4,0a3.2,3.2 0 1,0 -6.4,0M1361.4,1120.3a3.2,3.2 0 1,0 6.4,0a3.2,3.2 0 1,0 -6.4,0M1349.5,1127.9a3.2,3.2 0 1,0 6.4,0a3.2,3.2 0 1,0 -6.4,0M1349.6,1105.6a3.2,3.2 0 1,0 6.4,0a3.2,3.2 0 1,0 -6.4,0M1361.6,1097.1a3.2,3.2 0 1,0 6.4,0a3.2,3.2 0 1,0 -6.4,0M1354.6,1114.0a3.2,3.2 0 1,0 6.4,0a3.2,3.2 0 1,0 -6.4,0M1361.8,1099.3a3.2,3.2 0 1,0 6.4,0a3.2,3.2 0 1,0 -6.4,0M1354.4,1098.7a3.2,3.2 0 1,0 6.4,0a3.2,3.2 0 1,0 -6.4,0M1355.7,1094.1a3.2,3.2 0 1,0 6.4,0a3.2,3.2 0 1,0 -6.4,0M1354.2,1119.2a3.2,3.2 0 1,0 6.4,0a3.2,3.2 0 1,0 -6.4,0M1357.7,1083.1a3.2,3.2 0 1,0 6.4,0a3.2,3.2 0 1,0 -6.4,0M1351.7,1114.7a3.2,3.2 0 1,0 6.4,0a3.2,3.2 0 1,0 -6.4,0M1351.3,1081.9a3.2,3.2 0 1,0 6.4,0a3.2,3.2 0 1,0 -6.4,0M1351.4,1093.8a3.2,3.2 0 1,0 6.4,0a3.2,3.2 0 1,0 -6.4,0M1353.5,1093.5a3.2,3.2 0 1,0 6.4,0a3.2,3.2 0 1,0 -6.4,0M1357.2,1120.7a3.2,3.2 0 1,0 6.4,0a3.2,3.2 0 1,0 -6.4,0M1356.6,1127.7a3.2,3.2 0 1,0 6.4,0a3.2,3.2 0 1,0 -6.4,0M1354.1,1107.3a3.2,3.2 0 1,0 6.4,0a3.2,3.2 0 1,0 -6.4,0M1351.5,1092.5a3.2,3.2 0 1,0 6.4,0a3.2,3.2 0 1,0 -6.4,0M1352.7,1120.3a3.2,3.2 0 1,0 6.4,0a3.2,3.2 0 1,0 -6.4,0M1349.8,1121.7a3.2,3.2 0 1,0 6.4,0a3.2,3.2 0 1,0 -6.4,0M1349.7,1091.4a3.2,3.2 0 1,0 6.4,0a3.2,3.2 0 1,0 -6.4,0M1356.5,1073.1a3.2,3.2 0 1,0 6.4,0a3.2,3.2 0 1,0 -6.4,0M1355.2,1124.4a3.2,3.2 0 1,0 6.4,0a3.2,3.2 0 1,0 -6.4,0M1349.3,1100.4a3.2,3.2 0 1,0 6.4,0a3.2,3.2 0 1,0 -6.4,0M1354.3,1056.1a3.2,3.2 0 1,0 6.4,0a3.2,3.2 0 1,0 -6.4,0M1355.5,1100.4a3.2,3.2 0 1,0 6.4,0a3.2,3.2 0 1,0 -6.4,0M1350.0,1096.6a3.2,3.2 0 1,0 6.4,0a3.2,3.2 0 1,0 -6.4,0M1354.2,1125.1a3.2,3.2 0 1,0 6.4,0a3.2,3.2 0 1,0 -6.4,0M1352.4,1126.2a3.2,3.2 0 1,0 6.4,0a3.2,3.2 0 1,0 -6.4,0M1349.1,1123.1a3.2,3.2 0 1,0 6.4,0a3.2,3.2 0 1,0 -6.4,0M1351.8,1117.1a3.2,3.2 0 1,0 6.4,0a3.2,3.2 0 1,0 -6.4,0M1349.5,1118.9a3.2,3.2 0 1,0 6.4,0a3.2,3.2 0 1,0 -6.4,0M1351.3,1084.5a3.2,3.2 0 1,0 6.4,0a3.2,3.2 0 1,0 -6.4,0M1350.1,1126.7a3.2,3.2 0 1,0 6.4,0a3.2,3.2 0 1,0 -6.4,0M1358.8,1125.5a3.2,3.2 0 1,0 6.4,0a3.2,3.2 0 1,0 -6.4,0M1350.8,1122.2a3.2,3.2 0 1,0 6.4,0a3.2,3.2 0 1,0 -6.4,0M1358.4,1101.0a3.2,3.2 0 1,0 6.4,0a3.2,3.2 0 1,0 -6.4,0M1356.7,1094.9a3.2,3.2 0 1,0 6.4,0a3.2,3.2 0 1,0 -6.4,0M1369.9,1119.9a3.2,3.2 0 1,0 6.4,0a3.2,3.2 0 1,0 -6.4,0M1376.2,1123.9a3.2,3.2 0 1,0 6.4,0a3.2,3.2 0 1,0 -6.4,0M1377.1,1114.8a3.2,3.2 0 1,0 6.4,0a3.2,3.2 0 1,0 -6.4,0M1350.0,1128.6a3.2,3.2 0 1,0 6.4,0a3.2,3.2 0 1,0 -6.4,0M1368.2,1112.9a3.2,3.2 0 1,0 6.4,0a3.2,3.2 0 1,0 -6.4,0M1351.9,1122.8a3.2,3.2 0 1,0 6.4,0a3.2,3.2 0 1,0 -6.4,0M1370.4,1125.6a3.2,3.2 0 1,0 6.4,0a3.2,3.2 0 1,0 -6.4,0M1374.2,1119.4a3.2,3.2 0 1,0 6.4,0a3.2,3.2 0 1,0 -6.4,0M1351.4,1121.7a3.2,3.2 0 1,0 6.4,0a3.2,3.2 0 1,0 -6.4,0M1366.0,1120.3a3.2,3.2 0 1,0 6.4,0a3.2,3.2 0 1,0 -6.4,0M1368.9,1126.1a3.2,3.2 0 1,0 6.4,0a3.2,3.2 0 1,0 -6.4,0M1372.4,1121.8a3.2,3.2 0 1,0 6.4,0a3.2,3.2 0 1,0 -6.4,0M1368.0,1116.6a3.2,3.2 0 1,0 6.4,0a3.2,3.2 0 1,0 -6.4,0M1361.6,1121.3a3.2,3.2 0 1,0 6.4,0a3.2,3.2 0 1,0 -6.4,0M1372.1,1110.4a3.2,3.2 0 1,0 6.4,0a3.2,3.2 0 1,0 -6.4,0M1372.0,1117.8a3.2,3.2 0 1,0 6.4,0a3.2,3.2 0 1,0 -6.4,0M1358.0,1127.7a3.2,3.2 0 1,0 6.4,0a3.2,3.2 0 1,0 -6.4,0M1377.4,1115.1a3.2,3.2 0 1,0 6.4,0a3.2,3.2 0 1,0 -6.4,0M1373.2,1122.4a3.2,3.2 0 1,0 6.4,0a3.2,3.2 0 1,0 -6.4,0M1366.9,1109.7a3.2,3.2 0 1,0 6.4,0a3.2,3.2 0 1,0 -6.4,0M1373.3,1117.1a3.2,3.2 0 1,0 6.4,0a3.2,3.2 0 1,0 -6.4,0M1358.5,1120.5a3.2,3.2 0 1,0 6.4,0a3.2,3.2 0 1,0 -6.4,0M1375.0,1121.5a3.2,3.2 0 1,0 6.4,0a3.2,3.2 0 1,0 -6.4,0M1369.2,1117.1a3.2,3.2 0 1,0 6.4,0a3.2,3.2 0 1,0 -6.4,0M1375.2,1113.1a3.2,3.2 0 1,0 6.4,0a3.2,3.2 0 1,0 -6.4,0M1357.7,1128.9a3.2,3.2 0 1,0 6.4,0a3.2,3.2 0 1,0 -6.4,0M1357.2,1120.6a3.2,3.2 0 1,0 6.4,0a3.2,3.2 0 1,0 -6.4,0M1366.4,1112.9a3.2,3.2 0 1,0 6.4,0a3.2,3.2 0 1,0 -6.4,0M1374.9,1128.1a3.2,3.2 0 1,0 6.4,0a3.2,3.2 0 1,0 -6.4,0M1373.4,1113.0a3.2,3.2 0 1,0 6.4,0a3.2,3.2 0 1,0 -6.4,0M1374.4,1117.7a3.2,3.2 0 1,0 6.4,0a3.2,3.2 0 1,0 -6.4,0M1357.5,1112.2a3.2,3.2 0 1,0 6.4,0a3.2,3.2 0 1,0 -6.4,0M1372.7,1115.5a3.2,3.2 0 1,0 6.4,0a3.2,3.2 0 1,0 -6.4,0M1375.7,1122.1a3.2,3.2 0 1,0 6.4,0a3.2,3.2 0 1,0 -6.4,0M1352.1,1118.0a3.2,3.2 0 1,0 6.4,0a3.2,3.2 0 1,0 -6.4,0M1372.4,1125.0a3.2,3.2 0 1,0 6.4,0a3.2,3.2 0 1,0 -6.4,0M1371.0,1110.6a3.2,3.2 0 1,0 6.4,0a3.2,3.2 0 1,0 -6.4,0M1356.3,1117.0a3.2,3.2 0 1,0 6.4,0a3.2,3.2 0 1,0 -6.4,0M1369.0,1119.8a3.2,3.2 0 1,0 6.4,0a3.2,3.2 0 1,0 -6.4,0M1355.6,1123.9a3.2,3.2 0 1,0 6.4,0a3.2,3.2 0 1,0 -6.4,0M1371.1,1113.4a3.2,3.2 0 1,0 6.4,0a3.2,3.2 0 1,0 -6.4,0M1362.8,1127.2a3.2,3.2 0 1,0 6.4,0a3.2,3.2 0 1,0 -6.4,0M1372.6,1113.8a3.2,3.2 0 1,0 6.4,0a3.2,3.2 0 1,0 -6.4,0M1356.3,1117.5a3.2,3.2 0 1,0 6.4,0a3.2,3.2 0 1,0 -6.4,0M1375.2,1111.6a3.2,3.2 0 1,0 6.4,0a3.2,3.2 0 1,0 -6.4,0M1364.5,1119.6a3.2,3.2 0 1,0 6.4,0a3.2,3.2 0 1,0 -6.4,0M1366.5,1125.2a3.2,3.2 0 1,0 6.4,0a3.2,3.2 0 1,0 -6.4,0M1355.2,1125.4a3.2,3.2 0 1,0 6.4,0a3.2,3.2 0 1,0 -6.4,0M1369.6,1121.8a3.2,3.2 0 1,0 6.4,0a3.2,3.2 0 1,0 -6.4,0M1365.7,1121.0a3.2,3.2 0 1,0 6.4,0a3.2,3.2 0 1,0 -6.4,0M1364.4,1126.0a3.2,3.2 0 1,0 6.4,0a3.2,3.2 0 1,0 -6.4,0M1350.9,1109.4a3.2,3.2 0 1,0 6.4,0a3.2,3.2 0 1,0 -6.4,0M1360.3,1126.8a3.2,3.2 0 1,0 6.4,0a3.2,3.2 0 1,0 -6.4,0M1367.7,1113.5a3.2,3.2 0 1,0 6.4,0a3.2,3.2 0 1,0 -6.4,0M1354.1,1117.2a3.2,3.2 0 1,0 6.4,0a3.2,3.2 0 1,0 -6.4,0M1359.5,1118.7a3.2,3.2 0 1,0 6.4,0a3.2,3.2 0 1,0 -6.4,0M1350.3,1128.2a3.2,3.2 0 1,0 6.4,0a3.2,3.2 0 1,0 -6.4,0M1377.9,1111.9a3.2,3.2 0 1,0 6.4,0a3.2,3.2 0 1,0 -6.4,0M1363.5,1117.8a3.2,3.2 0 1,0 6.4,0a3.2,3.2 0 1,0 -6.4,0M1357.1,1113.6a3.2,3.2 0 1,0 6.4,0a3.2,3.2 0 1,0 -6.4,0M1380.7,913.0a3.2,3.2 0 1,0 6.4,0a3.2,3.2 0 1,0 -6.4,0M1360.7,932.4a3.2,3.2 0 1,0 6.4,0a3.2,3.2 0 1,0 -6.4,0M1371.2,935.3a3.2,3.2 0 1,0 6.4,0a3.2,3.2 0 1,0 -6.4,0M1376.9,942.5a3.2,3.2 0 1,0 6.4,0a3.2,3.2 0 1,0 -6.4,0M1352.1,962.0a3.2,3.2 0 1,0 6.4,0a3.2,3.2 0 1,0 -6.4,0M1354.0,967.7a3.2,3.2 0 1,0 6.4,0a3.2,3.2 0 1,0 -6.4,0M1372.7,999.7a3.2,3.2 0 1,0 6.4,0a3.2,3.2 0 1,0 -6.4,0M1366.4,1015.3a3.2,3.2 0 1,0 6.4,0a3.2,3.2 0 1,0 -6.4,0M1364.5,1016.3a3.2,3.2 0 1,0 6.4,0a3.2,3.2 0 1,0 -6.4,0M1355.9,1024.8a3.2,3.2 0 1,0 6.4,0a3.2,3.2 0 1,0 -6.4,0M1351.2,1028.7a3.2,3.2 0 1,0 6.4,0a3.2,3.2 0 1,0 -6.4,0M1357.8,1030.6a3.2,3.2 0 1,0 6.4,0a3.2,3.2 0 1,0 -6.4,0M1360.7,1056.3a3.2,3.2 0 1,0 6.4,0a3.2,3.2 0 1,0 -6.4,0M1367.4,1068.7a3.2,3.2 0 1,0 6.4,0a3.2,3.2 0 1,0 -6.4,0M1373.6,1080.1a3.2,3.2 0 1,0 6.4,0a3.2,3.2 0 1,0 -6.4,0M1403.6,1114.4a3.2,3.2 0 1,0 6.4,0a3.2,3.2 0 1,0 -6.4,0M1404.1,1122.0a3.2,3.2 0 1,0 6.4,0a3.2,3.2 0 1,0 -6.4,0M1388.3,1123.9a3.2,3.2 0 1,0 6.4,0a3.2,3.2 0 1,0 -6.4,0M1379.7,1127.7a3.2,3.2 0 1,0 6.4,0a3.2,3.2 0 1,0 -6.4,0M1375.9,1126.8a3.2,3.2 0 1,0 6.4,0a3.2,3.2 0 1,0 -6.4,0M1378.8,1116.3a3.2,3.2 0 1,0 6.4,0a3.2,3.2 0 1,0 -6.4,0M1351.2,1050.6a3.2,3.2 0 1,0 6.4,0a3.2,3.2 0 1,0 -6.4,0M1358.8,1086.8a3.2,3.2 0 1,0 6.4,0a3.2,3.2 0 1,0 -6.4,0M1364.5,1096.3a3.2,3.2 0 1,0 6.4,0a3.2,3.2 0 1,0 -6.4,0M1362.6,1105.8a3.2,3.2 0 1,0 6.4,0a3.2,3.2 0 1,0 -6.4,0" fill="#f24a3a" />
</g>
<line x1="1311.9" y1="902.3" x2="1311.9" y2="1148.7" stroke="#bbb" stroke-width="1.3" stroke-dasharray="6 5"/>
<line x1="1351.1" y1="902.3" x2="1351.1" y2="1148.7" stroke="#bbb" stroke-width="1.3" stroke-dasharray="6 5"/>
<line x1="1220.6" y1="1130.2" x2="1442.0" y2="1130.2" stroke="#bbb" stroke-width="1.3" stroke-dasharray="6 5"/>
<rect x="1220.6" y="902.3" width="221.4" height="246.4" fill="none" stroke="#231815" stroke-width="2" />
<line x1="1217.6" y1="1137.3" x2="1220.6" y2="1137.3" stroke="#231815" stroke-width="1.5" />
<text x="1216.2" y="1142.8" font-size="15" text-anchor="end">0</text>
<line x1="1217.6" y1="1081.3" x2="1220.6" y2="1081.3" stroke="#231815" stroke-width="1.5" />
<text x="1216.2" y="1086.8" font-size="15" text-anchor="end">10</text>
<line x1="1217.6" y1="1025.3" x2="1220.6" y2="1025.3" stroke="#231815" stroke-width="1.5" />
<text x="1216.2" y="1030.8" font-size="15" text-anchor="end">20</text>
<line x1="1217.6" y1="969.3" x2="1220.6" y2="969.3" stroke="#231815" stroke-width="1.5" />
<text x="1216.2" y="974.8" font-size="15" text-anchor="end">30</text>
<line x1="1217.6" y1="913.3" x2="1220.6" y2="913.3" stroke="#231815" stroke-width="1.5" />
<text x="1216.2" y="918.8" font-size="15" text-anchor="end">40</text>
<line x1="1264.1" y1="1148.7" x2="1264.1" y2="1151.7" stroke="#231815" stroke-width="1.5" />
<text x="1264.1" y="1168.7" font-size="15" text-anchor="middle">-2</text>
<line x1="1331.1" y1="1148.7" x2="1331.1" y2="1151.7" stroke="#231815" stroke-width="1.5" />
<text x="1331.1" y="1168.7" font-size="15" text-anchor="middle">0</text>
<line x1="1398.1" y1="1148.7" x2="1398.1" y2="1151.7" stroke="#231815" stroke-width="1.5" />
<text x="1398.1" y="1168.7" font-size="15" text-anchor="middle">2</text>
<text x="1337.2" y="896.2" font-size="19.2" text-anchor="middle">TE RNAs</text>
<text x="1224.8" y="932.4" font-size="14.3" fill="#f03c0c">Upregulated (360)</text>
<text x="1224.8" y="951.5" font-size="14.3">Downregulated (0)</text>
<text x="1189.9" y="1027.7" font-size="17" text-anchor="middle" transform="rotate(-90 1189.9 1027.7)">-Log<tspan font-size="10" dy="-6">10</tspan><tspan dy="6"> padj</tspan></text>
<text x="1343.0" y="1188.0" font-size="17" text-anchor="middle">Log<tspan font-size="11.1" dy="4.2">2</tspan><tspan dy="-4.2"> FC (shL1td1 vs shCtrl)</tspan></text>
<text x="1382.0" y="960.0" font-size="11.6" font-style="italic" xml:space="preserve">MERVL-int</text>
<line x1="1382.0" y1="957.0" x2="1360.0" y2="965.0" stroke="#231815" stroke-width="1.6" />
<text x="1382.0" y="1021.6" font-size="11.6" font-style="italic" xml:space="preserve">MT2  Mm</text>
<line x1="1382.0" y1="1019.0" x2="1359.0" y2="1027.0" stroke="#231815" stroke-width="1.6" />
<text x="1326.7" y="1038.2" font-size="11.6" text-anchor="end" font-style="italic" xml:space="preserve">ORR1A0</text>
<line x1="1328.0" y1="1036.0" x2="1354.0" y2="1049.0" stroke="#231815" stroke-width="1.6" />
<text x="1373.4" y="1067.3" font-size="11.6" font-style="italic" xml:space="preserve">ORR1A0-int</text>
<line x1="1371.0" y1="1064.0" x2="1356.0" y2="1062.0" stroke="#231815" stroke-width="1.6" />
<text x="1384.5" y="1086.4" font-size="11.6" font-style="italic" xml:space="preserve">L1  Mur1</text>
<line x1="1384.0" y1="1089.0" x2="1363.0" y2="1113.0" stroke="#231815" stroke-width="1.6" />
<text x="1390.6" y="1102.0" font-size="11.6" font-style="italic" xml:space="preserve">L1  Mur2</text>
<line x1="1391.0" y1="1106.0" x2="1361.0" y2="1119.0" stroke="#231815" stroke-width="1.6" />
<text x="1288.6" y="1105.8" font-size="11.6" font-style="italic" xml:space="preserve">L1  Mm</text>
<line x1="1330.0" y1="1106.0" x2="1358.0" y2="1114.0" stroke="#231815" stroke-width="1.6" />
<text x="0" y="0" font-size="29.3" font-weight="bold" transform="translate(1469.9 852.8) scale(1.08 1)">m</text>
<circle cx="1615.7" cy="971.2" r="40.7" fill="#f3ead4"/>
<circle cx="1685.2" cy="971.2" r="57.3" fill="#b8e4d6" fill-opacity="0.75"/>
<text x="1583.2" y="976.2" font-size="17.6">2057</text>
<text x="1624.4" y="976.2" font-size="17.6" fill="#a01a10">417</text>
<text x="1680.4" y="976.2" font-size="17.6">3445</text>
<text x="1500.3" y="894.4" font-size="18.5">shL1td1/shCtrl</text>
<text x="1510.5" y="917.2" font-size="18.5">upregulated</text>
<text x="1635.3" y="894.4" font-size="18.5">L1td1 bound RNAs</text>
<line x1="1636.4" y1="1014.2" x2="1636.4" y2="1036.0" stroke="#231815" stroke-width="2.2" />
<path d="M1629,1029 L1636.4,1039.5 L1643.8,1029" fill="none" stroke="#231815" stroke-width="2.2" />
<path d="M1636.40,1111.80 L1636.40,1041.30 A70.5,70.5 0 1 1 1584.76,1159.79 Z" fill="#ec9c00" stroke="#fff" stroke-width="2" />
<path d="M1636.40,1111.80 L1584.76,1159.79 A70.5,70.5 0 0 1 1636.40,1041.30 Z" fill="#b83c08" stroke="#fff" stroke-width="2" />
<text x="1600.5" text-anchor="middle" y="1090.1" font-size="19">TE</text>
<g/>
<text x="1600.5" y="1112.9" font-size="19" text-anchor="middle">36.93%</text>
<text x="1670.0" y="1111.8" font-size="19" text-anchor="middle">Gene</text>
<text x="1670.0" y="1133.5" font-size="19" text-anchor="middle">63.07%</text>
<rect x="1480.1" y="1138.9" width="92.7" height="48.9" fill="#e6e6e6" />
<rect x="1700.4" y="1138.9" width="77.4" height="48.9" fill="#e6e6e6" />
<text x="1482.3" y="1158.5" font-size="18.5" font-style="italic" fill="#f03c0c">MERVL-int</text>
<text x="1482.3" y="1180.2" font-size="18.5" font-style="italic" fill="#f03c0c">MT2_Mm</text>
<text x="1702.5" y="1158.5" font-size="18.5" font-style="italic" fill="#f03c0c">Zscan4c</text>
<text x="1702.5" y="1180.2" font-size="18.5" font-style="italic" fill="#f03c0c">Zscan4f</text>
<text x="0" y="0" font-size="29.1" font-weight="bold" transform="translate(1.1 1288.7) scale(1.04 1)">n</text>
<path d="M119.5,1331.5 L189.7,1423.7 L259.9,1453.0 L330.1,1480.2 L400.3,1486.5" fill="none" stroke="#ec9a44" stroke-width="4.2" stroke-linejoin="round"/>
<path d="M119.5,1331.5 L189.7,1459.3 L259.9,1497.0 L330.1,1511.7 L400.3,1520.0" fill="none" stroke="#2f4f9e" stroke-width="4.2" stroke-linejoin="round"/>
<path d="M119.5,1331.5 L189.7,1406.9 L259.9,1442.5 L330.1,1465.6 L400.3,1476.1" fill="none" stroke="#f03c0c" stroke-width="4.2" stroke-linejoin="round"/>
<path d="M119.5,1324.2 L126.8,1336.5 L112.2,1336.5 Z" fill="#ec9a44" />
<line x1="189.7" y1="1433.1" x2="189.7" y2="1414.3" stroke="#ec9a44" stroke-width="3" />
<line x1="183.7" y1="1433.1" x2="195.7" y2="1433.1" stroke="#ec9a44" stroke-width="3" />
<line x1="183.7" y1="1414.3" x2="195.7" y2="1414.3" stroke="#ec9a44" stroke-width="3" />
<path d="M189.7,1416.4 L197.0,1428.7 L182.4,1428.7 Z" fill="#ec9a44" />
<line x1="259.9" y1="1462.4" x2="259.9" y2="1443.6" stroke="#ec9a44" stroke-width="3" />
<line x1="253.9" y1="1462.4" x2="265.9" y2="1462.4" stroke="#ec9a44" stroke-width="3" />
<line x1="253.9" y1="1443.6" x2="265.9" y2="1443.6" stroke="#ec9a44" stroke-width="3" />
<path d="M259.9,1445.7 L267.2,1458.0 L252.6,1458.0 Z" fill="#ec9a44" />
<line x1="330.1" y1="1484.4" x2="330.1" y2="1476.1" stroke="#ec9a44" stroke-width="3" />
<line x1="324.1" y1="1484.4" x2="336.1" y2="1484.4" stroke="#ec9a44" stroke-width="3" />
<line x1="324.1" y1="1476.1" x2="336.1" y2="1476.1" stroke="#ec9a44" stroke-width="3" />
<path d="M330.1,1472.9 L337.4,1485.3 L322.8,1485.3 Z" fill="#ec9a44" />
<line x1="400.3" y1="1492.8" x2="400.3" y2="1480.2" stroke="#ec9a44" stroke-width="3" />
<line x1="394.3" y1="1492.8" x2="406.3" y2="1492.8" stroke="#ec9a44" stroke-width="3" />
<line x1="394.3" y1="1480.2" x2="406.3" y2="1480.2" stroke="#ec9a44" stroke-width="3" />
<path d="M400.3,1479.2 L407.6,1491.6 L393.0,1491.6 Z" fill="#ec9a44" />
<circle cx="119.5" cy="1331.5" r="6.3" fill="#2f4f9e" />
<line x1="189.7" y1="1467.7" x2="189.7" y2="1450.9" stroke="#2f4f9e" stroke-width="3" />
<line x1="183.7" y1="1467.7" x2="195.7" y2="1467.7" stroke="#2f4f9e" stroke-width="3" />
<line x1="183.7" y1="1450.9" x2="195.7" y2="1450.9" stroke="#2f4f9e" stroke-width="3" />
<circle cx="189.7" cy="1459.3" r="6.3" fill="#2f4f9e" />
<line x1="259.9" y1="1504.3" x2="259.9" y2="1489.7" stroke="#2f4f9e" stroke-width="3" />
<line x1="253.9" y1="1504.3" x2="265.9" y2="1504.3" stroke="#2f4f9e" stroke-width="3" />
<line x1="253.9" y1="1489.7" x2="265.9" y2="1489.7" stroke="#2f4f9e" stroke-width="3" />
<circle cx="259.9" cy="1497.0" r="6.3" fill="#2f4f9e" />
<line x1="330.1" y1="1519.0" x2="330.1" y2="1504.3" stroke="#2f4f9e" stroke-width="3" />
<line x1="324.1" y1="1519.0" x2="336.1" y2="1519.0" stroke="#2f4f9e" stroke-width="3" />
<line x1="324.1" y1="1504.3" x2="336.1" y2="1504.3" stroke="#2f4f9e" stroke-width="3" />
<circle cx="330.1" cy="1511.7" r="6.3" fill="#2f4f9e" />
<line x1="400.3" y1="1524.2" x2="400.3" y2="1515.9" stroke="#2f4f9e" stroke-width="3" />
<line x1="394.3" y1="1524.2" x2="406.3" y2="1524.2" stroke="#2f4f9e" stroke-width="3" />
<line x1="394.3" y1="1515.9" x2="406.3" y2="1515.9" stroke="#2f4f9e" stroke-width="3" />
<circle cx="400.3" cy="1520.0" r="6.3" fill="#2f4f9e" />
<rect x="113.2" y="1325.2" width="12.6" height="12.6" fill="#f03c0c" />
<line x1="189.7" y1="1419.5" x2="189.7" y2="1394.3" stroke="#f03c0c" stroke-width="3" />
<line x1="183.7" y1="1419.5" x2="195.7" y2="1419.5" stroke="#f03c0c" stroke-width="3" />
<line x1="183.7" y1="1394.3" x2="195.7" y2="1394.3" stroke="#f03c0c" stroke-width="3" />
<rect x="183.4" y="1400.6" width="12.6" height="12.6" fill="#f03c0c" />
<line x1="259.9" y1="1450.9" x2="259.9" y2="1434.2" stroke="#f03c0c" stroke-width="3" />
<line x1="253.9" y1="1450.9" x2="265.9" y2="1450.9" stroke="#f03c0c" stroke-width="3" />
<line x1="253.9" y1="1434.2" x2="265.9" y2="1434.2" stroke="#f03c0c" stroke-width="3" />
<rect x="253.6" y="1436.2" width="12.6" height="12.6" fill="#f03c0c" />
<line x1="330.1" y1="1475.0" x2="330.1" y2="1456.2" stroke="#f03c0c" stroke-width="3" />
<line x1="324.1" y1="1475.0" x2="336.1" y2="1475.0" stroke="#f03c0c" stroke-width="3" />
<line x1="324.1" y1="1456.2" x2="336.1" y2="1456.2" stroke="#f03c0c" stroke-width="3" />
<rect x="323.8" y="1459.3" width="12.6" height="12.6" fill="#f03c0c" />
<line x1="400.3" y1="1487.6" x2="400.3" y2="1464.5" stroke="#f03c0c" stroke-width="3" />
<line x1="394.3" y1="1487.6" x2="406.3" y2="1487.6" stroke="#f03c0c" stroke-width="3" />
<line x1="394.3" y1="1464.5" x2="406.3" y2="1464.5" stroke="#f03c0c" stroke-width="3" />
<rect x="394.0" y="1469.8" width="12.6" height="12.6" fill="#f03c0c" />
<line x1="119.5" y1="1319.0" x2="119.5" y2="1542.5" stroke="#231815" stroke-width="3" />
<line x1="118.0" y1="1541.0" x2="408.6" y2="1541.0" stroke="#231815" stroke-width="3" />
<line x1="112.5" y1="1331.5" x2="119.5" y2="1331.5" stroke="#231815" stroke-width="2.5" />
<text x="111.5" y="1338.0" font-size="19.7" text-anchor="end">1</text>
<line x1="112.5" y1="1436.2" x2="119.5" y2="1436.2" stroke="#231815" stroke-width="2.5" />
<text x="111.5" y="1442.8" font-size="19.7" text-anchor="end">0.5</text>
<line x1="112.5" y1="1541.0" x2="119.5" y2="1541.0" stroke="#231815" stroke-width="2.5" />
<text x="111.5" y="1547.5" font-size="19.7" text-anchor="end">0</text>
<line x1="119.5" y1="1541.0" x2="119.5" y2="1549.0" stroke="#231815" stroke-width="2.5" />
<text x="119.5" y="1567.5" font-size="19.7" text-anchor="middle">0</text>
<line x1="189.7" y1="1541.0" x2="189.7" y2="1549.0" stroke="#231815" stroke-width="2.5" />
<text x="189.7" y="1567.5" font-size="19.7" text-anchor="middle">2</text>
<line x1="259.9" y1="1541.0" x2="259.9" y2="1549.0" stroke="#231815" stroke-width="2.5" />
<text x="259.9" y="1567.5" font-size="19.7" text-anchor="middle">4</text>
<line x1="330.1" y1="1541.0" x2="330.1" y2="1549.0" stroke="#231815" stroke-width="2.5" />
<text x="330.1" y="1567.5" font-size="19.7" text-anchor="middle">6</text>
<line x1="400.3" y1="1541.0" x2="400.3" y2="1549.0" stroke="#231815" stroke-width="2.5" />
<text x="400.3" y="1567.5" font-size="19.7" text-anchor="middle">8</text>
<text x="258.0" y="1585.5" font-size="19.7" text-anchor="middle">Times after actinomycin D (h)</text>
<text x="80.8" y="1431.7" font-size="19.7" text-anchor="middle" transform="rotate(-90 80.8 1431.7)">Relative RNA levels</text>
<text x="265.5" y="1303.4" font-size="19.7" text-anchor="middle" font-style="italic">Zscan4</text>
<line x1="347.5" y1="1324.7" x2="374.7" y2="1324.7" stroke="#2f4f9e" stroke-width="3.5" />
<circle cx="361.0" cy="1324.7" r="6.3" fill="#2f4f9e" />
<text x="378.2" y="1330.7" font-size="19.7">shCtrl</text>
<line x1="347.5" y1="1348.3" x2="374.7" y2="1348.3" stroke="#f03c0c" stroke-width="3.5" />
<rect x="354.7" y="1342.0" width="12.6" height="12.6" fill="#f03c0c" />
<text x="378.2" y="1354.3" font-size="19.7">shL1td1-1</text>
<line x1="347.5" y1="1371.9" x2="374.7" y2="1371.9" stroke="#ec9a44" stroke-width="3.5" />
<path d="M361.0,1364.6 L368.3,1376.9 L353.7,1376.9 Z" fill="#ec9a44" />
<text x="378.2" y="1377.9" font-size="19.7">shL1td1-2</text>
<text x="189.7" y="1376.0" font-size="17" text-anchor="middle" fill="#ec9a44">**</text>
<text x="189.7" y="1386.0" font-size="17" text-anchor="middle" fill="#f03c0c">**</text>
<text x="259.9" y="1416.0" font-size="17" text-anchor="middle" fill="#ec9a44">**</text>
<text x="259.9" y="1426.0" font-size="17" text-anchor="middle" fill="#f03c0c">**</text>
<text x="330.1" y="1440.0" font-size="17" text-anchor="middle" fill="#ec9a44">***</text>
<text x="330.1" y="1450.0" font-size="17" text-anchor="middle" fill="#f03c0c">**</text>
<text x="400.3" y="1449.0" font-size="17" text-anchor="middle" fill="#ec9a44">***</text>
<text x="400.3" y="1459.0" font-size="17" text-anchor="middle" fill="#f03c0c">**</text>
<text x="0" y="0" font-size="29.4" font-weight="bold" transform="translate(504.6 1288.7) scale(1.09 1)">o</text>
<path d="M588.7,1331.5 L658.9,1379.7 L729.1,1402.7 L799.3,1421.6 L869.5,1436.2" fill="none" stroke="#ec9a44" stroke-width="4.2" stroke-linejoin="round"/>
<path d="M588.7,1331.5 L658.9,1413.2 L729.1,1440.4 L799.3,1455.1 L869.5,1465.6" fill="none" stroke="#2f4f9e" stroke-width="4.2" stroke-linejoin="round"/>
<path d="M588.7,1331.5 L658.9,1375.5 L729.1,1404.8 L799.3,1417.4 L869.5,1425.8" fill="none" stroke="#f03c0c" stroke-width="4.2" stroke-linejoin="round"/>
<path d="M588.7,1324.2 L596.0,1336.5 L581.4,1336.5 Z" fill="#ec9a44" />
<line x1="658.9" y1="1394.3" x2="658.9" y2="1365.0" stroke="#ec9a44" stroke-width="3" />
<line x1="652.9" y1="1394.3" x2="664.9" y2="1394.3" stroke="#ec9a44" stroke-width="3" />
<line x1="652.9" y1="1365.0" x2="664.9" y2="1365.0" stroke="#ec9a44" stroke-width="3" />
<path d="M658.9,1372.4 L666.2,1384.7 L651.6,1384.7 Z" fill="#ec9a44" />
<line x1="729.1" y1="1417.4" x2="729.1" y2="1388.1" stroke="#ec9a44" stroke-width="3" />
<line x1="723.1" y1="1417.4" x2="735.1" y2="1417.4" stroke="#ec9a44" stroke-width="3" />
<line x1="723.1" y1="1388.1" x2="735.1" y2="1388.1" stroke="#ec9a44" stroke-width="3" />
<path d="M729.1,1395.4 L736.4,1407.8 L721.8,1407.8 Z" fill="#ec9a44" />
<line x1="799.3" y1="1434.2" x2="799.3" y2="1409.0" stroke="#ec9a44" stroke-width="3" />
<line x1="793.3" y1="1434.2" x2="805.3" y2="1434.2" stroke="#ec9a44" stroke-width="3" />
<line x1="793.3" y1="1409.0" x2="805.3" y2="1409.0" stroke="#ec9a44" stroke-width="3" />
<path d="M799.3,1414.3 L806.6,1426.6 L792.0,1426.6 Z" fill="#ec9a44" />
<line x1="869.5" y1="1446.7" x2="869.5" y2="1425.8" stroke="#ec9a44" stroke-width="3" />
<line x1="863.5" y1="1446.7" x2="875.5" y2="1446.7" stroke="#ec9a44" stroke-width="3" />
<line x1="863.5" y1="1425.8" x2="875.5" y2="1425.8" stroke="#ec9a44" stroke-width="3" />
<path d="M869.5,1429.0 L876.8,1441.3 L862.2,1441.3 Z" fill="#ec9a44" />
<circle cx="588.7" cy="1331.5" r="6.3" fill="#2f4f9e" />
<line x1="658.9" y1="1425.8" x2="658.9" y2="1400.6" stroke="#2f4f9e" stroke-width="3" />
<line x1="652.9" y1="1425.8" x2="664.9" y2="1425.8" stroke="#2f4f9e" stroke-width="3" />
<line x1="652.9" y1="1400.6" x2="664.9" y2="1400.6" stroke="#2f4f9e" stroke-width="3" />
<circle cx="658.9" cy="1413.2" r="6.3" fill="#2f4f9e" />
<line x1="729.1" y1="1453.0" x2="729.1" y2="1427.9" stroke="#2f4f9e" stroke-width="3" />
<line x1="723.1" y1="1453.0" x2="735.1" y2="1453.0" stroke="#2f4f9e" stroke-width="3" />
<line x1="723.1" y1="1427.9" x2="735.1" y2="1427.9" stroke="#2f4f9e" stroke-width="3" />
<circle cx="729.1" cy="1440.4" r="6.3" fill="#2f4f9e" />
<line x1="799.3" y1="1463.5" x2="799.3" y2="1446.7" stroke="#2f4f9e" stroke-width="3" />
<line x1="793.3" y1="1463.5" x2="805.3" y2="1463.5" stroke="#2f4f9e" stroke-width="3" />
<line x1="793.3" y1="1446.7" x2="805.3" y2="1446.7" stroke="#2f4f9e" stroke-width="3" />
<circle cx="799.3" cy="1455.1" r="6.3" fill="#2f4f9e" />
<line x1="869.5" y1="1478.2" x2="869.5" y2="1453.0" stroke="#2f4f9e" stroke-width="3" />
<line x1="863.5" y1="1478.2" x2="875.5" y2="1478.2" stroke="#2f4f9e" stroke-width="3" />
<line x1="863.5" y1="1453.0" x2="875.5" y2="1453.0" stroke="#2f4f9e" stroke-width="3" />
<circle cx="869.5" cy="1465.6" r="6.3" fill="#2f4f9e" />
<rect x="582.4" y="1325.2" width="12.6" height="12.6" fill="#f03c0c" />
<line x1="658.9" y1="1384.9" x2="658.9" y2="1366.1" stroke="#f03c0c" stroke-width="3" />
<line x1="652.9" y1="1384.9" x2="664.9" y2="1384.9" stroke="#f03c0c" stroke-width="3" />
<line x1="652.9" y1="1366.1" x2="664.9" y2="1366.1" stroke="#f03c0c" stroke-width="3" />
<rect x="652.6" y="1369.2" width="12.6" height="12.6" fill="#f03c0c" />
<line x1="729.1" y1="1417.4" x2="729.1" y2="1392.3" stroke="#f03c0c" stroke-width="3" />
<line x1="723.1" y1="1417.4" x2="735.1" y2="1417.4" stroke="#f03c0c" stroke-width="3" />
<line x1="723.1" y1="1392.3" x2="735.1" y2="1392.3" stroke="#f03c0c" stroke-width="3" />
<rect x="722.8" y="1398.5" width="12.6" height="12.6" fill="#f03c0c" />
<line x1="799.3" y1="1426.8" x2="799.3" y2="1408.0" stroke="#f03c0c" stroke-width="3" />
<line x1="793.3" y1="1426.8" x2="805.3" y2="1426.8" stroke="#f03c0c" stroke-width="3" />
<line x1="793.3" y1="1408.0" x2="805.3" y2="1408.0" stroke="#f03c0c" stroke-width="3" />
<rect x="793.0" y="1411.1" width="12.6" height="12.6" fill="#f03c0c" />
<line x1="869.5" y1="1435.2" x2="869.5" y2="1416.3" stroke="#f03c0c" stroke-width="3" />
<line x1="863.5" y1="1435.2" x2="875.5" y2="1435.2" stroke="#f03c0c" stroke-width="3" />
<line x1="863.5" y1="1416.3" x2="875.5" y2="1416.3" stroke="#f03c0c" stroke-width="3" />
<rect x="863.2" y="1419.5" width="12.6" height="12.6" fill="#f03c0c" />
<line x1="588.7" y1="1319.0" x2="588.7" y2="1542.5" stroke="#231815" stroke-width="3" />
<line x1="587.2" y1="1541.0" x2="877.8" y2="1541.0" stroke="#231815" stroke-width="3" />
<line x1="581.7" y1="1331.5" x2="588.7" y2="1331.5" stroke="#231815" stroke-width="2.5" />
<text x="580.7" y="1338.0" font-size="19.7" text-anchor="end">1</text>
<line x1="581.7" y1="1436.2" x2="588.7" y2="1436.2" stroke="#231815" stroke-width="2.5" />
<text x="580.7" y="1442.8" font-size="19.7" text-anchor="end">0.5</text>
<line x1="581.7" y1="1541.0" x2="588.7" y2="1541.0" stroke="#231815" stroke-width="2.5" />
<text x="580.7" y="1547.5" font-size="19.7" text-anchor="end">0</text>
<line x1="588.7" y1="1541.0" x2="588.7" y2="1549.0" stroke="#231815" stroke-width="2.5" />
<text x="588.7" y="1567.5" font-size="19.7" text-anchor="middle">0</text>
<line x1="658.9" y1="1541.0" x2="658.9" y2="1549.0" stroke="#231815" stroke-width="2.5" />
<text x="658.9" y="1567.5" font-size="19.7" text-anchor="middle">2</text>
<line x1="729.1" y1="1541.0" x2="729.1" y2="1549.0" stroke="#231815" stroke-width="2.5" />
<text x="729.1" y="1567.5" font-size="19.7" text-anchor="middle">4</text>
<line x1="799.3" y1="1541.0" x2="799.3" y2="1549.0" stroke="#231815" stroke-width="2.5" />
<text x="799.3" y="1567.5" font-size="19.7" text-anchor="middle">6</text>
<line x1="869.5" y1="1541.0" x2="869.5" y2="1549.0" stroke="#231815" stroke-width="2.5" />
<text x="869.5" y="1567.5" font-size="19.7" text-anchor="middle">8</text>
<text x="727.2" y="1585.5" font-size="19.7" text-anchor="middle">Times after actinomycin D (h)</text>
<text x="550.0" y="1431.7" font-size="19.7" text-anchor="middle" transform="rotate(-90 550.0 1431.7)">Relative RNA levels</text>
<text x="734.7" y="1303.4" font-size="19.7" text-anchor="middle" font-style="italic">MERVL</text>
<line x1="816.7" y1="1324.7" x2="843.9" y2="1324.7" stroke="#2f4f9e" stroke-width="3.5" />
<circle cx="830.2" cy="1324.7" r="6.3" fill="#2f4f9e" />
<text x="847.4" y="1330.7" font-size="19.7">shCtrl</text>
<line x1="816.7" y1="1348.3" x2="843.9" y2="1348.3" stroke="#f03c0c" stroke-width="3.5" />
<rect x="823.9" y="1342.0" width="12.6" height="12.6" fill="#f03c0c" />
<text x="847.4" y="1354.3" font-size="19.7">shL1td1-1</text>
<line x1="816.7" y1="1371.9" x2="843.9" y2="1371.9" stroke="#ec9a44" stroke-width="3.5" />
<path d="M830.2,1364.6 L837.5,1376.9 L822.9,1376.9 Z" fill="#ec9a44" />
<text x="847.4" y="1377.9" font-size="19.7">shL1td1-2</text>
<text x="658.9" y="1352.0" font-size="17" text-anchor="middle" fill="#ec9a44">*</text>
<text x="658.9" y="1362.0" font-size="17" text-anchor="middle" fill="#f03c0c">**</text>
<text x="729.1" y="1373.0" font-size="17" text-anchor="middle" fill="#ec9a44">**</text>
<text x="729.1" y="1383.0" font-size="17" text-anchor="middle" fill="#f03c0c">**</text>
<text x="799.3" y="1392.0" font-size="17" text-anchor="middle" fill="#ec9a44">*</text>
<text x="799.3" y="1402.0" font-size="17" text-anchor="middle" fill="#f03c0c">**</text>
<text x="869.5" y="1401.0" font-size="17" text-anchor="middle" fill="#ec9a44">*</text>
<text x="869.5" y="1411.0" font-size="17" text-anchor="middle" fill="#f03c0c">**</text>
<text x="0" y="0" font-size="29.1" font-weight="bold" transform="translate(985.0 1288.7) scale(1.01 1)">p</text>
<line x1="1372.2" y1="1339.6" x2="1372.2" y2="1531.6" stroke="#c8c8c8" stroke-width="1.3" stroke-dasharray="6 4"/>
<text x="1372.2" y="1553.0" font-size="18.5" text-anchor="middle">1.6</text>
<line x1="1431.7" y1="1339.6" x2="1431.7" y2="1531.6" stroke="#c8c8c8" stroke-width="1.3" stroke-dasharray="6 4"/>
<text x="1431.7" y="1553.0" font-size="18.5" text-anchor="middle">1.7</text>
<line x1="1491.2" y1="1339.6" x2="1491.2" y2="1531.6" stroke="#c8c8c8" stroke-width="1.3" stroke-dasharray="6 4"/>
<text x="1491.2" y="1553.0" font-size="18.5" text-anchor="middle">1.8</text>
<line x1="1550.7" y1="1339.6" x2="1550.7" y2="1531.6" stroke="#c8c8c8" stroke-width="1.3" stroke-dasharray="6 4"/>
<text x="1550.7" y="1553.0" font-size="18.5" text-anchor="middle">1.9</text>
<line x1="1610.2" y1="1339.6" x2="1610.2" y2="1531.6" stroke="#c8c8c8" stroke-width="1.3" stroke-dasharray="6 4"/>
<text x="1610.2" y="1553.0" font-size="18.5" text-anchor="middle">2.0</text>
<text x="1496.6" y="1571.6" font-size="19" text-anchor="middle">Signal</text>
<rect x="1314.8" y="1360.7" width="329.6" height="9.0" fill="#d4efb3" />
<circle cx="1644.4" cy="1365.2" r="13.0" fill="#8fa88a" fill-opacity="0.55"/>
<circle cx="1644.4" cy="1365.2" r="4.5" fill="#d4efb3" />
<text x="1313.3" y="1370.7" font-size="19.5" text-anchor="end">Nucleic acid metabolic process</text>
<rect x="1314.8" y="1388.9" width="184.4" height="9.0" fill="#2179b4" />
<circle cx="1499.2" cy="1393.4" r="8.0" fill="#8fa88a" fill-opacity="0.55"/>
<circle cx="1499.2" cy="1393.4" r="2.8" fill="#2179b4" />
<text x="1313.3" y="1398.9" font-size="19.5" text-anchor="end">mRNA metabolic process</text>
<rect x="1314.8" y="1416.0" width="172.5" height="9.0" fill="#9fd9bb" />
<circle cx="1487.3" cy="1420.5" r="12.0" fill="#8fa88a" fill-opacity="0.55"/>
<circle cx="1487.3" cy="1420.5" r="4.2" fill="#9fd9bb" />
<text x="1308.0" y="1420.0" font-size="19.5" text-anchor="end">Nucleobase-containing compound</text>
<text x="1308.0" y="1431.5" font-size="19.5" text-anchor="end">metabolic process</text>
<rect x="1314.8" y="1444.2" width="172.5" height="9.0" fill="#2da0c0" />
<circle cx="1487.3" cy="1448.7" r="11.0" fill="#8fa88a" fill-opacity="0.55"/>
<circle cx="1487.3" cy="1448.7" r="3.8" fill="#2da0c0" />
<text x="1313.3" y="1454.2" font-size="19.5" text-anchor="end">RNA metabolic process</text>
<rect x="1314.8" y="1471.8" width="40.4" height="9.0" fill="#2474b0" />
<circle cx="1355.2" cy="1476.3" r="8.0" fill="#8fa88a" fill-opacity="0.55"/>
<circle cx="1355.2" cy="1476.3" r="2.8" fill="#2474b0" />
<text x="1313.3" y="1481.8" font-size="19.5" text-anchor="end">RNA processing</text>
<rect x="1314.8" y="1499.5" width="23.2" height="9.0" fill="#234da0" />
<circle cx="1338.0" cy="1504.0" r="5.5" fill="#8fa88a" fill-opacity="0.55"/>
<circle cx="1338.0" cy="1504.0" r="1.9" fill="#234da0" />
<text x="1308.0" y="1503.0" font-size="19.5" text-anchor="end">Nucleic acid phosphodiester bond</text>
<text x="1308.0" y="1515.0" font-size="19.5" text-anchor="end">hydrolysis</text>
<text x="1664.0" y="1348.8" font-size="14">FDR</text>
<rect x="1665.6" y="1354.0" width="8.7" height="11.5" fill="#d4efb3" />
<line x1="1672.0" y1="1359.7" x2="1675.0" y2="1359.7" stroke="#231815" stroke-width="1.5" />
<text x="1677.0" y="1364.0" font-size="14">1.0e-57</text>
<rect x="1665.6" y="1365.5" width="8.7" height="11.5" fill="#9fd9bb" />
<line x1="1672.0" y1="1371.2" x2="1675.0" y2="1371.2" stroke="#231815" stroke-width="1.5" />
<text x="1677.0" y="1375.5" font-size="14">1.0e-48</text>
<rect x="1665.6" y="1377.0" width="8.7" height="11.5" fill="#5cc0c0" />
<line x1="1672.0" y1="1382.7" x2="1675.0" y2="1382.7" stroke="#231815" stroke-width="1.5" />
<text x="1677.0" y="1387.0" font-size="14">1.0e-39</text>
<rect x="1665.6" y="1388.5" width="8.7" height="11.5" fill="#2da0c0" />
<line x1="1672.0" y1="1394.2" x2="1675.0" y2="1394.2" stroke="#231815" stroke-width="1.5" />
<text x="1677.0" y="1398.5" font-size="14">1.0e-30</text>
<rect x="1665.6" y="1400.0" width="8.7" height="11.5" fill="#2179b4" />
<line x1="1672.0" y1="1405.7" x2="1675.0" y2="1405.7" stroke="#231815" stroke-width="1.5" />
<text x="1677.0" y="1410.0" font-size="14">1.0e-20</text>
<rect x="1665.6" y="1411.5" width="8.7" height="11.5" fill="#234da0" />
<line x1="1672.0" y1="1417.2" x2="1675.0" y2="1417.2" stroke="#231815" stroke-width="1.5" />
<text x="1677.0" y="1421.5" font-size="14">1.0e-11</text>
<text x="1665.6" y="1441.0" font-size="14">Gene count</text>
<circle cx="1679.4" cy="1454.8" r="7.0" fill="#a8b8a0" />
<circle cx="1679.4" cy="1454.8" r="3.1" fill="#d4efb3" />
<text x="1691.0" y="1459.3" font-size="14">50</text>
<circle cx="1679.4" cy="1471.7" r="9.0" fill="#a8b8a0" />
<circle cx="1679.4" cy="1471.7" r="4.0" fill="#d4efb3" />
<text x="1691.0" y="1476.2" font-size="14">100</text>
<circle cx="1679.4" cy="1491.7" r="11.0" fill="#a8b8a0" />
<circle cx="1679.4" cy="1491.7" r="5.0" fill="#d4efb3" />
<text x="1691.0" y="1496.2" font-size="14">150</text>
<circle cx="1679.4" cy="1515.2" r="14.0" fill="#a8b8a0" />
<circle cx="1679.4" cy="1515.2" r="6.3" fill="#d4efb3" />
<text x="1691.0" y="1519.7" font-size="14">250</text>
<text x="0" y="0" font-size="29.2" font-weight="bold" transform="translate(3.6 1689.7) scale(1.1 1)">q</text>
<rect x="122.2" y="1695.2" width="127.2" height="22.2" fill="#e6e6e6" />
<text x="186.9" y="1711.1" font-size="12.7" text-anchor="middle" fill="#333">CCR4-NOT Complex</text>
<path d="M154.6,1743.3L214.2,1748.0M214.2,1748.0L251.8,1748.5M214.2,1748.0L254.6,1777.0M251.8,1748.5L254.6,1777.0M154.6,1743.3L145.3,1796.3M92.5,1776.0L145.3,1796.3M145.3,1796.3L201.3,1809.7M201.3,1809.7L247.1,1833.7M145.3,1796.3L104.6,1822.3M145.3,1796.3L151.8,1841.4M145.3,1796.3L121.0,1851.9M104.6,1822.3L151.8,1841.4M104.6,1822.3L121.0,1851.9M121.0,1851.9L151.8,1841.4" fill="none" stroke="#6a7290" stroke-width="2.0" />
<circle cx="154.6" cy="1743.3" r="7.7" fill="#f6d6bc" stroke="#d8b090" stroke-width="1" />
<circle cx="214.2" cy="1748.0" r="7.7" fill="#c9efb3" stroke="#98c888" stroke-width="1" />
<circle cx="251.8" cy="1748.5" r="7.7" fill="#f6d6bc" stroke="#d8b090" stroke-width="1" />
<circle cx="254.6" cy="1777.0" r="7.7" fill="#eaf6bd" stroke="#c0d090" stroke-width="1" />
<circle cx="92.5" cy="1776.0" r="7.7" fill="#c2d8f4" stroke="#98b0d0" stroke-width="1" />
<circle cx="145.3" cy="1796.3" r="7.7" fill="#f6edc4" stroke="#d0c498" stroke-width="1" />
<circle cx="201.3" cy="1809.7" r="7.7" fill="#f6edc4" stroke="#d0c498" stroke-width="1" />
<circle cx="247.1" cy="1833.7" r="7.7" fill="#c2d8f4" stroke="#98b0d0" stroke-width="1" />
<circle cx="104.6" cy="1822.3" r="7.7" fill="#c4f2f0" stroke="#90c8c8" stroke-width="1" />
<circle cx="151.8" cy="1841.4" r="7.7" fill="#c9f2c4" stroke="#98c890" stroke-width="1" />
<circle cx="121.0" cy="1851.9" r="7.7" fill="#c9efb3" stroke="#98c888" stroke-width="1" />
<text x="150.7" y="1734.0" font-size="12.7">Tnrc6a</text>
<text x="206.3" y="1736.8" font-size="12.7">Cnot1</text>
<text x="250.4" y="1738.7" font-size="12.7">Cnot10</text>
<text x="97.0" y="1766.0" font-size="12.7">Patl1</text>
<text x="154.6" y="1791.7" font-size="12.7">Xm1</text>
<text x="250.4" y="1796.3" font-size="12.7">Cnot11</text>
<text x="76.6" y="1811.5" font-size="12.7">Dcp2</text>
<text x="208.4" y="1805.0" font-size="12.7">Eif4e</text>
<text x="252.2" y="1823.2" font-size="12.7">Eif4enif1</text>
<text x="159.5" y="1837.7" font-size="12.7">Dcp1a</text>
<text x="128.5" y="1866.4" font-size="12.7">Edc3</text>
<text x="0" y="0" font-size="29.1" font-weight="bold" transform="translate(3.9 1880.8) scale(1.09 1)">r</text>
<defs><filter id="blr2" x="-30%" y="-100%" width="160%" height="300%"><feGaussianBlur stdDeviation="1.8"/></filter><filter id="blr3" x="-30%" y="-50%" width="160%" height="200%"><feGaussianBlur stdDeviation="5"/></filter></defs>
<rect x="120.3" y="1923.6" width="159.4" height="32.1" fill="#efefef" />
<rect x="120.3" y="1959.2" width="159.4" height="32.3" fill="#efefef" />
<rect x="120.3" y="1994.5" width="159.4" height="32.7" fill="#efefef" />
<g filter="url(#blr2)">
<rect x="131.0" y="1934.5" width="30.0" height="5.0" fill="#151515" />
<rect x="239.0" y="1933.0" width="27.0" height="8.0" fill="#101010" />
<rect x="134.0" y="1972.5" width="26.0" height="4.0" fill="#707070" />
<rect x="239.0" y="1971.5" width="26.0" height="6.0" fill="#202020" />
<rect x="135.0" y="2010.0" width="24.0" height="3.5" fill="#c8c8c8" />
<rect x="243.0" y="2008.0" width="22.0" height="4.5" fill="#808080" />
</g>
<g filter="url(#blr3)">
<path d="M186,1962 L224,1962 L220,1990 L190,1990 Z" fill="#8a8a8a" />
<rect x="238.0" y="1978.0" width="28.0" height="12.0" fill="#707070" />
</g>
<rect x="120.3" y="1923.6" width="159.4" height="32.1" fill="none" stroke="#231815" stroke-width="2" />
<rect x="120.3" y="1959.2" width="159.4" height="32.3" fill="none" stroke="#231815" stroke-width="2" />
<rect x="120.3" y="1994.5" width="159.4" height="32.7" fill="none" stroke="#231815" stroke-width="2" />
<text x="114.5" y="1945.5" font-size="18" text-anchor="end">L1td1</text>
<text x="114.5" y="1979.8" font-size="18" text-anchor="end">Cnot10</text>
<text x="114.5" y="2015.4" font-size="18" text-anchor="end">Dcp2</text>
<text x="144.9" y="1915.5" font-size="18" text-anchor="middle">Input</text>
<text x="199.8" y="1915.5" font-size="18" text-anchor="middle">IgG</text>
<text x="255.4" y="1915.5" font-size="18" text-anchor="middle">L1td1</text>
<text x="294.4" y="1917.9" font-size="18">kD</text>
<text x="232.0" y="1892.9" font-size="18" text-anchor="middle">IP</text>
<line x1="185.3" y1="1896.2" x2="273.8" y2="1896.2" stroke="#231815" stroke-width="1.8" />
<line x1="280.5" y1="1942.3" x2="286.0" y2="1942.3" stroke="#231815" stroke-width="2" />
<text x="289.7" y="1948.3" font-size="18">100</text>
<line x1="280.5" y1="1976.8" x2="286.0" y2="1976.8" stroke="#231815" stroke-width="2" />
<text x="289.7" y="1982.8" font-size="18">70</text>
<line x1="280.5" y1="2011.2" x2="286.0" y2="2011.2" stroke="#231815" stroke-width="2" />
<text x="289.7" y="2017.2" font-size="18">45</text>
<text x="0" y="0" font-size="28.8" font-weight="bold" transform="translate(394.1 1689.5) scale(0.87 1)">s</text>
<defs><clipPath id="fc9"><rect x="499.3" y="1724.6" width="235.1" height="234.8"/></clipPath></defs>
<g clip-path="url(#fc9)">
<g filter="url(#spk)">
<path d="M552.3,1802.5 L569.3,1789.1 L699.3,1789.1 L713.3,1802.5 L715.3,1914.6 L699.3,1924.4 L569.3,1924.4 L552.3,1914.6 Z" fill="#2828d8" fill-opacity="0.28" filter="url(#gb3)"/>
<defs><filter id="gb14" x="-60%" y="-60%" width="220%" height="220%"><feGaussianBlur stdDeviation="8"/></filter></defs>
<path d="M555.3,1824.9 L711.3,1824.9 L711.3,1911.9 L555.3,1911.9 Z" fill="#1c3ccc" fill-opacity="0.6" filter="url(#gb14)"/>
<defs><filter id="gb15" x="-60%" y="-60%" width="220%" height="220%"><feGaussianBlur stdDeviation="10"/></filter></defs>
<ellipse cx="631.3" cy="1873.3" rx="72.0" ry="28.0" fill="#2a9ad0" fill-opacity="0.4" filter="url(#gb15)"/>
<ellipse cx="585.3" cy="1869.8" rx="36.0" ry="30.0" fill="#20a8d0" fill-opacity="0.75" filter="url(#gb14)"/>
<ellipse cx="677.3" cy="1876.0" rx="30.0" ry="28.0" fill="#20a8d0" fill-opacity="0.75" filter="url(#gb14)"/>
<ellipse cx="579.3" cy="1869.8" rx="25.0" ry="27.0" fill="#80c840" fill-opacity="0.75" filter="url(#gb0)"/>
<ellipse cx="677.3" cy="1876.0" rx="20.0" ry="24.0" fill="#80c840" fill-opacity="0.75" filter="url(#gb0)"/>
<ellipse cx="572.3" cy="1871.6" rx="14.0" ry="22.0" fill="#f0a020" fill-opacity="0.65" filter="url(#gb5)"/>
<ellipse cx="677.3" cy="1876.9" rx="9.0" ry="17.0" fill="#f0a020" fill-opacity="0.6" filter="url(#gb5)"/>
<ellipse cx="569.3" cy="1874.2" rx="6.0" ry="14.0" fill="#e83020" fill-opacity="0.5" filter="url(#gb1)"/>
<ellipse cx="676.3" cy="1878.7" rx="4.0" ry="9.0" fill="#e83020" fill-opacity="0.4" filter="url(#gb2)"/>
</g>
</g>
<rect x="499.3" y="1724.6" width="235.1" height="234.8" fill="none" stroke="#231815" stroke-width="1.8" />
<path d="M638.4,1948.7 L670.4,1763.1 L727.6,1762.0 L728.0,1946.8 Z" fill="none" stroke="#231815" stroke-width="1.6" />
<text x="732.5" y="1753.6" font-size="19" text-anchor="end">38.9%</text>
<text x="612.5" y="1718.1" font-size="19.4" text-anchor="middle">Flag</text>
<line x1="493.3" y1="1959.4" x2="499.3" y2="1959.4" stroke="#231815" stroke-width="1.2" />
<line x1="496.3" y1="1950.4" x2="499.3" y2="1950.4" stroke="#231815" stroke-width="1.2" />
<line x1="496.3" y1="1941.5" x2="499.3" y2="1941.5" stroke="#231815" stroke-width="1.2" />
<line x1="496.3" y1="1932.5" x2="499.3" y2="1932.5" stroke="#231815" stroke-width="1.2" />
<line x1="496.3" y1="1923.5" x2="499.3" y2="1923.5" stroke="#231815" stroke-width="1.2" />
<line x1="493.3" y1="1914.6" x2="499.3" y2="1914.6" stroke="#231815" stroke-width="1.2" />
<line x1="496.3" y1="1905.6" x2="499.3" y2="1905.6" stroke="#231815" stroke-width="1.2" />
<line x1="496.3" y1="1896.7" x2="499.3" y2="1896.7" stroke="#231815" stroke-width="1.2" />
<line x1="496.3" y1="1887.7" x2="499.3" y2="1887.7" stroke="#231815" stroke-width="1.2" />
<line x1="496.3" y1="1878.7" x2="499.3" y2="1878.7" stroke="#231815" stroke-width="1.2" />
<line x1="493.3" y1="1869.8" x2="499.3" y2="1869.8" stroke="#231815" stroke-width="1.2" />
<line x1="496.3" y1="1860.8" x2="499.3" y2="1860.8" stroke="#231815" stroke-width="1.2" />
<line x1="496.3" y1="1851.8" x2="499.3" y2="1851.8" stroke="#231815" stroke-width="1.2" />
<line x1="496.3" y1="1842.9" x2="499.3" y2="1842.9" stroke="#231815" stroke-width="1.2" />
<line x1="496.3" y1="1833.9" x2="499.3" y2="1833.9" stroke="#231815" stroke-width="1.2" />
<line x1="493.3" y1="1824.9" x2="499.3" y2="1824.9" stroke="#231815" stroke-width="1.2" />
<line x1="496.3" y1="1816.0" x2="499.3" y2="1816.0" stroke="#231815" stroke-width="1.2" />
<line x1="496.3" y1="1807.0" x2="499.3" y2="1807.0" stroke="#231815" stroke-width="1.2" />
<line x1="496.3" y1="1798.0" x2="499.3" y2="1798.0" stroke="#231815" stroke-width="1.2" />
<line x1="496.3" y1="1789.1" x2="499.3" y2="1789.1" stroke="#231815" stroke-width="1.2" />
<line x1="493.3" y1="1780.1" x2="499.3" y2="1780.1" stroke="#231815" stroke-width="1.2" />
<line x1="496.3" y1="1771.2" x2="499.3" y2="1771.2" stroke="#231815" stroke-width="1.2" />
<line x1="496.3" y1="1762.2" x2="499.3" y2="1762.2" stroke="#231815" stroke-width="1.2" />
<line x1="496.3" y1="1753.2" x2="499.3" y2="1753.2" stroke="#231815" stroke-width="1.2" />
<line x1="496.3" y1="1744.3" x2="499.3" y2="1744.3" stroke="#231815" stroke-width="1.2" />
<line x1="493.3" y1="1735.3" x2="499.3" y2="1735.3" stroke="#231815" stroke-width="1.2" />
<path d="M545.9,1959.4v3.0M557.4,1959.4v3.0M565.6,1959.4v3.0M571.9,1959.4v3.0M577.0,1959.4v3.0M581.4,1959.4v3.0M585.2,1959.4v3.0M588.5,1959.4v3.0M611.0,1959.4v3.0M622.4,1959.4v3.0M630.5,1959.4v3.0M636.8,1959.4v3.0M641.9,1959.4v3.0M646.3,1959.4v3.0M650.0,1959.4v3.0M653.3,1959.4v3.0M672.3,1959.4v3.0M681.7,1959.4v3.0M688.4,1959.4v3.0M693.6,1959.4v3.0M697.8,1959.4v3.0M701.3,1959.4v3.0M704.4,1959.4v3.0M707.2,1959.4v3.0M526.3,1959.4v5.0M591.5,1959.4v5.0M656.3,1959.4v5.0M709.6,1959.4v5.0" fill="none" stroke="#231815" stroke-width="1.1" />
<rect x="549.3" y="1960.4" width="7.0" height="4.0" fill="#231815" />
<text x="552.3" y="1986.8" font-size="19.4" text-anchor="middle">0</text>
<text x="591.5" y="1986.8" font-size="19.4" text-anchor="middle">10<tspan font-size="12.0" dy="-7.4">4</tspan></text>
<text x="656.3" y="1986.8" font-size="19.4" text-anchor="middle">10<tspan font-size="12.0" dy="-7.4">5</tspan></text>
<text x="709.6" y="1986.8" font-size="19.4" text-anchor="middle">10<tspan font-size="12.0" dy="-7.4">6</tspan></text>
<defs><clipPath id="fc10"><rect x="752.3" y="1724.6" width="235.1" height="234.8"/></clipPath></defs>
<g clip-path="url(#fc10)">
<g filter="url(#spk)">
<path d="M805.3,1802.5 L822.3,1789.1 L952.3,1789.1 L966.3,1802.5 L968.3,1914.6 L952.3,1924.4 L822.3,1924.4 L805.3,1914.6 Z" fill="#2828d8" fill-opacity="0.28" filter="url(#gb3)"/>
<path d="M808.3,1824.9 L964.3,1824.9 L964.3,1911.9 L808.3,1911.9 Z" fill="#1c3ccc" fill-opacity="0.6" filter="url(#gb14)"/>
<ellipse cx="884.3" cy="1873.3" rx="72.0" ry="28.0" fill="#2a9ad0" fill-opacity="0.4" filter="url(#gb15)"/>
<ellipse cx="838.3" cy="1869.8" rx="36.0" ry="30.0" fill="#20a8d0" fill-opacity="0.8250000000000001" filter="url(#gb14)"/>
<ellipse cx="930.3" cy="1876.0" rx="30.0" ry="28.0" fill="#20a8d0" fill-opacity="0.5625" filter="url(#gb14)"/>
<ellipse cx="832.3" cy="1869.8" rx="25.0" ry="27.0" fill="#80c840" fill-opacity="0.8250000000000001" filter="url(#gb0)"/>
<ellipse cx="930.3" cy="1876.0" rx="20.0" ry="24.0" fill="#80c840" fill-opacity="0.5625" filter="url(#gb0)"/>
<ellipse cx="825.3" cy="1871.6" rx="14.0" ry="22.0" fill="#f0a020" fill-opacity="0.7150000000000001" filter="url(#gb5)"/>
<ellipse cx="930.3" cy="1876.9" rx="9.0" ry="17.0" fill="#f0a020" fill-opacity="0.44999999999999996" filter="url(#gb5)"/>
<ellipse cx="822.3" cy="1874.2" rx="6.0" ry="14.0" fill="#e83020" fill-opacity="0.55" filter="url(#gb1)"/>
<ellipse cx="929.3" cy="1878.7" rx="4.0" ry="9.0" fill="#e83020" fill-opacity="0.30000000000000004" filter="url(#gb2)"/>
</g>
</g>
<rect x="752.3" y="1724.6" width="235.1" height="234.8" fill="none" stroke="#231815" stroke-width="1.8" />
<path d="M891.4,1948.7 L923.4,1763.1 L980.6,1762.0 L981.0,1946.8 Z" fill="none" stroke="#231815" stroke-width="1.6" />
<text x="985.5" y="1753.6" font-size="19" text-anchor="end">24.8%</text>
<text x="865.9" y="1718.1" font-size="19.4" text-anchor="middle">L1td1</text>
<line x1="746.3" y1="1959.4" x2="752.3" y2="1959.4" stroke="#231815" stroke-width="1.2" />
<line x1="749.3" y1="1950.4" x2="752.3" y2="1950.4" stroke="#231815" stroke-width="1.2" />
<line x1="749.3" y1="1941.5" x2="752.3" y2="1941.5" stroke="#231815" stroke-width="1.2" />
<line x1="749.3" y1="1932.5" x2="752.3" y2="1932.5" stroke="#231815" stroke-width="1.2" />
<line x1="749.3" y1="1923.5" x2="752.3" y2="1923.5" stroke="#231815" stroke-width="1.2" />
<line x1="746.3" y1="1914.6" x2="752.3" y2="1914.6" stroke="#231815" stroke-width="1.2" />
<line x1="749.3" y1="1905.6" x2="752.3" y2="1905.6" stroke="#231815" stroke-width="1.2" />
<line x1="749.3" y1="1896.7" x2="752.3" y2="1896.7" stroke="#231815" stroke-width="1.2" />
<line x1="749.3" y1="1887.7" x2="752.3" y2="1887.7" stroke="#231815" stroke-width="1.2" />
<line x1="749.3" y1="1878.7" x2="752.3" y2="1878.7" stroke="#231815" stroke-width="1.2" />
<line x1="746.3" y1="1869.8" x2="752.3" y2="1869.8" stroke="#231815" stroke-width="1.2" />
<line x1="749.3" y1="1860.8" x2="752.3" y2="1860.8" stroke="#231815" stroke-width="1.2" />
<line x1="749.3" y1="1851.8" x2="752.3" y2="1851.8" stroke="#231815" stroke-width="1.2" />
<line x1="749.3" y1="1842.9" x2="752.3" y2="1842.9" stroke="#231815" stroke-width="1.2" />
<line x1="749.3" y1="1833.9" x2="752.3" y2="1833.9" stroke="#231815" stroke-width="1.2" />
<line x1="746.3" y1="1824.9" x2="752.3" y2="1824.9" stroke="#231815" stroke-width="1.2" />
<line x1="749.3" y1="1816.0" x2="752.3" y2="1816.0" stroke="#231815" stroke-width="1.2" />
<line x1="749.3" y1="1807.0" x2="752.3" y2="1807.0" stroke="#231815" stroke-width="1.2" />
<line x1="749.3" y1="1798.0" x2="752.3" y2="1798.0" stroke="#231815" stroke-width="1.2" />
<line x1="749.3" y1="1789.1" x2="752.3" y2="1789.1" stroke="#231815" stroke-width="1.2" />
<line x1="746.3" y1="1780.1" x2="752.3" y2="1780.1" stroke="#231815" stroke-width="1.2" />
<line x1="749.3" y1="1771.2" x2="752.3" y2="1771.2" stroke="#231815" stroke-width="1.2" />
<line x1="749.3" y1="1762.2" x2="752.3" y2="1762.2" stroke="#231815" stroke-width="1.2" />
<line x1="749.3" y1="1753.2" x2="752.3" y2="1753.2" stroke="#231815" stroke-width="1.2" />
<line x1="749.3" y1="1744.3" x2="752.3" y2="1744.3" stroke="#231815" stroke-width="1.2" />
<line x1="746.3" y1="1735.3" x2="752.3" y2="1735.3" stroke="#231815" stroke-width="1.2" />
<path d="M798.9,1959.4v3.0M810.4,1959.4v3.0M818.6,1959.4v3.0M824.9,1959.4v3.0M830.0,1959.4v3.0M834.4,1959.4v3.0M838.2,1959.4v3.0M841.5,1959.4v3.0M864.0,1959.4v3.0M875.4,1959.4v3.0M883.5,1959.4v3.0M889.8,1959.4v3.0M894.9,1959.4v3.0M899.3,1959.4v3.0M903.0,1959.4v3.0M906.3,1959.4v3.0M925.3,1959.4v3.0M934.7,1959.4v3.0M941.4,1959.4v3.0M946.6,1959.4v3.0M950.8,1959.4v3.0M954.3,1959.4v3.0M957.4,1959.4v3.0M960.2,1959.4v3.0M779.3,1959.4v5.0M844.5,1959.4v5.0M909.3,1959.4v5.0M962.6,1959.4v5.0" fill="none" stroke="#231815" stroke-width="1.1" />
<rect x="802.3" y="1960.4" width="7.0" height="4.0" fill="#231815" />
<text x="805.3" y="1986.8" font-size="19.4" text-anchor="middle">0</text>
<text x="844.5" y="1986.8" font-size="19.4" text-anchor="middle">10<tspan font-size="12.0" dy="-7.4">4</tspan></text>
<text x="909.3" y="1986.8" font-size="19.4" text-anchor="middle">10<tspan font-size="12.0" dy="-7.4">5</tspan></text>
<text x="962.6" y="1986.8" font-size="19.4" text-anchor="middle">10<tspan font-size="12.0" dy="-7.4">6</tspan></text>
<defs><clipPath id="fc11"><rect x="1005.6" y="1724.6" width="235.1" height="234.8"/></clipPath></defs>
<g clip-path="url(#fc11)">
<g filter="url(#spk)">
<path d="M1058.6,1802.5 L1075.6,1789.1 L1205.6,1789.1 L1219.6,1802.5 L1221.6,1914.6 L1205.6,1924.4 L1075.6,1924.4 L1058.6,1914.6 Z" fill="#2828d8" fill-opacity="0.28" filter="url(#gb3)"/>
<path d="M1061.6,1824.9 L1217.6,1824.9 L1217.6,1911.9 L1061.6,1911.9 Z" fill="#1c3ccc" fill-opacity="0.6" filter="url(#gb14)"/>
<ellipse cx="1137.6" cy="1873.3" rx="72.0" ry="28.0" fill="#2a9ad0" fill-opacity="0.4" filter="url(#gb15)"/>
<ellipse cx="1091.6" cy="1869.8" rx="36.0" ry="30.0" fill="#20a8d0" fill-opacity="0.75" filter="url(#gb14)"/>
<ellipse cx="1183.6" cy="1876.0" rx="30.0" ry="28.0" fill="#20a8d0" fill-opacity="0.675" filter="url(#gb14)"/>
<ellipse cx="1085.6" cy="1869.8" rx="25.0" ry="27.0" fill="#80c840" fill-opacity="0.75" filter="url(#gb0)"/>
<ellipse cx="1183.6" cy="1876.0" rx="20.0" ry="24.0" fill="#80c840" fill-opacity="0.675" filter="url(#gb0)"/>
<ellipse cx="1078.6" cy="1871.6" rx="14.0" ry="22.0" fill="#f0a020" fill-opacity="0.65" filter="url(#gb5)"/>
<ellipse cx="1183.6" cy="1876.9" rx="9.0" ry="17.0" fill="#f0a020" fill-opacity="0.54" filter="url(#gb5)"/>
<ellipse cx="1075.6" cy="1874.2" rx="6.0" ry="14.0" fill="#e83020" fill-opacity="0.5" filter="url(#gb1)"/>
<ellipse cx="1182.6" cy="1878.7" rx="4.0" ry="9.0" fill="#e83020" fill-opacity="0.36000000000000004" filter="url(#gb2)"/>
</g>
</g>
<rect x="1005.6" y="1724.6" width="235.1" height="234.8" fill="none" stroke="#231815" stroke-width="1.8" />
<path d="M1144.7,1948.7 L1176.7,1763.1 L1233.9,1762.0 L1234.3,1946.8 Z" fill="none" stroke="#231815" stroke-width="1.6" />
<text x="1238.8" y="1753.6" font-size="19" text-anchor="end">39.3%</text>
<text x="1125.4" y="1718.1" font-size="19.4" text-anchor="middle">L1td1+shCnot10-1</text>
<line x1="999.6" y1="1959.4" x2="1005.6" y2="1959.4" stroke="#231815" stroke-width="1.2" />
<line x1="1002.6" y1="1950.4" x2="1005.6" y2="1950.4" stroke="#231815" stroke-width="1.2" />
<line x1="1002.6" y1="1941.5" x2="1005.6" y2="1941.5" stroke="#231815" stroke-width="1.2" />
<line x1="1002.6" y1="1932.5" x2="1005.6" y2="1932.5" stroke="#231815" stroke-width="1.2" />
<line x1="1002.6" y1="1923.5" x2="1005.6" y2="1923.5" stroke="#231815" stroke-width="1.2" />
<line x1="999.6" y1="1914.6" x2="1005.6" y2="1914.6" stroke="#231815" stroke-width="1.2" />
<line x1="1002.6" y1="1905.6" x2="1005.6" y2="1905.6" stroke="#231815" stroke-width="1.2" />
<line x1="1002.6" y1="1896.7" x2="1005.6" y2="1896.7" stroke="#231815" stroke-width="1.2" />
<line x1="1002.6" y1="1887.7" x2="1005.6" y2="1887.7" stroke="#231815" stroke-width="1.2" />
<line x1="1002.6" y1="1878.7" x2="1005.6" y2="1878.7" stroke="#231815" stroke-width="1.2" />
<line x1="999.6" y1="1869.8" x2="1005.6" y2="1869.8" stroke="#231815" stroke-width="1.2" />
<line x1="1002.6" y1="1860.8" x2="1005.6" y2="1860.8" stroke="#231815" stroke-width="1.2" />
<line x1="1002.6" y1="1851.8" x2="1005.6" y2="1851.8" stroke="#231815" stroke-width="1.2" />
<line x1="1002.6" y1="1842.9" x2="1005.6" y2="1842.9" stroke="#231815" stroke-width="1.2" />
<line x1="1002.6" y1="1833.9" x2="1005.6" y2="1833.9" stroke="#231815" stroke-width="1.2" />
<line x1="999.6" y1="1824.9" x2="1005.6" y2="1824.9" stroke="#231815" stroke-width="1.2" />
<line x1="1002.6" y1="1816.0" x2="1005.6" y2="1816.0" stroke="#231815" stroke-width="1.2" />
<line x1="1002.6" y1="1807.0" x2="1005.6" y2="1807.0" stroke="#231815" stroke-width="1.2" />
<line x1="1002.6" y1="1798.0" x2="1005.6" y2="1798.0" stroke="#231815" stroke-width="1.2" />
<line x1="1002.6" y1="1789.1" x2="1005.6" y2="1789.1" stroke="#231815" stroke-width="1.2" />
<line x1="999.6" y1="1780.1" x2="1005.6" y2="1780.1" stroke="#231815" stroke-width="1.2" />
<line x1="1002.6" y1="1771.2" x2="1005.6" y2="1771.2" stroke="#231815" stroke-width="1.2" />
<line x1="1002.6" y1="1762.2" x2="1005.6" y2="1762.2" stroke="#231815" stroke-width="1.2" />
<line x1="1002.6" y1="1753.2" x2="1005.6" y2="1753.2" stroke="#231815" stroke-width="1.2" />
<line x1="1002.6" y1="1744.3" x2="1005.6" y2="1744.3" stroke="#231815" stroke-width="1.2" />
<line x1="999.6" y1="1735.3" x2="1005.6" y2="1735.3" stroke="#231815" stroke-width="1.2" />
<path d="M1052.2,1959.4v3.0M1063.7,1959.4v3.0M1071.9,1959.4v3.0M1078.2,1959.4v3.0M1083.3,1959.4v3.0M1087.7,1959.4v3.0M1091.5,1959.4v3.0M1094.8,1959.4v3.0M1117.3,1959.4v3.0M1128.7,1959.4v3.0M1136.8,1959.4v3.0M1143.1,1959.4v3.0M1148.2,1959.4v3.0M1152.6,1959.4v3.0M1156.3,1959.4v3.0M1159.6,1959.4v3.0M1178.6,1959.4v3.0M1188.0,1959.4v3.0M1194.7,1959.4v3.0M1199.9,1959.4v3.0M1204.1,1959.4v3.0M1207.6,1959.4v3.0M1210.7,1959.4v3.0M1213.5,1959.4v3.0M1032.6,1959.4v5.0M1097.8,1959.4v5.0M1162.6,1959.4v5.0M1215.9,1959.4v5.0" fill="none" stroke="#231815" stroke-width="1.1" />
<rect x="1055.6" y="1960.4" width="7.0" height="4.0" fill="#231815" />
<text x="1058.6" y="1986.8" font-size="19.4" text-anchor="middle">0</text>
<text x="1097.8" y="1986.8" font-size="19.4" text-anchor="middle">10<tspan font-size="12.0" dy="-7.4">4</tspan></text>
<text x="1162.6" y="1986.8" font-size="19.4" text-anchor="middle">10<tspan font-size="12.0" dy="-7.4">5</tspan></text>
<text x="1215.9" y="1986.8" font-size="19.4" text-anchor="middle">10<tspan font-size="12.0" dy="-7.4">6</tspan></text>
<defs><clipPath id="fc12"><rect x="1258.7" y="1724.6" width="235.1" height="234.8"/></clipPath></defs>
<g clip-path="url(#fc12)">
<g filter="url(#spk)">
<path d="M1311.7,1802.5 L1328.7,1789.1 L1458.7,1789.1 L1472.7,1802.5 L1474.7,1914.6 L1458.7,1924.4 L1328.7,1924.4 L1311.7,1914.6 Z" fill="#2828d8" fill-opacity="0.28" filter="url(#gb3)"/>
<path d="M1314.7,1824.9 L1470.7,1824.9 L1470.7,1911.9 L1314.7,1911.9 Z" fill="#1c3ccc" fill-opacity="0.6" filter="url(#gb14)"/>
<ellipse cx="1390.7" cy="1873.3" rx="72.0" ry="28.0" fill="#2a9ad0" fill-opacity="0.4" filter="url(#gb15)"/>
<ellipse cx="1344.7" cy="1869.8" rx="36.0" ry="30.0" fill="#20a8d0" fill-opacity="0.8250000000000001" filter="url(#gb14)"/>
<ellipse cx="1436.7" cy="1876.0" rx="30.0" ry="28.0" fill="#20a8d0" fill-opacity="0.6000000000000001" filter="url(#gb14)"/>
<ellipse cx="1338.7" cy="1869.8" rx="25.0" ry="27.0" fill="#80c840" fill-opacity="0.8250000000000001" filter="url(#gb0)"/>
<ellipse cx="1436.7" cy="1876.0" rx="20.0" ry="24.0" fill="#80c840" fill-opacity="0.6000000000000001" filter="url(#gb0)"/>
<ellipse cx="1331.7" cy="1871.6" rx="14.0" ry="22.0" fill="#f0a020" fill-opacity="0.7150000000000001" filter="url(#gb5)"/>
<ellipse cx="1436.7" cy="1876.9" rx="9.0" ry="17.0" fill="#f0a020" fill-opacity="0.48" filter="url(#gb5)"/>
<ellipse cx="1328.7" cy="1874.2" rx="6.0" ry="14.0" fill="#e83020" fill-opacity="0.55" filter="url(#gb1)"/>
<ellipse cx="1435.7" cy="1878.7" rx="4.0" ry="9.0" fill="#e83020" fill-opacity="0.32000000000000006" filter="url(#gb2)"/>
</g>
</g>
<rect x="1258.7" y="1724.6" width="235.1" height="234.8" fill="none" stroke="#231815" stroke-width="1.8" />
<path d="M1397.8,1948.7 L1429.8,1763.1 L1487.0,1762.0 L1487.4,1946.8 Z" fill="none" stroke="#231815" stroke-width="1.6" />
<text x="1491.9" y="1753.6" font-size="19" text-anchor="end">32.9%</text>
<text x="1377.9" y="1718.1" font-size="19.4" text-anchor="middle">L1td1+shCnot10-2</text>
<line x1="1252.7" y1="1959.4" x2="1258.7" y2="1959.4" stroke="#231815" stroke-width="1.2" />
<line x1="1255.7" y1="1950.4" x2="1258.7" y2="1950.4" stroke="#231815" stroke-width="1.2" />
<line x1="1255.7" y1="1941.5" x2="1258.7" y2="1941.5" stroke="#231815" stroke-width="1.2" />
<line x1="1255.7" y1="1932.5" x2="1258.7" y2="1932.5" stroke="#231815" stroke-width="1.2" />
<line x1="1255.7" y1="1923.5" x2="1258.7" y2="1923.5" stroke="#231815" stroke-width="1.2" />
<line x1="1252.7" y1="1914.6" x2="1258.7" y2="1914.6" stroke="#231815" stroke-width="1.2" />
<line x1="1255.7" y1="1905.6" x2="1258.7" y2="1905.6" stroke="#231815" stroke-width="1.2" />
<line x1="1255.7" y1="1896.7" x2="1258.7" y2="1896.7" stroke="#231815" stroke-width="1.2" />
<line x1="1255.7" y1="1887.7" x2="1258.7" y2="1887.7" stroke="#231815" stroke-width="1.2" />
<line x1="1255.7" y1="1878.7" x2="1258.7" y2="1878.7" stroke="#231815" stroke-width="1.2" />
<line x1="1252.7" y1="1869.8" x2="1258.7" y2="1869.8" stroke="#231815" stroke-width="1.2" />
<line x1="1255.7" y1="1860.8" x2="1258.7" y2="1860.8" stroke="#231815" stroke-width="1.2" />
<line x1="1255.7" y1="1851.8" x2="1258.7" y2="1851.8" stroke="#231815" stroke-width="1.2" />
<line x1="1255.7" y1="1842.9" x2="1258.7" y2="1842.9" stroke="#231815" stroke-width="1.2" />
<line x1="1255.7" y1="1833.9" x2="1258.7" y2="1833.9" stroke="#231815" stroke-width="1.2" />
<line x1="1252.7" y1="1824.9" x2="1258.7" y2="1824.9" stroke="#231815" stroke-width="1.2" />
<line x1="1255.7" y1="1816.0" x2="1258.7" y2="1816.0" stroke="#231815" stroke-width="1.2" />
<line x1="1255.7" y1="1807.0" x2="1258.7" y2="1807.0" stroke="#231815" stroke-width="1.2" />
<line x1="1255.7" y1="1798.0" x2="1258.7" y2="1798.0" stroke="#231815" stroke-width="1.2" />
<line x1="1255.7" y1="1789.1" x2="1258.7" y2="1789.1" stroke="#231815" stroke-width="1.2" />
<line x1="1252.7" y1="1780.1" x2="1258.7" y2="1780.1" stroke="#231815" stroke-width="1.2" />
<line x1="1255.7" y1="1771.2" x2="1258.7" y2="1771.2" stroke="#231815" stroke-width="1.2" />
<line x1="1255.7" y1="1762.2" x2="1258.7" y2="1762.2" stroke="#231815" stroke-width="1.2" />
<line x1="1255.7" y1="1753.2" x2="1258.7" y2="1753.2" stroke="#231815" stroke-width="1.2" />
<line x1="1255.7" y1="1744.3" x2="1258.7" y2="1744.3" stroke="#231815" stroke-width="1.2" />
<line x1="1252.7" y1="1735.3" x2="1258.7" y2="1735.3" stroke="#231815" stroke-width="1.2" />
<path d="M1305.3,1959.4v3.0M1316.8,1959.4v3.0M1325.0,1959.4v3.0M1331.3,1959.4v3.0M1336.4,1959.4v3.0M1340.8,1959.4v3.0M1344.6,1959.4v3.0M1347.9,1959.4v3.0M1370.4,1959.4v3.0M1381.8,1959.4v3.0M1389.9,1959.4v3.0M1396.2,1959.4v3.0M1401.3,1959.4v3.0M1405.7,1959.4v3.0M1409.4,1959.4v3.0M1412.7,1959.4v3.0M1431.7,1959.4v3.0M1441.1,1959.4v3.0M1447.8,1959.4v3.0M1453.0,1959.4v3.0M1457.2,1959.4v3.0M1460.7,1959.4v3.0M1463.8,1959.4v3.0M1466.6,1959.4v3.0M1285.7,1959.4v5.0M1350.9,1959.4v5.0M1415.7,1959.4v5.0M1469.0,1959.4v5.0" fill="none" stroke="#231815" stroke-width="1.1" />
<rect x="1308.7" y="1960.4" width="7.0" height="4.0" fill="#231815" />
<text x="1311.7" y="1986.8" font-size="19.4" text-anchor="middle">0</text>
<text x="1350.9" y="1986.8" font-size="19.4" text-anchor="middle">10<tspan font-size="12.0" dy="-7.4">4</tspan></text>
<text x="1415.7" y="1986.8" font-size="19.4" text-anchor="middle">10<tspan font-size="12.0" dy="-7.4">5</tspan></text>
<text x="1469.0" y="1986.8" font-size="19.4" text-anchor="middle">10<tspan font-size="12.0" dy="-7.4">6</tspan></text>
<text x="493.6" y="1965.9" font-size="19.4" text-anchor="end">0</text>
<text x="493.6" y="1921.1" font-size="19.4" text-anchor="end">5</text>
<text x="493.6" y="1876.3" font-size="19.4" text-anchor="end">10</text>
<text x="493.6" y="1831.4" font-size="19.4" text-anchor="end">15</text>
<text x="493.6" y="1786.6" font-size="19.4" text-anchor="end">20</text>
<text x="493.6" y="1741.8" font-size="19.4" text-anchor="end">25</text>
<line x1="450.5" y1="1722.0" x2="450.5" y2="2004.0" stroke="#231815" stroke-width="2.2" />
<line x1="449.4" y1="2004.0" x2="1465.0" y2="2004.0" stroke="#231815" stroke-width="2.2" />
<path d="M450.5,1708.6 L458.5,1732.6 L450.5,1726.6 L442.5,1732.6 Z" fill="#231815" />
<path d="M1479.0,2002.0 L1455.0,1994.0 L1461.0,2002.0 L1455.0,2010.0 Z" fill="#231815" />
<text x="437.3" y="1853.4" font-size="19.6" text-anchor="middle" transform="rotate(-90 437.3 1853.4)">SSC-A::SSC-A(×10<tspan font-size="12.2" dy="-7.4">4</tspan>)</text>
<text x="900.2" y="2028.7" font-size="18.9">MERVL: :tdTomato</text>
<text x="0" y="0" font-size="33.1" font-weight="bold" transform="translate(1517.6 1689.6) scale(0.98 1)">t</text>
<rect x="1613.0" y="1763.2" width="25.8" height="185.0" fill="#2f4f9e" />
<rect x="1649.6" y="1830.5" width="25.8" height="117.7" fill="#2f4f9e" />
<rect x="1686.7" y="1770.4" width="25.8" height="177.8" fill="#2f4f9e" />
<rect x="1723.1" y="1794.4" width="25.8" height="153.8" fill="#2f4f9e" />
<line x1="1625.9" y1="1765.6" x2="1625.9" y2="1759.8" stroke="#231815" stroke-width="1.8" />
<line x1="1621.9" y1="1765.6" x2="1629.9" y2="1765.6" stroke="#231815" stroke-width="1.8" />
<line x1="1621.9" y1="1759.8" x2="1629.9" y2="1759.8" stroke="#231815" stroke-width="1.8" />
<circle cx="1618.9" cy="1765.6" r="3.6" fill="#231815" />
<circle cx="1623.6" cy="1759.8" r="3.6" fill="#231815" />
<circle cx="1628.3" cy="1761.2" r="3.6" fill="#231815" />
<circle cx="1633.0" cy="1762.7" r="3.6" fill="#231815" />
<line x1="1662.5" y1="1832.9" x2="1662.5" y2="1827.1" stroke="#231815" stroke-width="1.8" />
<line x1="1658.5" y1="1832.9" x2="1666.5" y2="1832.9" stroke="#231815" stroke-width="1.8" />
<line x1="1658.5" y1="1827.1" x2="1666.5" y2="1827.1" stroke="#231815" stroke-width="1.8" />
<circle cx="1655.5" cy="1830.9" r="3.6" fill="#231815" />
<circle cx="1660.2" cy="1824.2" r="3.6" fill="#231815" />
<circle cx="1664.9" cy="1830.0" r="3.6" fill="#231815" />
<circle cx="1669.6" cy="1829.0" r="3.6" fill="#231815" />
<line x1="1699.6" y1="1772.8" x2="1699.6" y2="1767.0" stroke="#231815" stroke-width="1.8" />
<line x1="1695.6" y1="1772.8" x2="1703.6" y2="1772.8" stroke="#231815" stroke-width="1.8" />
<line x1="1695.6" y1="1767.0" x2="1703.6" y2="1767.0" stroke="#231815" stroke-width="1.8" />
<circle cx="1692.6" cy="1772.8" r="3.6" fill="#231815" />
<circle cx="1697.3" cy="1761.2" r="3.6" fill="#231815" />
<circle cx="1702.0" cy="1768.9" r="3.6" fill="#231815" />
<circle cx="1706.7" cy="1770.4" r="3.6" fill="#231815" />
<line x1="1736.0" y1="1796.8" x2="1736.0" y2="1791.0" stroke="#231815" stroke-width="1.8" />
<line x1="1732.0" y1="1796.8" x2="1740.0" y2="1796.8" stroke="#231815" stroke-width="1.8" />
<line x1="1732.0" y1="1791.0" x2="1740.0" y2="1791.0" stroke="#231815" stroke-width="1.8" />
<circle cx="1729.0" cy="1796.8" r="3.6" fill="#231815" />
<circle cx="1733.7" cy="1789.6" r="3.6" fill="#231815" />
<circle cx="1738.4" cy="1803.1" r="3.6" fill="#231815" />
<circle cx="1743.1" cy="1791.5" r="3.6" fill="#231815" />
<line x1="1601.3" y1="1706.9" x2="1601.3" y2="1949.2" stroke="#231815" stroke-width="2.2" />
<line x1="1591.7" y1="1948.2" x2="1762.6" y2="1948.2" stroke="#231815" stroke-width="2.2" />
<line x1="1591.7" y1="1948.2" x2="1601.3" y2="1948.2" stroke="#231815" stroke-width="2.2" />
<text x="1589.0" y="1954.7" font-size="18.5" text-anchor="end">0</text>
<line x1="1591.7" y1="1900.1" x2="1601.3" y2="1900.1" stroke="#231815" stroke-width="2.2" />
<text x="1589.0" y="1906.6" font-size="18.5" text-anchor="end">10</text>
<line x1="1591.7" y1="1852.1" x2="1601.3" y2="1852.1" stroke="#231815" stroke-width="2.2" />
<text x="1589.0" y="1858.6" font-size="18.5" text-anchor="end">20</text>
<line x1="1591.7" y1="1804.0" x2="1601.3" y2="1804.0" stroke="#231815" stroke-width="2.2" />
<text x="1589.0" y="1810.5" font-size="18.5" text-anchor="end">30</text>
<line x1="1591.7" y1="1756.0" x2="1601.3" y2="1756.0" stroke="#231815" stroke-width="2.2" />
<text x="1589.0" y="1762.5" font-size="18.5" text-anchor="end">40</text>
<line x1="1591.7" y1="1707.9" x2="1601.3" y2="1707.9" stroke="#231815" stroke-width="2.2" />
<text x="1589.0" y="1714.4" font-size="18.5" text-anchor="end">50</text>
<line x1="1625.9" y1="1948.2" x2="1625.9" y2="1957.2" stroke="#231815" stroke-width="2.2" />
<line x1="1662.5" y1="1948.2" x2="1662.5" y2="1957.2" stroke="#231815" stroke-width="2.2" />
<line x1="1699.6" y1="1948.2" x2="1699.6" y2="1957.2" stroke="#231815" stroke-width="2.2" />
<line x1="1736.0" y1="1948.2" x2="1736.0" y2="1957.2" stroke="#231815" stroke-width="2.2" />
<path d="M1625.4,1750.2 V1711.5 H1662.5 V1813.2" fill="none" stroke="#231815" stroke-width="2" />
<path d="M1662.5,1703.7 H1699.2 V1750.2" fill="none" stroke="#231815" stroke-width="2" />
<path d="M1662.5,1711.5 V1690 H1736.3 V1775" fill="none" stroke="#231815" stroke-width="2" />
<text x="1645.2" y="1714.0" font-size="18" text-anchor="middle">***</text>
<text x="1682.3" y="1707.0" font-size="18" text-anchor="middle">***</text>
<text x="1700.3" y="1691.0" font-size="18" text-anchor="middle">***</text>
<text x="1556.9" y="1826.7" font-size="18.5" text-anchor="middle" transform="rotate(-90 1556.9 1826.7)">tdTomato<tspan font-size="11.5" dy="-7.0">+</tspan> cells (%)</text>
<text x="1635.9" y="1970.0" font-size="19.7" text-anchor="end" transform="rotate(-45 1635.9 1970.0)">Flag</text>
<text x="1672.5" y="1970.0" font-size="19.7" text-anchor="end" transform="rotate(-45 1672.5 1970.0)">L1td1</text>
<text x="1709.6" y="1970.0" font-size="19.7" text-anchor="end" transform="rotate(-45 1709.6 1970.0)">L1td1+shCnot10-1</text>
<text x="1746.0" y="1970.0" font-size="19.7" text-anchor="end" transform="rotate(-45 1746.0 1970.0)">L1td1+shCnot10-2</text>
<text x="0" y="0" font-size="29.6" font-weight="bold" transform="translate(2.0 2147.6) scale(1.06 1)">u</text>
<rect x="129.1" y="2254.9" width="18.2" height="158.1" fill="#2f4f9e" />
<rect x="150.4" y="2359.2" width="17.6" height="53.8" fill="#f03c0c" />
<rect x="172.1" y="2270.7" width="17.9" height="142.3" fill="#ec9a44" />
<rect x="192.8" y="2318.1" width="17.9" height="94.9" fill="#98d5c0" />
<rect x="232.3" y="2254.9" width="18.2" height="158.1" fill="#2f4f9e" />
<rect x="253.6" y="2371.9" width="17.6" height="41.1" fill="#f03c0c" />
<rect x="275.3" y="2283.3" width="17.9" height="129.7" fill="#ec9a44" />
<rect x="296.0" y="2316.5" width="17.9" height="96.5" fill="#98d5c0" />
<rect x="335.6" y="2254.9" width="18.2" height="158.1" fill="#2f4f9e" />
<rect x="356.9" y="2337.1" width="17.6" height="75.9" fill="#f03c0c" />
<rect x="378.6" y="2292.8" width="17.9" height="120.2" fill="#ec9a44" />
<rect x="399.3" y="2291.2" width="17.9" height="121.8" fill="#98d5c0" />
<rect x="438.2" y="2254.9" width="18.2" height="158.1" fill="#2f4f9e" />
<rect x="459.5" y="2341.8" width="17.6" height="71.2" fill="#f03c0c" />
<rect x="481.2" y="2273.8" width="17.9" height="139.2" fill="#ec9a44" />
<rect x="501.9" y="2296.0" width="17.9" height="117.0" fill="#98d5c0" />
<circle cx="134.2" cy="2254.9" r="4.6" fill="#231815" />
<circle cx="136.7" cy="2254.9" r="4.6" fill="#231815" />
<circle cx="139.7" cy="2254.9" r="4.6" fill="#231815" />
<circle cx="142.2" cy="2254.9" r="4.6" fill="#231815" />
<line x1="159.2" y1="2368.7" x2="159.2" y2="2349.7" stroke="#231815" stroke-width="1.8" />
<line x1="155.2" y1="2368.7" x2="163.2" y2="2368.7" stroke="#231815" stroke-width="1.8" />
<line x1="155.2" y1="2349.7" x2="163.2" y2="2349.7" stroke="#231815" stroke-width="1.8" />
<circle cx="155.2" cy="2352.9" r="4.6" fill="#231815" />
<circle cx="159.2" cy="2356.1" r="4.6" fill="#231815" />
<circle cx="163.2" cy="2368.7" r="4.6" fill="#231815" />
<line x1="181.0" y1="2278.6" x2="181.0" y2="2258.0" stroke="#231815" stroke-width="1.8" />
<line x1="177.0" y1="2278.6" x2="185.0" y2="2278.6" stroke="#231815" stroke-width="1.8" />
<line x1="177.0" y1="2258.0" x2="185.0" y2="2258.0" stroke="#231815" stroke-width="1.8" />
<circle cx="177.0" cy="2258.0" r="4.6" fill="#231815" />
<circle cx="181.0" cy="2275.4" r="4.6" fill="#231815" />
<circle cx="185.0" cy="2277.0" r="4.6" fill="#231815" />
<circle cx="197.8" cy="2302.3" r="4.6" fill="#231815" />
<circle cx="201.8" cy="2315.0" r="4.6" fill="#231815" />
<circle cx="205.8" cy="2315.0" r="4.6" fill="#231815" />
<circle cx="237.4" cy="2254.9" r="4.6" fill="#231815" />
<circle cx="239.9" cy="2254.9" r="4.6" fill="#231815" />
<circle cx="242.9" cy="2254.9" r="4.6" fill="#231815" />
<circle cx="245.4" cy="2254.9" r="4.6" fill="#231815" />
<line x1="262.4" y1="2381.4" x2="262.4" y2="2362.4" stroke="#231815" stroke-width="1.8" />
<line x1="258.4" y1="2381.4" x2="266.4" y2="2381.4" stroke="#231815" stroke-width="1.8" />
<line x1="258.4" y1="2362.4" x2="266.4" y2="2362.4" stroke="#231815" stroke-width="1.8" />
<circle cx="258.4" cy="2362.4" r="4.6" fill="#231815" />
<circle cx="262.4" cy="2370.3" r="4.6" fill="#231815" />
<circle cx="266.4" cy="2381.4" r="4.6" fill="#231815" />
<line x1="284.2" y1="2302.3" x2="284.2" y2="2265.9" stroke="#231815" stroke-width="1.8" />
<line x1="280.2" y1="2302.3" x2="288.2" y2="2302.3" stroke="#231815" stroke-width="1.8" />
<line x1="280.2" y1="2265.9" x2="288.2" y2="2265.9" stroke="#231815" stroke-width="1.8" />
<circle cx="280.2" cy="2265.9" r="4.6" fill="#231815" />
<circle cx="284.2" cy="2283.3" r="4.6" fill="#231815" />
<circle cx="288.2" cy="2302.3" r="4.6" fill="#231815" />
<circle cx="300.9" cy="2307.1" r="4.6" fill="#231815" />
<circle cx="304.9" cy="2318.1" r="4.6" fill="#231815" />
<circle cx="308.9" cy="2322.9" r="4.6" fill="#231815" />
<circle cx="340.7" cy="2254.9" r="4.6" fill="#231815" />
<circle cx="343.2" cy="2254.9" r="4.6" fill="#231815" />
<circle cx="346.2" cy="2254.9" r="4.6" fill="#231815" />
<circle cx="348.7" cy="2254.9" r="4.6" fill="#231815" />
<line x1="365.7" y1="2345.0" x2="365.7" y2="2330.8" stroke="#231815" stroke-width="1.8" />
<line x1="361.7" y1="2345.0" x2="369.7" y2="2345.0" stroke="#231815" stroke-width="1.8" />
<line x1="361.7" y1="2330.8" x2="369.7" y2="2330.8" stroke="#231815" stroke-width="1.8" />
<circle cx="361.7" cy="2330.8" r="4.6" fill="#231815" />
<circle cx="365.7" cy="2337.1" r="4.6" fill="#231815" />
<circle cx="369.7" cy="2345.0" r="4.6" fill="#231815" />
<line x1="387.6" y1="2302.3" x2="387.6" y2="2286.5" stroke="#231815" stroke-width="1.8" />
<line x1="383.6" y1="2302.3" x2="391.6" y2="2302.3" stroke="#231815" stroke-width="1.8" />
<line x1="383.6" y1="2286.5" x2="391.6" y2="2286.5" stroke="#231815" stroke-width="1.8" />
<circle cx="383.6" cy="2286.5" r="4.6" fill="#231815" />
<circle cx="387.6" cy="2286.5" r="4.6" fill="#231815" />
<circle cx="391.6" cy="2302.3" r="4.6" fill="#231815" />
<line x1="408.2" y1="2305.5" x2="408.2" y2="2270.7" stroke="#231815" stroke-width="1.8" />
<line x1="404.2" y1="2305.5" x2="412.2" y2="2305.5" stroke="#231815" stroke-width="1.8" />
<line x1="404.2" y1="2270.7" x2="412.2" y2="2270.7" stroke="#231815" stroke-width="1.8" />
<circle cx="404.2" cy="2272.3" r="4.6" fill="#231815" />
<circle cx="408.2" cy="2296.0" r="4.6" fill="#231815" />
<circle cx="412.2" cy="2303.9" r="4.6" fill="#231815" />
<circle cx="443.3" cy="2254.9" r="4.6" fill="#231815" />
<circle cx="445.8" cy="2254.9" r="4.6" fill="#231815" />
<circle cx="448.8" cy="2254.9" r="4.6" fill="#231815" />
<circle cx="451.3" cy="2254.9" r="4.6" fill="#231815" />
<line x1="468.3" y1="2348.2" x2="468.3" y2="2333.9" stroke="#231815" stroke-width="1.8" />
<line x1="464.3" y1="2348.2" x2="472.3" y2="2348.2" stroke="#231815" stroke-width="1.8" />
<line x1="464.3" y1="2333.9" x2="472.3" y2="2333.9" stroke="#231815" stroke-width="1.8" />
<circle cx="464.3" cy="2332.4" r="4.6" fill="#231815" />
<circle cx="468.3" cy="2343.4" r="4.6" fill="#231815" />
<circle cx="472.3" cy="2346.6" r="4.6" fill="#231815" />
<line x1="490.2" y1="2296.0" x2="490.2" y2="2247.0" stroke="#231815" stroke-width="1.8" />
<line x1="486.2" y1="2296.0" x2="494.2" y2="2296.0" stroke="#231815" stroke-width="1.8" />
<line x1="486.2" y1="2247.0" x2="494.2" y2="2247.0" stroke="#231815" stroke-width="1.8" />
<circle cx="486.2" cy="2247.0" r="4.6" fill="#231815" />
<circle cx="490.2" cy="2283.3" r="4.6" fill="#231815" />
<circle cx="494.2" cy="2286.5" r="4.6" fill="#231815" />
<line x1="510.9" y1="2315.0" x2="510.9" y2="2273.8" stroke="#231815" stroke-width="1.8" />
<line x1="506.9" y1="2315.0" x2="514.9" y2="2315.0" stroke="#231815" stroke-width="1.8" />
<line x1="506.9" y1="2273.8" x2="514.9" y2="2273.8" stroke="#231815" stroke-width="1.8" />
<circle cx="506.9" cy="2273.8" r="4.6" fill="#231815" />
<circle cx="510.9" cy="2302.3" r="4.6" fill="#231815" />
<circle cx="514.9" cy="2311.8" r="4.6" fill="#231815" />
<line x1="120.5" y1="2174.8" x2="120.5" y2="2414.5" stroke="#231815" stroke-width="3" />
<line x1="108.4" y1="2413.0" x2="530.1" y2="2413.0" stroke="#231815" stroke-width="3" />
<line x1="108.4" y1="2175.8" x2="120.5" y2="2175.8" stroke="#231815" stroke-width="2.5" />
<text x="103.3" y="2182.3" font-size="18.5" text-anchor="end">1.5</text>
<line x1="108.4" y1="2254.9" x2="120.5" y2="2254.9" stroke="#231815" stroke-width="2.5" />
<text x="103.3" y="2261.4" font-size="18.5" text-anchor="end">1</text>
<line x1="108.4" y1="2333.9" x2="120.5" y2="2333.9" stroke="#231815" stroke-width="2.5" />
<text x="103.3" y="2340.4" font-size="18.5" text-anchor="end">0.5</text>
<line x1="108.4" y1="2413.0" x2="120.5" y2="2413.0" stroke="#231815" stroke-width="2.5" />
<text x="103.3" y="2419.5" font-size="18.5" text-anchor="end">0</text>
<line x1="168.7" y1="2413.0" x2="168.7" y2="2423.0" stroke="#231815" stroke-width="3" />
<line x1="271.9" y1="2413.0" x2="271.9" y2="2423.0" stroke="#231815" stroke-width="3" />
<line x1="375.2" y1="2413.0" x2="375.2" y2="2423.0" stroke="#231815" stroke-width="3" />
<line x1="477.8" y1="2413.0" x2="477.8" y2="2423.0" stroke="#231815" stroke-width="3" />
<path d="M138.2,2248.8 V2240.5 H159.2 V2343.4" fill="none" stroke="#231815" stroke-width="2.2" />
<path d="M159.2,2232.5 H181.0 V2255.6" fill="none" stroke="#231815" stroke-width="2.2" />
<path d="M159.2,2240.5 V2219.5 H201.7 V2298.7" fill="none" stroke="#231815" stroke-width="2.2" />
<text x="147.7" y="2243.0" font-size="19" text-anchor="middle">***</text>
<text x="170.1" y="2235.0" font-size="19" text-anchor="middle">**</text>
<text x="181.4" y="2223.0" font-size="19" text-anchor="middle">**</text>
<path d="M241.4,2248.8 V2240.5 H262.4 V2353.7" fill="none" stroke="#231815" stroke-width="2.2" />
<path d="M262.4,2232.5 H284.2 V2255.6" fill="none" stroke="#231815" stroke-width="2.2" />
<path d="M262.4,2240.5 V2219.5 H304.9 V2303.8" fill="none" stroke="#231815" stroke-width="2.2" />
<text x="250.9" y="2243.0" font-size="19" text-anchor="middle">***</text>
<text x="273.3" y="2235.0" font-size="19" text-anchor="middle">*</text>
<text x="284.6" y="2223.0" font-size="19" text-anchor="middle">**</text>
<path d="M344.7,2248.8 V2240.5 H365.7 V2321.0" fill="none" stroke="#231815" stroke-width="2.2" />
<path d="M365.7,2232.5 H387.6 V2276.3" fill="none" stroke="#231815" stroke-width="2.2" />
<path d="M365.7,2240.5 V2219.5 H408.2 V2260.8" fill="none" stroke="#231815" stroke-width="2.2" />
<text x="354.2" y="2243.0" font-size="19" text-anchor="middle">***</text>
<text x="376.6" y="2235.0" font-size="19" text-anchor="middle">**</text>
<text x="387.9" y="2223.0" font-size="19" text-anchor="middle">**</text>
<path d="M447.3,2248.8 V2240.5 H468.3 V2324.5" fill="none" stroke="#231815" stroke-width="2.2" />
<path d="M468.3,2232.5 H490.2 V2236.7" fill="none" stroke="#231815" stroke-width="2.2" />
<path d="M468.3,2240.5 V2219.5 H510.8 V2262.5" fill="none" stroke="#231815" stroke-width="2.2" />
<text x="456.8" y="2243.0" font-size="19" text-anchor="middle">***</text>
<text x="479.2" y="2235.0" font-size="19" text-anchor="middle">*</text>
<text x="490.6" y="2223.0" font-size="19" text-anchor="middle">*</text>
<text x="73.3" y="2297.0" font-size="19.8" text-anchor="middle" transform="rotate(-90 73.3 2297.0)">Relative expression level</text>
<text x="178.7" y="2434.0" font-size="19" text-anchor="end" font-style="italic" transform="rotate(-45 178.7 2434.0)">Zscan4</text>
<text x="281.9" y="2434.0" font-size="19" text-anchor="end" font-style="italic" transform="rotate(-45 281.9 2434.0)">MERVL</text>
<text x="385.2" y="2434.0" font-size="19" text-anchor="end" font-style="italic" transform="rotate(-45 385.2 2434.0)">Tmem92</text>
<text x="487.8" y="2434.0" font-size="19" text-anchor="end" font-style="italic" transform="rotate(-45 487.8 2434.0)">Gm8300</text>
<rect x="202.4" y="2146.5" width="17.2" height="9.5" fill="#2f4f9e" />
<text x="223.7" y="2157.0" font-size="19.5">Flag</text>
<rect x="202.4" y="2168.6" width="17.2" height="9.5" fill="#f03c0c" />
<text x="223.7" y="2179.1" font-size="19.5">L1td1</text>
<rect x="286.4" y="2146.5" width="17.2" height="9.5" fill="#ec9a44" />
<text x="307.7" y="2157.0" font-size="19.5">L1td1+shCnot10-1</text>
<rect x="286.4" y="2168.6" width="17.2" height="9.5" fill="#98d5c0" />
<text x="307.7" y="2179.1" font-size="19.5">L1td1+shCnot10-2</text>
<text x="0" y="0" font-size="30.1" font-weight="bold" transform="translate(595.9 2142.9) scale(1.03 1)">v</text>
<path d="M708.4,2378.5 H1661.2 V2465.5 H708.4 Z" fill="#ec9a00" />
<path d="M708.4,2465.5 L1661.2,2379 V2465.5 Z" fill="#96d3bf" />
<line x1="708.4" y1="2465.0" x2="1661.2" y2="2379.0" stroke="#fff" stroke-width="1.2" stroke-dasharray="5 3"/>
<text x="715.3" y="2428.0" font-size="24" font-weight="bold" textLength="134" lengthAdjust="spacingAndGlyphs">Totipotency</text>
<text x="1651.7" y="2428.2" font-size="23.5" text-anchor="end" font-weight="bold" textLength="125" lengthAdjust="spacingAndGlyphs">Pluripotency</text>
<circle cx="764.1" cy="2206.5" r="54.7" fill="#e8e8e8" stroke="#7a7a7a" stroke-width="2.4" />
<ellipse cx="743.9" cy="2207.7" rx="21.5" ry="36" fill="#dfdcb4" stroke="#9a9a8a" stroke-width="1.2"/>
<ellipse cx="785.8" cy="2207.7" rx="21.5" ry="36" fill="#dfdcb4" stroke="#9a9a8a" stroke-width="1.2"/>
<circle cx="744.0" cy="2207.7" r="10.7" fill="#9a9684" />
<circle cx="785.8" cy="2207.7" r="10.7" fill="#9a9684" />
<circle cx="764.8" cy="2179.0" r="5.0" fill="#dfdcb4" stroke="#9a9a8a" stroke-width="1" />
<text x="765.6" y="2143.6" font-size="23" text-anchor="middle">2-cell</text>
<text x="767.9" y="2316.3" font-size="23" text-anchor="middle">2CLC</text>
<circle cx="767.5" cy="2334.6" r="11.8" fill="#ec9a00" stroke="#fff" stroke-width="1" />
<circle cx="746.5" cy="2349.8" r="11.8" fill="#ec9a00" stroke="#fff" stroke-width="1" />
<circle cx="788.5" cy="2351.0" r="11.8" fill="#ec9a00" stroke="#fff" stroke-width="1" />
<circle cx="766.7" cy="2362.8" r="11.8" fill="#ec9a00" stroke="#fff" stroke-width="1" />
<path d="M903.5,2161.5 L904.8,2163.0 L906.0,2164.5 L907.3,2165.9 L908.6,2167.1 L909.8,2168.3 L911.1,2169.5 L912.3,2170.5 L913.6,2171.4 L914.9,2172.3 L916.2,2173.1 L917.5,2173.8 L918.8,2174.4 L920.1,2174.9 L921.5,2175.3 L922.8,2175.6 L924.2,2175.9 L925.6,2176.0 L927.1,2176.1 L928.5,2176.1 L930.0,2176.0 L932.3,2175.8 L934.6,2175.4 L937.0,2174.9 L939.5,2174.3 L942.0,2173.5 L944.5,2172.7 L947.1,2171.9 L949.6,2170.9 L952.2,2170.0 L954.8,2169.0 L957.3,2168.0 L959.8,2167.1 L962.3,2166.1 L964.7,2165.3 L967.1,2164.5 L969.5,2163.7 L971.7,2163.1 L973.9,2162.6 L976.0,2162.2 L978.0,2162.0 L979.5,2161.9 L980.9,2161.8 L982.2,2161.8 L983.5,2161.8 L984.8,2161.9 L986.0,2162.1 L987.1,2162.2 L988.2,2162.5 L989.3,2162.7 L990.3,2163.0 L991.3,2163.3 L992.2,2163.7 L993.1,2164.0 L994.0,2164.4 L994.8,2164.8 L995.6,2165.2 L996.4,2165.7 L997.1,2166.1 L997.8,2166.6 L998.5,2167.0" fill="none" stroke="#2a4aa0" stroke-width="2.0" />
<path d="M914.9,2172.3l2.8,-4.1M921.5,2175.3l1.5,-4.8M928.5,2176.1l-0.1,-5.0M937.0,2174.9l-1.0,-4.9M944.5,2172.7l-1.5,-4.8M952.2,2170.0l-1.7,-4.7M959.8,2167.1l-1.8,-4.7M967.1,2164.5l-1.6,-4.7M973.9,2162.6l-1.1,-4.9M980.9,2161.8l-0.2,-5.0M988.2,2162.5l1.0,-4.9M994.8,2164.8l2.2,-4.5" fill="none" stroke="#2a4aa0" stroke-width="1.4" />
<path d="M903.5,2240.2 L904.8,2241.7 L906.0,2243.2 L907.3,2244.6 L908.6,2245.8 L909.8,2247.0 L911.1,2248.2 L912.3,2249.2 L913.6,2250.1 L914.9,2251.0 L916.2,2251.8 L917.5,2252.5 L918.8,2253.1 L920.1,2253.6 L921.5,2254.0 L922.8,2254.3 L924.2,2254.6 L925.6,2254.7 L927.1,2254.8 L928.5,2254.8 L930.0,2254.7 L932.3,2254.5 L934.6,2254.1 L937.0,2253.6 L939.5,2253.0 L942.0,2252.2 L944.5,2251.4 L947.1,2250.6 L949.6,2249.6 L952.2,2248.7 L954.8,2247.7 L957.3,2246.7 L959.8,2245.8 L962.3,2244.8 L964.7,2244.0 L967.1,2243.2 L969.5,2242.4 L971.7,2241.8 L973.9,2241.3 L976.0,2240.9 L978.0,2240.7 L979.5,2240.6 L980.9,2240.5 L982.2,2240.5 L983.5,2240.5 L984.8,2240.6 L986.0,2240.8 L987.1,2240.9 L988.2,2241.2 L989.3,2241.4 L990.3,2241.7 L991.3,2242.0 L992.2,2242.4 L993.1,2242.7 L994.0,2243.1 L994.8,2243.5 L995.6,2243.9 L996.4,2244.4 L997.1,2244.8 L997.8,2245.3 L998.5,2245.7" fill="none" stroke="#2a4aa0" stroke-width="2.0" />
<path d="M914.9,2251.0l2.8,-4.1M921.5,2254.0l1.5,-4.8M928.5,2254.8l-0.1,-5.0M937.0,2253.6l-1.0,-4.9M944.5,2251.4l-1.5,-4.8M952.2,2248.7l-1.7,-4.7M959.8,2245.8l-1.8,-4.7M967.1,2243.2l-1.6,-4.7M973.9,2241.3l-1.1,-4.9M980.9,2240.5l-0.2,-5.0M988.2,2241.2l1.0,-4.9M994.8,2243.5l2.2,-4.5" fill="none" stroke="#2a4aa0" stroke-width="1.4" />
<text x="997.5" y="2172.6" font-size="23">AAAA</text>
<text x="997.5" y="2251.3" font-size="23">AAAA</text>
<line x1="1070.7" y1="2158.9" x2="1070.7" y2="2176.9" stroke="#231815" stroke-width="2.8" />
<path d="M1065.8,2161.9 L1070.7,2152.9 L1075.6,2161.9 Z" fill="#231815" />
<line x1="1070.7" y1="2237.6" x2="1070.7" y2="2255.6" stroke="#231815" stroke-width="2.8" />
<path d="M1065.8,2240.6 L1070.7,2231.6 L1075.6,2240.6 Z" fill="#231815" />
<text x="875.4" y="2203.8" font-size="23">Zscan4</text>
<text x="872.3" y="2282.0" font-size="23">MERVL</text>
<defs><linearGradient id="dag" x1="1082" y1="0" x2="1267" y2="0" gradientUnits="userSpaceOnUse"><stop offset="0" stop-color="#eba020"/><stop offset="1" stop-color="#8ed4c0"/></linearGradient></defs>
<path d="M1082.3,2204.6 L1130.7,2177.2 V2196.2 H1218.4 V2177.3 L1266.7,2204.8 L1218.4,2232.3 V2212.6 H1130.7 V2232.4 Z" fill="url(#dag)" />
<path d="M1314.9,2160.5 L1316.2,2162.0 L1317.4,2163.5 L1318.7,2164.9 L1320.0,2166.1 L1321.2,2167.3 L1322.5,2168.5 L1323.7,2169.5 L1325.0,2170.4 L1326.3,2171.3 L1327.6,2172.1 L1328.9,2172.8 L1330.2,2173.4 L1331.5,2173.9 L1332.9,2174.3 L1334.2,2174.6 L1335.6,2174.9 L1337.0,2175.0 L1338.5,2175.1 L1339.9,2175.1 L1341.4,2175.0 L1343.7,2174.8 L1346.0,2174.4 L1348.4,2173.9 L1350.9,2173.3 L1353.4,2172.5 L1355.9,2171.7 L1358.5,2170.9 L1361.0,2169.9 L1363.6,2169.0 L1366.2,2168.0 L1368.7,2167.0 L1371.2,2166.1 L1373.7,2165.1 L1376.1,2164.3 L1378.5,2163.5 L1380.9,2162.7 L1383.1,2162.1 L1385.3,2161.6 L1387.4,2161.2 L1389.4,2161.0 L1390.9,2160.9 L1392.3,2160.8 L1393.6,2160.8 L1394.9,2160.8 L1396.2,2160.9 L1397.4,2161.1 L1398.5,2161.2 L1399.6,2161.5 L1400.7,2161.7 L1401.7,2162.0 L1402.7,2162.3 L1403.6,2162.7 L1404.5,2163.0 L1405.4,2163.4 L1406.2,2163.8 L1407.0,2164.2 L1407.8,2164.7 L1408.5,2165.1 L1409.2,2165.6 L1409.9,2166.0" fill="none" stroke="#2a4aa0" stroke-width="2.0" />
<path d="M1326.3,2171.3l2.8,-4.1M1332.9,2174.3l1.5,-4.8M1339.9,2175.1l-0.1,-5.0M1348.4,2173.9l-1.0,-4.9M1355.9,2171.7l-1.5,-4.8M1363.6,2169.0l-1.7,-4.7M1371.2,2166.1l-1.8,-4.7M1378.5,2163.5l-1.6,-4.7M1385.3,2161.6l-1.1,-4.9M1392.3,2160.8l-0.2,-5.0M1399.6,2161.5l1.0,-4.9M1406.2,2163.8l2.2,-4.5" fill="none" stroke="#2a4aa0" stroke-width="1.4" />
<path d="M1314.9,2239.5 L1316.2,2241.0 L1317.4,2242.5 L1318.7,2243.9 L1320.0,2245.1 L1321.2,2246.3 L1322.5,2247.5 L1323.7,2248.5 L1325.0,2249.4 L1326.3,2250.3 L1327.6,2251.1 L1328.9,2251.8 L1330.2,2252.4 L1331.5,2252.9 L1332.9,2253.3 L1334.2,2253.6 L1335.6,2253.9 L1337.0,2254.0 L1338.5,2254.1 L1339.9,2254.1 L1341.4,2254.0 L1343.7,2253.8 L1346.0,2253.4 L1348.4,2252.9 L1350.9,2252.3 L1353.4,2251.5 L1355.9,2250.7 L1358.5,2249.9 L1361.0,2248.9 L1363.6,2248.0 L1366.2,2247.0 L1368.7,2246.0 L1371.2,2245.1 L1373.7,2244.1 L1376.1,2243.3 L1378.5,2242.5 L1380.9,2241.7 L1383.1,2241.1 L1385.3,2240.6 L1387.4,2240.2 L1389.4,2240.0 L1390.9,2239.9 L1392.3,2239.8 L1393.6,2239.8 L1394.9,2239.8 L1396.2,2239.9 L1397.4,2240.1 L1398.5,2240.2 L1399.6,2240.5 L1400.7,2240.7 L1401.7,2241.0 L1402.7,2241.3 L1403.6,2241.7 L1404.5,2242.0 L1405.4,2242.4 L1406.2,2242.8 L1407.0,2243.2 L1407.8,2243.7 L1408.5,2244.1 L1409.2,2244.6 L1409.9,2245.0" fill="none" stroke="#2a4aa0" stroke-width="2.0" />
<path d="M1326.3,2250.3l2.8,-4.1M1332.9,2253.3l1.5,-4.8M1339.9,2254.1l-0.1,-5.0M1348.4,2252.9l-1.0,-4.9M1355.9,2250.7l-1.5,-4.8M1363.6,2248.0l-1.7,-4.7M1371.2,2245.1l-1.8,-4.7M1378.5,2242.5l-1.6,-4.7M1385.3,2240.6l-1.1,-4.9M1392.3,2239.8l-0.2,-5.0M1399.6,2240.5l1.0,-4.9M1406.2,2242.8l2.2,-4.5" fill="none" stroke="#2a4aa0" stroke-width="1.4" />
<ellipse cx="1404.2" cy="2138.8" rx="34" ry="15.5" fill="#c6dcf6"/>
<path d="M1443.4,2165.2 L1429.5,2148.5 A26,26 0 1 1 1429.5,2181.9 Z" fill="#c8b8e6" />
<circle cx="1453.4" cy="2155.2" r="4.2" fill="none" stroke="#777" stroke-width="0.9" />
<text x="1404.2" y="2145.3" font-size="23" text-anchor="middle">L1td1</text>
<text x="1409.8" y="2170.9" font-size="23">AA</text>
<ellipse cx="1404.2" cy="2214.2" rx="34" ry="15.5" fill="#c6dcf6"/>
<path d="M1443.4,2246.2 L1429.5,2229.5 A26,26 0 1 1 1429.5,2262.9 Z" fill="#c8b8e6" />
<circle cx="1453.4" cy="2236.2" r="4.2" fill="none" stroke="#777" stroke-width="0.9" />
<text x="1404.2" y="2220.7" font-size="23" text-anchor="middle">L1td1</text>
<text x="1409.8" y="2250.0" font-size="23">AA</text>
<text x="1288.1" y="2203.6" font-size="23">Zscan4</text>
<text x="1285.5" y="2281.3" font-size="23">MERVL</text>
<text x="1424.2" y="2294.1" font-size="23">CCR-NOT4</text>
<line x1="1385.3" y1="2295.2" x2="1385.3" y2="2312.0" stroke="#231815" stroke-width="2.2" />
<path d="M1380.5,2310 L1385.3,2318 L1390.1,2310 Z" fill="#231815" />
<path d="M1348,2335 q5,6 10,0 q4,-6 8,-10 M1363,2338 q4,4 8,-2 M1372,2340 q5,6 10,0 q4,-6 8,-8 M1386,2328 q4,8 9,12 M1372,2330 v-4 M1384,2326 v-4 M1398,2330 v-4 M1358,2328 v-4" fill="none" stroke="#2a4aa0" stroke-width="1.6" />
<text x="1395.5" y="2366.0" font-size="23" text-anchor="middle">Degradation</text>
<circle cx="1598.2" cy="2206.7" r="54.6" fill="#e9e9e9" stroke="#7a7a7a" stroke-width="2.4" />
<ellipse cx="1598.2" cy="2161.2" rx="11.5" ry="7.5" fill="#e2dcb6" stroke="#b8b498" stroke-width="0.9" transform="rotate(0.0 1598.2 2161.2)"/>
<ellipse cx="1615.6" cy="2164.7" rx="11.5" ry="7.5" fill="#e2dcb6" stroke="#b8b498" stroke-width="0.9" transform="rotate(22.5 1615.6 2164.7)"/>
<ellipse cx="1630.4" cy="2174.5" rx="11.5" ry="7.5" fill="#e2dcb6" stroke="#b8b498" stroke-width="0.9" transform="rotate(45.0 1630.4 2174.5)"/>
<ellipse cx="1640.2" cy="2189.3" rx="11.5" ry="7.5" fill="#e2dcb6" stroke="#b8b498" stroke-width="0.9" transform="rotate(67.5 1640.2 2189.3)"/>
<ellipse cx="1643.7" cy="2206.7" rx="11.5" ry="7.5" fill="#e2dcb6" stroke="#b8b498" stroke-width="0.9" transform="rotate(90.0 1643.7 2206.7)"/>
<ellipse cx="1640.2" cy="2224.1" rx="11.5" ry="7.5" fill="#e2dcb6" stroke="#b8b498" stroke-width="0.9" transform="rotate(112.5 1640.2 2224.1)"/>
<ellipse cx="1630.4" cy="2238.9" rx="11.5" ry="7.5" fill="#e2dcb6" stroke="#b8b498" stroke-width="0.9" transform="rotate(135.0 1630.4 2238.9)"/>
<ellipse cx="1615.6" cy="2248.7" rx="11.5" ry="7.5" fill="#e2dcb6" stroke="#b8b498" stroke-width="0.9" transform="rotate(157.5 1615.6 2248.7)"/>
<ellipse cx="1598.2" cy="2252.2" rx="11.5" ry="7.5" fill="#e2dcb6" stroke="#b8b498" stroke-width="0.9" transform="rotate(180.0 1598.2 2252.2)"/>
<ellipse cx="1580.8" cy="2248.7" rx="11.5" ry="7.5" fill="#e2dcb6" stroke="#b8b498" stroke-width="0.9" transform="rotate(202.5 1580.8 2248.7)"/>
<ellipse cx="1566.0" cy="2238.9" rx="11.5" ry="7.5" fill="#e2dcb6" stroke="#b8b498" stroke-width="0.9" transform="rotate(225.0 1566.0 2238.9)"/>
<ellipse cx="1556.2" cy="2224.1" rx="11.5" ry="7.5" fill="#e2dcb6" stroke="#b8b498" stroke-width="0.9" transform="rotate(247.5 1556.2 2224.1)"/>
<ellipse cx="1552.7" cy="2206.7" rx="11.5" ry="7.5" fill="#e2dcb6" stroke="#b8b498" stroke-width="0.9" transform="rotate(270.0 1552.7 2206.7)"/>
<ellipse cx="1556.2" cy="2189.3" rx="11.5" ry="7.5" fill="#e2dcb6" stroke="#b8b498" stroke-width="0.9" transform="rotate(292.5 1556.2 2189.3)"/>
<ellipse cx="1566.0" cy="2174.5" rx="11.5" ry="7.5" fill="#e2dcb6" stroke="#b8b498" stroke-width="0.9" transform="rotate(315.0 1566.0 2174.5)"/>
<ellipse cx="1580.8" cy="2164.7" rx="11.5" ry="7.5" fill="#e2dcb6" stroke="#b8b498" stroke-width="0.9" transform="rotate(337.5 1580.8 2164.7)"/>
<circle cx="1582.0" cy="2180.0" r="6.5" fill="#8fd3bd" stroke="#6ab89e" stroke-width="0.8" />
<circle cx="1596.0" cy="2177.0" r="6.5" fill="#8fd3bd" stroke="#6ab89e" stroke-width="0.8" />
<circle cx="1610.0" cy="2178.0" r="6.5" fill="#8fd3bd" stroke="#6ab89e" stroke-width="0.8" />
<circle cx="1623.0" cy="2181.0" r="6.5" fill="#8fd3bd" stroke="#6ab89e" stroke-width="0.8" />
<circle cx="1575.0" cy="2190.0" r="6.5" fill="#8fd3bd" stroke="#6ab89e" stroke-width="0.8" />
<circle cx="1590.0" cy="2188.0" r="6.5" fill="#8fd3bd" stroke="#6ab89e" stroke-width="0.8" />
<circle cx="1604.0" cy="2187.0" r="6.5" fill="#8fd3bd" stroke="#6ab89e" stroke-width="0.8" />
<circle cx="1618.0" cy="2189.0" r="6.5" fill="#8fd3bd" stroke="#6ab89e" stroke-width="0.8" />
<circle cx="1631.0" cy="2190.0" r="6.5" fill="#8fd3bd" stroke="#6ab89e" stroke-width="0.8" />
<circle cx="1587.0" cy="2196.0" r="6.5" fill="#8fd3bd" stroke="#6ab89e" stroke-width="0.8" />
<circle cx="1601.0" cy="2196.0" r="6.5" fill="#8fd3bd" stroke="#6ab89e" stroke-width="0.8" />
<circle cx="1615.0" cy="2195.0" r="6.5" fill="#8fd3bd" stroke="#6ab89e" stroke-width="0.8" />
<text x="1602.8" y="2143.4" font-size="23" text-anchor="middle">Blastocyst</text>
<text x="1599.4" y="2315.2" font-size="23" text-anchor="middle">ESC</text>
<circle cx="1585.0" cy="2337.8" r="12.2" fill="#96d3bf" stroke="#fff" stroke-width="1" />
<circle cx="1608.3" cy="2334.0" r="12.2" fill="#96d3bf" stroke="#fff" stroke-width="1" />
<circle cx="1630.2" cy="2346.8" r="12.2" fill="#96d3bf" stroke="#fff" stroke-width="1" />
<circle cx="1568.0" cy="2354.7" r="12.2" fill="#96d3bf" stroke="#fff" stroke-width="1" />
<circle cx="1589.6" cy="2362.3" r="12.2" fill="#96d3bf" stroke="#fff" stroke-width="1" />
<circle cx="1612.2" cy="2361.5" r="12.2" fill="#96d3bf" stroke="#fff" stroke-width="1" />
</svg></body></html>
